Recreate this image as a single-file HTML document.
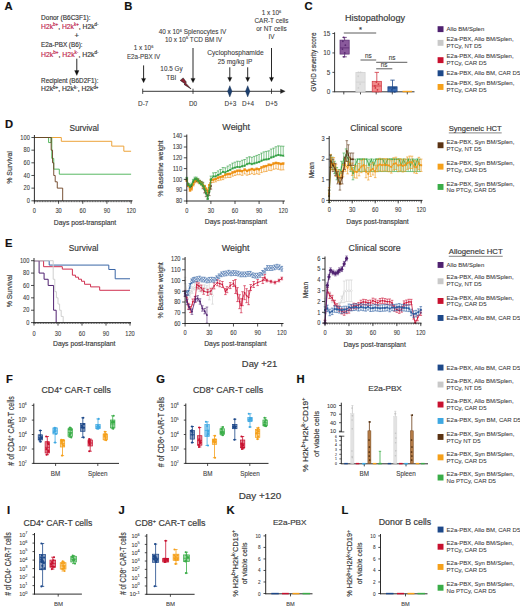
<!DOCTYPE html>
<html><head><meta charset="utf-8"><style>
html,body{margin:0;padding:0;background:#fff;}
body{width:520px;height:608px;overflow:hidden;}
svg{display:block;font-family:"Liberation Sans", sans-serif;}
</style></head><body>
<svg width="520" height="608" viewBox="0 0 520 608">
<rect width="520" height="608" fill="#fff"/>
<text x="4.60" y="10.30" font-size="11.2" text-anchor="start" fill="#111" font-weight="bold" stroke="#111" stroke-width="0.18">A</text>
<text x="41.10" y="19.80" font-size="6.9" text-anchor="start" fill="#3a3a3a" textLength="49.4" lengthAdjust="spacingAndGlyphs" stroke="#3a3a3a" stroke-width="0.18">Donor (B6C3F1):</text>
<text x="41.10" y="28.75" font-size="6.9" text-anchor="start" fill="#3a3a3a" textLength="57.4" lengthAdjust="spacingAndGlyphs" stroke="#3a3a3a" stroke-width="0.18"><tspan fill="#c0284f" stroke="#c0284f">H2k</tspan><tspan fill="#c0284f" stroke="#c0284f" dy="-2.6" font-size="4.6">b+</tspan><tspan dy="2.6">, </tspan><tspan fill="#c0284f" stroke="#c0284f">H2k</tspan><tspan fill="#c0284f" stroke="#c0284f" dy="-2.6" font-size="4.6">k+</tspan><tspan dy="2.6">, </tspan><tspan fill="#3a3a3a" stroke="#3a3a3a">H2k</tspan><tspan fill="#3a3a3a" stroke="#3a3a3a" dy="-2.6" font-size="4.6">d-</tspan><tspan dy="2.6"></tspan></text>
<text x="76.80" y="37.60" font-size="7.6" text-anchor="middle" fill="#3a3a3a" stroke="#3a3a3a" stroke-width="0.18">+</text>
<text x="41.10" y="47.20" font-size="6.9" text-anchor="start" fill="#3a3a3a" textLength="41.5" lengthAdjust="spacingAndGlyphs" stroke="#3a3a3a" stroke-width="0.18">E2a-PBX (B6):</text>
<text x="41.10" y="56.90" font-size="6.9" text-anchor="start" fill="#3a3a3a" textLength="57.4" lengthAdjust="spacingAndGlyphs" stroke="#3a3a3a" stroke-width="0.18"><tspan fill="#c0284f" stroke="#c0284f">H2k</tspan><tspan fill="#c0284f" stroke="#c0284f" dy="-2.6" font-size="4.6">b+</tspan><tspan dy="2.6">, </tspan><tspan fill="#c0284f" stroke="#c0284f">H2k</tspan><tspan fill="#c0284f" stroke="#c0284f" dy="-2.6" font-size="4.6">k-</tspan><tspan dy="2.6">, </tspan><tspan fill="#3a3a3a" stroke="#3a3a3a">H2k</tspan><tspan fill="#3a3a3a" stroke="#3a3a3a" dy="-2.6" font-size="4.6">d-</tspan><tspan dy="2.6"></tspan></text>
<line x1="76.80" y1="58.70" x2="76.80" y2="71.50" stroke="#111" stroke-width="0.9"/>
<path d="M74.6,70.6 L76.8,75.4 L79.0,70.6 Z" stroke="#111" stroke-width="0.3" fill="#111"/>
<text x="41.10" y="82.90" font-size="6.9" text-anchor="start" fill="#3a3a3a" textLength="57.4" lengthAdjust="spacingAndGlyphs" stroke="#3a3a3a" stroke-width="0.18">Recipient (B6D2F1):</text>
<text x="41.10" y="91.10" font-size="6.9" text-anchor="start" fill="#3a3a3a" textLength="57.4" lengthAdjust="spacingAndGlyphs" stroke="#3a3a3a" stroke-width="0.18"><tspan fill="#3a3a3a" stroke="#3a3a3a">H2k</tspan><tspan fill="#3a3a3a" stroke="#3a3a3a" dy="-2.6" font-size="4.6">b+</tspan><tspan dy="2.6">, </tspan><tspan fill="#3a3a3a" stroke="#3a3a3a">H2k</tspan><tspan fill="#3a3a3a" stroke="#3a3a3a" dy="-2.6" font-size="4.6">k-</tspan><tspan dy="2.6">, </tspan><tspan fill="#3a3a3a" stroke="#3a3a3a">H2k</tspan><tspan fill="#3a3a3a" stroke="#3a3a3a" dy="-2.6" font-size="4.6">d+</tspan><tspan dy="2.6"></tspan></text>
<text x="124.20" y="10.00" font-size="11.2" text-anchor="start" fill="#111" font-weight="bold" stroke="#111" stroke-width="0.18">B</text>
<line x1="142.70" y1="91.30" x2="281.50" y2="91.30" stroke="#222" stroke-width="0.9"/>
<path d="M280.5,89.1 L285.2,91.3 L280.5,93.5 Z" stroke="#222" stroke-width="0.3" fill="#222"/>
<line x1="142.70" y1="88.70" x2="142.70" y2="93.90" stroke="#222" stroke-width="0.8"/>
<line x1="193.00" y1="88.70" x2="193.00" y2="93.90" stroke="#222" stroke-width="0.8"/>
<line x1="271.50" y1="88.70" x2="271.50" y2="93.90" stroke="#222" stroke-width="0.8"/>
<line x1="143.60" y1="65.40" x2="143.60" y2="79.20" stroke="#111" stroke-width="0.9"/>
<path d="M141.5,78.4 L143.6,82.7 L145.7,78.4 Z" stroke="#111" stroke-width="0.3" fill="#111"/>
<line x1="193.00" y1="48.00" x2="193.00" y2="79.20" stroke="#111" stroke-width="0.9"/>
<path d="M190.9,78.4 L193.0,82.7 L195.1,78.4 Z" stroke="#111" stroke-width="0.3" fill="#111"/>
<line x1="229.80" y1="67.30" x2="229.80" y2="78.20" stroke="#111" stroke-width="0.9"/>
<path d="M227.70000000000002,77.4 L229.8,81.7 L231.9,77.4 Z" stroke="#111" stroke-width="0.3" fill="#111"/>
<line x1="247.70" y1="67.30" x2="247.70" y2="78.20" stroke="#111" stroke-width="0.9"/>
<path d="M245.6,77.4 L247.7,81.7 L249.79999999999998,77.4 Z" stroke="#111" stroke-width="0.3" fill="#111"/>
<line x1="271.50" y1="48.00" x2="271.50" y2="78.20" stroke="#111" stroke-width="0.9"/>
<path d="M269.4,77.4 L271.5,81.7 L273.6,77.4 Z" stroke="#111" stroke-width="0.3" fill="#111"/>
<path d="M229.8,85.7 L232.0,91.3 L229.8,96.89999999999999 L227.60000000000002,91.3 Z" stroke="#0f2a52" stroke-width="0.4" fill="#1d3f6e"/>
<path d="M247.7,85.7 L249.89999999999998,91.3 L247.7,96.89999999999999 L245.5,91.3 Z" stroke="#0f2a52" stroke-width="0.4" fill="#1d3f6e"/>
<path d="M180.2,80.4 L183.2,77.9 L186.4,82.3 L185.6,82.9 L191.0,88.9 L184.0,84.4 L184.9,83.7 Z" stroke="#151515" stroke-width="0.55" fill="#8e2233" stroke-linejoin="round"/>
<text x="143.20" y="106.00" font-size="6.4" text-anchor="middle" fill="#3a3a3a" stroke="#3a3a3a" stroke-width="0.08">D-7</text>
<text x="193.00" y="106.00" font-size="6.4" text-anchor="middle" fill="#3a3a3a" stroke="#3a3a3a" stroke-width="0.08">D0</text>
<text x="230.40" y="106.00" font-size="6.4" text-anchor="middle" fill="#3a3a3a" stroke="#3a3a3a" stroke-width="0.08">D+3</text>
<text x="248.00" y="106.00" font-size="6.4" text-anchor="middle" fill="#3a3a3a" stroke="#3a3a3a" stroke-width="0.08">D+4</text>
<text x="271.50" y="106.00" font-size="6.4" text-anchor="middle" fill="#3a3a3a" stroke="#3a3a3a" stroke-width="0.08">D+5</text>
<text x="143.60" y="50.00" font-size="6.4" text-anchor="middle" fill="#3a3a3a" stroke="#3a3a3a" stroke-width="0.08">1 x 10<tspan dy="-2.2" font-size="4">6</tspan><tspan dy="2.2" font-size="1">&#8203;</tspan></text>
<text x="143.60" y="58.90" font-size="6.4" text-anchor="middle" fill="#3a3a3a" textLength="33.4" lengthAdjust="spacingAndGlyphs" stroke="#3a3a3a" stroke-width="0.08">E2a-PBX IV</text>
<text x="192.50" y="34.00" font-size="6.4" text-anchor="middle" fill="#3a3a3a" stroke="#3a3a3a" stroke-width="0.08">40 x 10<tspan dy="-2.2" font-size="4">6</tspan><tspan dy="2.2" font-size="1">&#8203;</tspan> Splenocytes IV</text>
<text x="193.50" y="41.60" font-size="6.4" text-anchor="middle" fill="#3a3a3a" stroke="#3a3a3a" stroke-width="0.08">10 x 10<tspan dy="-2.2" font-size="4">6</tspan><tspan dy="2.2" font-size="1">&#8203;</tspan> TCD BM IV</text>
<text x="171.50" y="71.40" font-size="6.4" text-anchor="middle" fill="#3a3a3a" textLength="22.3" lengthAdjust="spacingAndGlyphs" stroke="#3a3a3a" stroke-width="0.08">10.5 Gy</text>
<text x="171.30" y="80.00" font-size="6.4" text-anchor="middle" fill="#3a3a3a" stroke="#3a3a3a" stroke-width="0.08">TBI</text>
<text x="235.50" y="55.10" font-size="6.4" text-anchor="middle" fill="#3a3a3a" textLength="56.5" lengthAdjust="spacingAndGlyphs" stroke="#3a3a3a" stroke-width="0.08">Cyclophosphamide</text>
<text x="235.00" y="63.70" font-size="6.4" text-anchor="middle" fill="#3a3a3a" textLength="34.6" lengthAdjust="spacingAndGlyphs" stroke="#3a3a3a" stroke-width="0.08">25 mg/kg IP</text>
<text x="271.50" y="15.30" font-size="6.4" text-anchor="middle" fill="#3a3a3a" stroke="#3a3a3a" stroke-width="0.08">1 x 10<tspan dy="-2.2" font-size="4">6</tspan><tspan dy="2.2" font-size="1">&#8203;</tspan></text>
<text x="271.50" y="23.00" font-size="6.4" text-anchor="middle" fill="#3a3a3a" stroke="#3a3a3a" stroke-width="0.08">CAR-T cells</text>
<text x="271.50" y="31.00" font-size="6.4" text-anchor="middle" fill="#3a3a3a" stroke="#3a3a3a" stroke-width="0.08">or NT cells</text>
<text x="271.50" y="38.70" font-size="6.4" text-anchor="middle" fill="#3a3a3a" stroke="#3a3a3a" stroke-width="0.08">IV</text>
<text x="304.60" y="10.40" font-size="11.2" text-anchor="start" fill="#111" font-weight="bold" stroke="#111" stroke-width="0.18">C</text>
<text x="375.00" y="21.30" font-size="8.6" text-anchor="middle" fill="#3a3a3a" textLength="60" lengthAdjust="spacingAndGlyphs" stroke="#3a3a3a" stroke-width="0.18">Histopathology</text>
<line x1="334.60" y1="32.30" x2="334.60" y2="92.20" stroke="#222" stroke-width="0.9"/>
<line x1="334.60" y1="91.80" x2="414.50" y2="91.80" stroke="#222" stroke-width="0.9"/>
<line x1="332.40" y1="91.80" x2="334.60" y2="91.80" stroke="#222" stroke-width="0.8"/>
<text x="330.40" y="94.00" font-size="6.4" text-anchor="end" fill="#3a3a3a" stroke="#3a3a3a" stroke-width="0.08">0</text>
<line x1="332.40" y1="72.37" x2="334.60" y2="72.37" stroke="#222" stroke-width="0.8"/>
<text x="330.40" y="74.57" font-size="6.4" text-anchor="end" fill="#3a3a3a" stroke="#3a3a3a" stroke-width="0.08">5</text>
<line x1="332.40" y1="52.93" x2="334.60" y2="52.93" stroke="#222" stroke-width="0.8"/>
<text x="330.40" y="55.13" font-size="6.4" text-anchor="end" fill="#3a3a3a" stroke="#3a3a3a" stroke-width="0.08">10</text>
<line x1="332.40" y1="33.50" x2="334.60" y2="33.50" stroke="#222" stroke-width="0.8"/>
<text x="330.40" y="35.70" font-size="6.4" text-anchor="end" fill="#3a3a3a" stroke="#3a3a3a" stroke-width="0.08">15</text>
<line x1="343.80" y1="91.80" x2="343.80" y2="94.40" stroke="#222" stroke-width="0.8"/>
<line x1="360.50" y1="91.80" x2="360.50" y2="94.40" stroke="#222" stroke-width="0.8"/>
<line x1="376.20" y1="91.80" x2="376.20" y2="94.40" stroke="#222" stroke-width="0.8"/>
<line x1="392.30" y1="91.80" x2="392.30" y2="94.40" stroke="#222" stroke-width="0.8"/>
<line x1="407.30" y1="91.80" x2="407.30" y2="94.40" stroke="#222" stroke-width="0.8"/>
<text x="315.60" y="62.00" font-size="7.6" text-anchor="middle" fill="#3a3a3a" textLength="59" lengthAdjust="spacingAndGlyphs" transform="rotate(-90 315.60 62.00)" stroke="#3a3a3a" stroke-width="0.18">GVHD severity score</text>
<line x1="344.60" y1="37.39" x2="344.60" y2="56.82" stroke="#5a2a72" stroke-width="0.8"/>
<line x1="342.40" y1="37.39" x2="346.80" y2="37.39" stroke="#5a2a72" stroke-width="0.8"/>
<line x1="342.40" y1="56.82" x2="346.80" y2="56.82" stroke="#5a2a72" stroke-width="0.8"/>
<rect x="340.00" y="40.11" width="9.20" height="13.99" fill="#8a5a9c" stroke="#5a2a72" stroke-width="0.7"/>
<line x1="340.00" y1="47.88" x2="349.20" y2="47.88" stroke="#5a2a72" stroke-width="0.8"/>
<circle cx="343.72" cy="37.39" r="0.9" fill="#5a2a72"/>
<circle cx="342.85" cy="41.27" r="0.9" fill="#5a2a72"/>
<circle cx="345.35" cy="45.16" r="0.9" fill="#5a2a72"/>
<circle cx="342.46" cy="49.05" r="0.9" fill="#5a2a72"/>
<circle cx="344.78" cy="52.93" r="0.9" fill="#5a2a72"/>
<circle cx="343.93" cy="56.82" r="0.9" fill="#5a2a72"/>
<line x1="360.50" y1="72.37" x2="360.50" y2="91.80" stroke="#d0d0d0" stroke-width="0.8"/>
<line x1="358.30" y1="72.37" x2="362.70" y2="72.37" stroke="#d0d0d0" stroke-width="0.8"/>
<line x1="358.30" y1="91.80" x2="362.70" y2="91.80" stroke="#d0d0d0" stroke-width="0.8"/>
<rect x="355.90" y="72.37" width="9.20" height="19.43" fill="#e2e2e2" stroke="#d0d0d0" stroke-width="0.7"/>
<line x1="355.90" y1="82.08" x2="365.10" y2="82.08" stroke="#d0d0d0" stroke-width="0.8"/>
<circle cx="358.29" cy="72.37" r="0.9" fill="#d0d0d0"/>
<circle cx="360.54" cy="72.37" r="0.9" fill="#d0d0d0"/>
<circle cx="358.19" cy="76.25" r="0.9" fill="#d0d0d0"/>
<circle cx="360.17" cy="84.03" r="0.9" fill="#d0d0d0"/>
<circle cx="358.35" cy="87.91" r="0.9" fill="#d0d0d0"/>
<circle cx="358.45" cy="91.80" r="0.9" fill="#d0d0d0"/>
<line x1="376.80" y1="72.37" x2="376.80" y2="91.80" stroke="#d0343f" stroke-width="0.8"/>
<line x1="374.60" y1="72.37" x2="379.00" y2="72.37" stroke="#d0343f" stroke-width="0.8"/>
<line x1="374.60" y1="91.80" x2="379.00" y2="91.80" stroke="#d0343f" stroke-width="0.8"/>
<rect x="372.20" y="81.31" width="9.20" height="10.49" fill="#f08a8a" stroke="#d0343f" stroke-width="0.7"/>
<line x1="372.20" y1="85.97" x2="381.40" y2="85.97" stroke="#d0343f" stroke-width="0.8"/>
<circle cx="376.42" cy="82.08" r="0.9" fill="#d0343f"/>
<circle cx="378.43" cy="84.03" r="0.9" fill="#d0343f"/>
<circle cx="374.92" cy="85.97" r="0.9" fill="#d0343f"/>
<circle cx="375.42" cy="87.91" r="0.9" fill="#d0343f"/>
<circle cx="377.44" cy="89.86" r="0.9" fill="#d0343f"/>
<line x1="392.50" y1="80.14" x2="392.50" y2="91.80" stroke="#1d4889" stroke-width="0.8"/>
<line x1="390.30" y1="80.14" x2="394.70" y2="80.14" stroke="#1d4889" stroke-width="0.8"/>
<line x1="390.30" y1="91.80" x2="394.70" y2="91.80" stroke="#1d4889" stroke-width="0.8"/>
<rect x="387.90" y="86.75" width="9.20" height="5.05" fill="#3c6cb0" stroke="#1d4889" stroke-width="0.7"/>
<line x1="387.90" y1="87.91" x2="397.10" y2="87.91" stroke="#1d4889" stroke-width="0.8"/>
<circle cx="394.74" cy="87.91" r="0.9" fill="#1d4889"/>
<circle cx="392.89" cy="87.91" r="0.9" fill="#1d4889"/>
<circle cx="391.98" cy="89.86" r="0.9" fill="#1d4889"/>
<circle cx="394.88" cy="91.80" r="0.9" fill="#1d4889"/>
<line x1="402.50" y1="91.50" x2="412.00" y2="91.50" stroke="#f5a01a" stroke-width="1.4"/>
<line x1="343.80" y1="33.00" x2="376.20" y2="33.00" stroke="#333" stroke-width="0.8"/>
<text x="360.50" y="32.20" font-size="7.5" text-anchor="middle" fill="#3a3a3a" stroke="#3a3a3a" stroke-width="0.18">*</text>
<line x1="360.50" y1="60.00" x2="376.20" y2="60.00" stroke="#333" stroke-width="0.8"/>
<text x="368.30" y="58.00" font-size="6.4" text-anchor="middle" fill="#3a3a3a" stroke="#3a3a3a" stroke-width="0.08">ns</text>
<line x1="376.20" y1="62.30" x2="407.30" y2="62.30" stroke="#333" stroke-width="0.8"/>
<text x="392.00" y="60.30" font-size="6.4" text-anchor="middle" fill="#3a3a3a" stroke="#3a3a3a" stroke-width="0.08">ns</text>
<line x1="376.20" y1="68.80" x2="392.30" y2="68.80" stroke="#333" stroke-width="0.8"/>
<text x="384.20" y="66.80" font-size="6.4" text-anchor="middle" fill="#3a3a3a" stroke="#3a3a3a" stroke-width="0.08">ns</text>
<rect x="437.60" y="26.20" width="5.90" height="5.90" fill="#4f2170" stroke="none" stroke-width="0.6"/>
<text x="446.60" y="30.90" font-size="6.0" text-anchor="start" fill="#3a3a3a" stroke="#3a3a3a" stroke-width="0.08">Allo BM/Splen</text>
<rect x="437.60" y="39.90" width="5.90" height="5.90" fill="#c9c9c9" stroke="none" stroke-width="0.6"/>
<text x="446.60" y="41.10" font-size="6.0" text-anchor="start" fill="#3a3a3a" stroke="#3a3a3a" stroke-width="0.08">E2a-PBX, Allo BM/Splen,</text>
<text x="446.60" y="47.60" font-size="6.0" text-anchor="start" fill="#3a3a3a" stroke="#3a3a3a" stroke-width="0.08">PTCy, NT D5</text>
<rect x="437.60" y="57.20" width="5.90" height="5.90" fill="#c8102e" stroke="none" stroke-width="0.6"/>
<text x="446.60" y="58.20" font-size="6.0" text-anchor="start" fill="#3a3a3a" stroke="#3a3a3a" stroke-width="0.08">E2a-PBX, Allo BM/Splen,</text>
<text x="446.60" y="64.70" font-size="6.0" text-anchor="start" fill="#3a3a3a" stroke="#3a3a3a" stroke-width="0.08">PTCy, CAR D5</text>
<rect x="437.60" y="70.30" width="5.90" height="5.90" fill="#1d4889" stroke="none" stroke-width="0.6"/>
<text x="446.60" y="74.90" font-size="6.0" text-anchor="start" fill="#3a3a3a" stroke="#3a3a3a" stroke-width="0.08">E2a-PBX, Allo BM, CAR D5</text>
<rect x="437.60" y="84.00" width="5.90" height="5.90" fill="#f5a01a" stroke="none" stroke-width="0.6"/>
<text x="446.60" y="84.90" font-size="6.0" text-anchor="start" fill="#3a3a3a" stroke="#3a3a3a" stroke-width="0.08">E2a-PBX, Syn BM/Splen,</text>
<text x="446.60" y="91.50" font-size="6.0" text-anchor="start" fill="#3a3a3a" stroke="#3a3a3a" stroke-width="0.08">PTCy, CAR D5</text>
<text x="4.90" y="127.60" font-size="11.2" text-anchor="start" fill="#111" font-weight="bold" stroke="#111" stroke-width="0.18">D</text>
<text x="84.20" y="130.60" font-size="8.8" text-anchor="middle" fill="#3a3a3a" textLength="29.5" lengthAdjust="spacingAndGlyphs" stroke="#3a3a3a" stroke-width="0.18">Survival</text>
<path d="M34.40,137.50 H61.31 V137.50 H61.31 V141.30 H111.76 V141.30 H111.76 V146.11 H123.84 V146.11 H123.84 V151.24 H131.10 V151.24" stroke="#eda33a" stroke-width="1.0" fill="none"/>
<path d="M34.40,137.50 H48.58 V137.50 H48.58 V142.56 H51.16 V142.56 H51.16 V137.50 H51.81 V137.50 H51.81 V158.39 H53.74 V158.39 H53.74 V169.15 H59.30 V169.15 H59.30 V174.21 H131.10 V174.21" stroke="#45b04f" stroke-width="0.9" fill="none"/>
<path d="M34.40,137.50 H51.16 V137.50 H51.16 V150.16 H52.53 V150.16 H52.53 V162.82 H53.74 V162.82 H53.74 V175.48 H55.19 V175.48 H55.19 V181.81 H57.28 V181.81 H57.28 V188.14 H62.68 V188.14 H62.68 V200.80" stroke="#6b4020" stroke-width="0.9" fill="none"/>
<line x1="34.40" y1="135.00" x2="34.40" y2="201.25" stroke="#222" stroke-width="0.95"/>
<line x1="31.40" y1="200.80" x2="34.40" y2="200.80" stroke="#222" stroke-width="0.8"/>
<text x="29.80" y="203.05" font-size="6.3" text-anchor="end" fill="#3a3a3a" textLength="3.15" lengthAdjust="spacingAndGlyphs" stroke="#3a3a3a" stroke-width="0.08">0</text>
<line x1="31.40" y1="188.14" x2="34.40" y2="188.14" stroke="#222" stroke-width="0.8"/>
<text x="29.80" y="190.39" font-size="6.3" text-anchor="end" fill="#3a3a3a" textLength="6.3" lengthAdjust="spacingAndGlyphs" stroke="#3a3a3a" stroke-width="0.08">20</text>
<line x1="31.40" y1="175.48" x2="34.40" y2="175.48" stroke="#222" stroke-width="0.8"/>
<text x="29.80" y="177.73" font-size="6.3" text-anchor="end" fill="#3a3a3a" textLength="6.3" lengthAdjust="spacingAndGlyphs" stroke="#3a3a3a" stroke-width="0.08">40</text>
<line x1="31.40" y1="162.82" x2="34.40" y2="162.82" stroke="#222" stroke-width="0.8"/>
<text x="29.80" y="165.07" font-size="6.3" text-anchor="end" fill="#3a3a3a" textLength="6.3" lengthAdjust="spacingAndGlyphs" stroke="#3a3a3a" stroke-width="0.08">60</text>
<line x1="31.40" y1="150.16" x2="34.40" y2="150.16" stroke="#222" stroke-width="0.8"/>
<text x="29.80" y="152.41" font-size="6.3" text-anchor="end" fill="#3a3a3a" textLength="6.3" lengthAdjust="spacingAndGlyphs" stroke="#3a3a3a" stroke-width="0.08">80</text>
<line x1="31.40" y1="137.50" x2="34.40" y2="137.50" stroke="#222" stroke-width="0.8"/>
<text x="29.80" y="139.75" font-size="6.3" text-anchor="end" fill="#3a3a3a" textLength="9.45" lengthAdjust="spacingAndGlyphs" stroke="#3a3a3a" stroke-width="0.08">100</text>
<line x1="33.95" y1="200.80" x2="132.50" y2="200.80" stroke="#222" stroke-width="0.95"/>
<line x1="34.40" y1="200.80" x2="34.40" y2="203.80" stroke="#222" stroke-width="0.8"/>
<text x="34.40" y="212.80" font-size="6.3" text-anchor="middle" fill="#3a3a3a" textLength="3.15" lengthAdjust="spacingAndGlyphs" stroke="#3a3a3a" stroke-width="0.08">0</text>
<line x1="58.57" y1="200.80" x2="58.57" y2="203.80" stroke="#222" stroke-width="0.8"/>
<text x="58.57" y="212.80" font-size="6.3" text-anchor="middle" fill="#3a3a3a" textLength="6.3" lengthAdjust="spacingAndGlyphs" stroke="#3a3a3a" stroke-width="0.08">30</text>
<line x1="82.75" y1="200.80" x2="82.75" y2="203.80" stroke="#222" stroke-width="0.8"/>
<text x="82.75" y="212.80" font-size="6.3" text-anchor="middle" fill="#3a3a3a" textLength="6.3" lengthAdjust="spacingAndGlyphs" stroke="#3a3a3a" stroke-width="0.08">60</text>
<line x1="106.92" y1="200.80" x2="106.92" y2="203.80" stroke="#222" stroke-width="0.8"/>
<text x="106.92" y="212.80" font-size="6.3" text-anchor="middle" fill="#3a3a3a" textLength="6.3" lengthAdjust="spacingAndGlyphs" stroke="#3a3a3a" stroke-width="0.08">90</text>
<line x1="131.10" y1="200.80" x2="131.10" y2="203.80" stroke="#222" stroke-width="0.8"/>
<text x="131.10" y="212.80" font-size="6.3" text-anchor="middle" fill="#3a3a3a" textLength="9.45" lengthAdjust="spacingAndGlyphs" stroke="#3a3a3a" stroke-width="0.08">120</text>
<line x1="34.40" y1="200.80" x2="34.40" y2="202.20" stroke="#222" stroke-width="0.6"/>
<line x1="36.01" y1="200.80" x2="36.01" y2="202.20" stroke="#222" stroke-width="0.6"/>
<line x1="37.62" y1="200.80" x2="37.62" y2="202.20" stroke="#222" stroke-width="0.6"/>
<line x1="39.23" y1="200.80" x2="39.23" y2="202.20" stroke="#222" stroke-width="0.6"/>
<line x1="40.85" y1="200.80" x2="40.85" y2="202.20" stroke="#222" stroke-width="0.6"/>
<line x1="42.46" y1="200.80" x2="42.46" y2="202.20" stroke="#222" stroke-width="0.6"/>
<line x1="44.07" y1="200.80" x2="44.07" y2="202.20" stroke="#222" stroke-width="0.6"/>
<line x1="45.68" y1="200.80" x2="45.68" y2="202.20" stroke="#222" stroke-width="0.6"/>
<line x1="47.29" y1="200.80" x2="47.29" y2="202.20" stroke="#222" stroke-width="0.6"/>
<line x1="48.90" y1="200.80" x2="48.90" y2="202.20" stroke="#222" stroke-width="0.6"/>
<line x1="50.52" y1="200.80" x2="50.52" y2="202.20" stroke="#222" stroke-width="0.6"/>
<line x1="52.13" y1="200.80" x2="52.13" y2="202.20" stroke="#222" stroke-width="0.6"/>
<line x1="53.74" y1="200.80" x2="53.74" y2="202.20" stroke="#222" stroke-width="0.6"/>
<line x1="55.35" y1="200.80" x2="55.35" y2="202.20" stroke="#222" stroke-width="0.6"/>
<line x1="56.96" y1="200.80" x2="56.96" y2="202.20" stroke="#222" stroke-width="0.6"/>
<line x1="58.57" y1="200.80" x2="58.57" y2="202.20" stroke="#222" stroke-width="0.6"/>
<line x1="60.19" y1="200.80" x2="60.19" y2="202.20" stroke="#222" stroke-width="0.6"/>
<line x1="61.80" y1="200.80" x2="61.80" y2="202.20" stroke="#222" stroke-width="0.6"/>
<line x1="63.41" y1="200.80" x2="63.41" y2="202.20" stroke="#222" stroke-width="0.6"/>
<line x1="65.02" y1="200.80" x2="65.02" y2="202.20" stroke="#222" stroke-width="0.6"/>
<line x1="66.63" y1="200.80" x2="66.63" y2="202.20" stroke="#222" stroke-width="0.6"/>
<line x1="68.24" y1="200.80" x2="68.24" y2="202.20" stroke="#222" stroke-width="0.6"/>
<line x1="69.86" y1="200.80" x2="69.86" y2="202.20" stroke="#222" stroke-width="0.6"/>
<line x1="71.47" y1="200.80" x2="71.47" y2="202.20" stroke="#222" stroke-width="0.6"/>
<line x1="73.08" y1="200.80" x2="73.08" y2="202.20" stroke="#222" stroke-width="0.6"/>
<line x1="74.69" y1="200.80" x2="74.69" y2="202.20" stroke="#222" stroke-width="0.6"/>
<line x1="76.30" y1="200.80" x2="76.30" y2="202.20" stroke="#222" stroke-width="0.6"/>
<line x1="77.91" y1="200.80" x2="77.91" y2="202.20" stroke="#222" stroke-width="0.6"/>
<line x1="79.52" y1="200.80" x2="79.52" y2="202.20" stroke="#222" stroke-width="0.6"/>
<line x1="81.14" y1="200.80" x2="81.14" y2="202.20" stroke="#222" stroke-width="0.6"/>
<line x1="82.75" y1="200.80" x2="82.75" y2="202.20" stroke="#222" stroke-width="0.6"/>
<line x1="84.36" y1="200.80" x2="84.36" y2="202.20" stroke="#222" stroke-width="0.6"/>
<line x1="85.97" y1="200.80" x2="85.97" y2="202.20" stroke="#222" stroke-width="0.6"/>
<line x1="87.58" y1="200.80" x2="87.58" y2="202.20" stroke="#222" stroke-width="0.6"/>
<line x1="89.19" y1="200.80" x2="89.19" y2="202.20" stroke="#222" stroke-width="0.6"/>
<line x1="90.81" y1="200.80" x2="90.81" y2="202.20" stroke="#222" stroke-width="0.6"/>
<line x1="92.42" y1="200.80" x2="92.42" y2="202.20" stroke="#222" stroke-width="0.6"/>
<line x1="94.03" y1="200.80" x2="94.03" y2="202.20" stroke="#222" stroke-width="0.6"/>
<line x1="95.64" y1="200.80" x2="95.64" y2="202.20" stroke="#222" stroke-width="0.6"/>
<line x1="97.25" y1="200.80" x2="97.25" y2="202.20" stroke="#222" stroke-width="0.6"/>
<line x1="98.86" y1="200.80" x2="98.86" y2="202.20" stroke="#222" stroke-width="0.6"/>
<line x1="100.48" y1="200.80" x2="100.48" y2="202.20" stroke="#222" stroke-width="0.6"/>
<line x1="102.09" y1="200.80" x2="102.09" y2="202.20" stroke="#222" stroke-width="0.6"/>
<line x1="103.70" y1="200.80" x2="103.70" y2="202.20" stroke="#222" stroke-width="0.6"/>
<line x1="105.31" y1="200.80" x2="105.31" y2="202.20" stroke="#222" stroke-width="0.6"/>
<line x1="106.92" y1="200.80" x2="106.92" y2="202.20" stroke="#222" stroke-width="0.6"/>
<line x1="108.53" y1="200.80" x2="108.53" y2="202.20" stroke="#222" stroke-width="0.6"/>
<line x1="110.15" y1="200.80" x2="110.15" y2="202.20" stroke="#222" stroke-width="0.6"/>
<line x1="111.76" y1="200.80" x2="111.76" y2="202.20" stroke="#222" stroke-width="0.6"/>
<line x1="113.37" y1="200.80" x2="113.37" y2="202.20" stroke="#222" stroke-width="0.6"/>
<line x1="114.98" y1="200.80" x2="114.98" y2="202.20" stroke="#222" stroke-width="0.6"/>
<line x1="116.59" y1="200.80" x2="116.59" y2="202.20" stroke="#222" stroke-width="0.6"/>
<line x1="118.20" y1="200.80" x2="118.20" y2="202.20" stroke="#222" stroke-width="0.6"/>
<line x1="119.81" y1="200.80" x2="119.81" y2="202.20" stroke="#222" stroke-width="0.6"/>
<line x1="121.43" y1="200.80" x2="121.43" y2="202.20" stroke="#222" stroke-width="0.6"/>
<line x1="123.04" y1="200.80" x2="123.04" y2="202.20" stroke="#222" stroke-width="0.6"/>
<line x1="124.65" y1="200.80" x2="124.65" y2="202.20" stroke="#222" stroke-width="0.6"/>
<line x1="126.26" y1="200.80" x2="126.26" y2="202.20" stroke="#222" stroke-width="0.6"/>
<line x1="127.87" y1="200.80" x2="127.87" y2="202.20" stroke="#222" stroke-width="0.6"/>
<line x1="129.48" y1="200.80" x2="129.48" y2="202.20" stroke="#222" stroke-width="0.6"/>
<line x1="131.10" y1="200.80" x2="131.10" y2="202.20" stroke="#222" stroke-width="0.6"/>
<text x="11.60" y="167.40" font-size="8.0" text-anchor="middle" fill="#3a3a3a" textLength="32.6" lengthAdjust="spacingAndGlyphs" transform="rotate(-90 11.60 167.40)" stroke="#3a3a3a" stroke-width="0.18">% Survival</text>
<text x="85.00" y="224.60" font-size="8.0" text-anchor="middle" fill="#3a3a3a" textLength="62.4" lengthAdjust="spacingAndGlyphs" stroke="#3a3a3a" stroke-width="0.18">Days post-transplant</text>
<text x="4.90" y="247.40" font-size="11.2" text-anchor="start" fill="#111" font-weight="bold" stroke="#111" stroke-width="0.18">E</text>
<text x="83.60" y="250.60" font-size="8.8" text-anchor="middle" fill="#3a3a3a" textLength="29.5" lengthAdjust="spacingAndGlyphs" stroke="#3a3a3a" stroke-width="0.18">Survival</text>
<path d="M34.00,260.70 H49.20 V260.70 H49.20 V265.09 H108.80 V265.09 H108.80 V269.49 H115.20 V269.49 H115.20 V278.77 H130.00 V278.77" stroke="#3a66a6" stroke-width="1.0" fill="none"/>
<path d="M34.00,260.70 H43.60 V260.70 H43.60 V266.70 H62.32 V266.70 H62.32 V269.12 H72.40 V269.12 H72.40 V275.18 H75.44 V275.18 H75.44 V277.17 H78.48 V277.17 H78.48 V279.21 H81.52 V279.21 H81.52 V281.25 H84.56 V281.25 H84.56 V284.28 H90.56 V284.28 H90.56 V286.88 H99.68 V286.88 H99.68 V290.29 H130.00 V290.29" stroke="#d03050" stroke-width="1.0" fill="none"/>
<path d="M34.00,260.70 H39.12 V260.70 H39.12 V273.08 H44.08 V273.08 H44.08 V279.27 H48.16 V279.27 H48.16 V285.46 H53.60 V285.46 H53.60 V310.22 H56.16 V310.22 H56.16 V322.60" stroke="#4f2170" stroke-width="1.0" fill="none"/>
<path d="M34.00,260.70 H53.20 V260.70 H53.20 V279.27 H54.80 V279.27 H54.80 V291.65 H56.40 V291.65 H56.40 V297.84 H58.00 V297.84 H58.00 V304.03 H59.60 V304.03 H59.60 V310.22 H61.20 V310.22 H61.20 V316.41 H63.20 V316.41 H63.20 V322.60" stroke="#cfcfcf" stroke-width="1.0" fill="none"/>
<line x1="34.00" y1="258.00" x2="34.00" y2="323.05" stroke="#222" stroke-width="0.95"/>
<line x1="31.00" y1="322.60" x2="34.00" y2="322.60" stroke="#222" stroke-width="0.8"/>
<text x="29.40" y="324.85" font-size="6.3" text-anchor="end" fill="#3a3a3a" textLength="3.15" lengthAdjust="spacingAndGlyphs" stroke="#3a3a3a" stroke-width="0.08">0</text>
<line x1="31.00" y1="310.22" x2="34.00" y2="310.22" stroke="#222" stroke-width="0.8"/>
<text x="29.40" y="312.47" font-size="6.3" text-anchor="end" fill="#3a3a3a" textLength="6.3" lengthAdjust="spacingAndGlyphs" stroke="#3a3a3a" stroke-width="0.08">20</text>
<line x1="31.00" y1="297.84" x2="34.00" y2="297.84" stroke="#222" stroke-width="0.8"/>
<text x="29.40" y="300.09" font-size="6.3" text-anchor="end" fill="#3a3a3a" textLength="6.3" lengthAdjust="spacingAndGlyphs" stroke="#3a3a3a" stroke-width="0.08">40</text>
<line x1="31.00" y1="285.46" x2="34.00" y2="285.46" stroke="#222" stroke-width="0.8"/>
<text x="29.40" y="287.71" font-size="6.3" text-anchor="end" fill="#3a3a3a" textLength="6.3" lengthAdjust="spacingAndGlyphs" stroke="#3a3a3a" stroke-width="0.08">60</text>
<line x1="31.00" y1="273.08" x2="34.00" y2="273.08" stroke="#222" stroke-width="0.8"/>
<text x="29.40" y="275.33" font-size="6.3" text-anchor="end" fill="#3a3a3a" textLength="6.3" lengthAdjust="spacingAndGlyphs" stroke="#3a3a3a" stroke-width="0.08">80</text>
<line x1="31.00" y1="260.70" x2="34.00" y2="260.70" stroke="#222" stroke-width="0.8"/>
<text x="29.40" y="262.95" font-size="6.3" text-anchor="end" fill="#3a3a3a" textLength="9.45" lengthAdjust="spacingAndGlyphs" stroke="#3a3a3a" stroke-width="0.08">100</text>
<line x1="33.55" y1="322.60" x2="131.00" y2="322.60" stroke="#222" stroke-width="0.95"/>
<line x1="34.00" y1="322.60" x2="34.00" y2="325.60" stroke="#222" stroke-width="0.8"/>
<text x="34.00" y="335.60" font-size="6.3" text-anchor="middle" fill="#3a3a3a" textLength="3.15" lengthAdjust="spacingAndGlyphs" stroke="#3a3a3a" stroke-width="0.08">0</text>
<line x1="58.00" y1="322.60" x2="58.00" y2="325.60" stroke="#222" stroke-width="0.8"/>
<text x="58.00" y="335.60" font-size="6.3" text-anchor="middle" fill="#3a3a3a" textLength="6.3" lengthAdjust="spacingAndGlyphs" stroke="#3a3a3a" stroke-width="0.08">30</text>
<line x1="82.00" y1="322.60" x2="82.00" y2="325.60" stroke="#222" stroke-width="0.8"/>
<text x="82.00" y="335.60" font-size="6.3" text-anchor="middle" fill="#3a3a3a" textLength="6.3" lengthAdjust="spacingAndGlyphs" stroke="#3a3a3a" stroke-width="0.08">60</text>
<line x1="106.00" y1="322.60" x2="106.00" y2="325.60" stroke="#222" stroke-width="0.8"/>
<text x="106.00" y="335.60" font-size="6.3" text-anchor="middle" fill="#3a3a3a" textLength="6.3" lengthAdjust="spacingAndGlyphs" stroke="#3a3a3a" stroke-width="0.08">90</text>
<line x1="130.00" y1="322.60" x2="130.00" y2="325.60" stroke="#222" stroke-width="0.8"/>
<text x="130.00" y="335.60" font-size="6.3" text-anchor="middle" fill="#3a3a3a" textLength="9.45" lengthAdjust="spacingAndGlyphs" stroke="#3a3a3a" stroke-width="0.08">120</text>
<line x1="34.00" y1="322.60" x2="34.00" y2="324.00" stroke="#222" stroke-width="0.6"/>
<line x1="35.60" y1="322.60" x2="35.60" y2="324.00" stroke="#222" stroke-width="0.6"/>
<line x1="37.20" y1="322.60" x2="37.20" y2="324.00" stroke="#222" stroke-width="0.6"/>
<line x1="38.80" y1="322.60" x2="38.80" y2="324.00" stroke="#222" stroke-width="0.6"/>
<line x1="40.40" y1="322.60" x2="40.40" y2="324.00" stroke="#222" stroke-width="0.6"/>
<line x1="42.00" y1="322.60" x2="42.00" y2="324.00" stroke="#222" stroke-width="0.6"/>
<line x1="43.60" y1="322.60" x2="43.60" y2="324.00" stroke="#222" stroke-width="0.6"/>
<line x1="45.20" y1="322.60" x2="45.20" y2="324.00" stroke="#222" stroke-width="0.6"/>
<line x1="46.80" y1="322.60" x2="46.80" y2="324.00" stroke="#222" stroke-width="0.6"/>
<line x1="48.40" y1="322.60" x2="48.40" y2="324.00" stroke="#222" stroke-width="0.6"/>
<line x1="50.00" y1="322.60" x2="50.00" y2="324.00" stroke="#222" stroke-width="0.6"/>
<line x1="51.60" y1="322.60" x2="51.60" y2="324.00" stroke="#222" stroke-width="0.6"/>
<line x1="53.20" y1="322.60" x2="53.20" y2="324.00" stroke="#222" stroke-width="0.6"/>
<line x1="54.80" y1="322.60" x2="54.80" y2="324.00" stroke="#222" stroke-width="0.6"/>
<line x1="56.40" y1="322.60" x2="56.40" y2="324.00" stroke="#222" stroke-width="0.6"/>
<line x1="58.00" y1="322.60" x2="58.00" y2="324.00" stroke="#222" stroke-width="0.6"/>
<line x1="59.60" y1="322.60" x2="59.60" y2="324.00" stroke="#222" stroke-width="0.6"/>
<line x1="61.20" y1="322.60" x2="61.20" y2="324.00" stroke="#222" stroke-width="0.6"/>
<line x1="62.80" y1="322.60" x2="62.80" y2="324.00" stroke="#222" stroke-width="0.6"/>
<line x1="64.40" y1="322.60" x2="64.40" y2="324.00" stroke="#222" stroke-width="0.6"/>
<line x1="66.00" y1="322.60" x2="66.00" y2="324.00" stroke="#222" stroke-width="0.6"/>
<line x1="67.60" y1="322.60" x2="67.60" y2="324.00" stroke="#222" stroke-width="0.6"/>
<line x1="69.20" y1="322.60" x2="69.20" y2="324.00" stroke="#222" stroke-width="0.6"/>
<line x1="70.80" y1="322.60" x2="70.80" y2="324.00" stroke="#222" stroke-width="0.6"/>
<line x1="72.40" y1="322.60" x2="72.40" y2="324.00" stroke="#222" stroke-width="0.6"/>
<line x1="74.00" y1="322.60" x2="74.00" y2="324.00" stroke="#222" stroke-width="0.6"/>
<line x1="75.60" y1="322.60" x2="75.60" y2="324.00" stroke="#222" stroke-width="0.6"/>
<line x1="77.20" y1="322.60" x2="77.20" y2="324.00" stroke="#222" stroke-width="0.6"/>
<line x1="78.80" y1="322.60" x2="78.80" y2="324.00" stroke="#222" stroke-width="0.6"/>
<line x1="80.40" y1="322.60" x2="80.40" y2="324.00" stroke="#222" stroke-width="0.6"/>
<line x1="82.00" y1="322.60" x2="82.00" y2="324.00" stroke="#222" stroke-width="0.6"/>
<line x1="83.60" y1="322.60" x2="83.60" y2="324.00" stroke="#222" stroke-width="0.6"/>
<line x1="85.20" y1="322.60" x2="85.20" y2="324.00" stroke="#222" stroke-width="0.6"/>
<line x1="86.80" y1="322.60" x2="86.80" y2="324.00" stroke="#222" stroke-width="0.6"/>
<line x1="88.40" y1="322.60" x2="88.40" y2="324.00" stroke="#222" stroke-width="0.6"/>
<line x1="90.00" y1="322.60" x2="90.00" y2="324.00" stroke="#222" stroke-width="0.6"/>
<line x1="91.60" y1="322.60" x2="91.60" y2="324.00" stroke="#222" stroke-width="0.6"/>
<line x1="93.20" y1="322.60" x2="93.20" y2="324.00" stroke="#222" stroke-width="0.6"/>
<line x1="94.80" y1="322.60" x2="94.80" y2="324.00" stroke="#222" stroke-width="0.6"/>
<line x1="96.40" y1="322.60" x2="96.40" y2="324.00" stroke="#222" stroke-width="0.6"/>
<line x1="98.00" y1="322.60" x2="98.00" y2="324.00" stroke="#222" stroke-width="0.6"/>
<line x1="99.60" y1="322.60" x2="99.60" y2="324.00" stroke="#222" stroke-width="0.6"/>
<line x1="101.20" y1="322.60" x2="101.20" y2="324.00" stroke="#222" stroke-width="0.6"/>
<line x1="102.80" y1="322.60" x2="102.80" y2="324.00" stroke="#222" stroke-width="0.6"/>
<line x1="104.40" y1="322.60" x2="104.40" y2="324.00" stroke="#222" stroke-width="0.6"/>
<line x1="106.00" y1="322.60" x2="106.00" y2="324.00" stroke="#222" stroke-width="0.6"/>
<line x1="107.60" y1="322.60" x2="107.60" y2="324.00" stroke="#222" stroke-width="0.6"/>
<line x1="109.20" y1="322.60" x2="109.20" y2="324.00" stroke="#222" stroke-width="0.6"/>
<line x1="110.80" y1="322.60" x2="110.80" y2="324.00" stroke="#222" stroke-width="0.6"/>
<line x1="112.40" y1="322.60" x2="112.40" y2="324.00" stroke="#222" stroke-width="0.6"/>
<line x1="114.00" y1="322.60" x2="114.00" y2="324.00" stroke="#222" stroke-width="0.6"/>
<line x1="115.60" y1="322.60" x2="115.60" y2="324.00" stroke="#222" stroke-width="0.6"/>
<line x1="117.20" y1="322.60" x2="117.20" y2="324.00" stroke="#222" stroke-width="0.6"/>
<line x1="118.80" y1="322.60" x2="118.80" y2="324.00" stroke="#222" stroke-width="0.6"/>
<line x1="120.40" y1="322.60" x2="120.40" y2="324.00" stroke="#222" stroke-width="0.6"/>
<line x1="122.00" y1="322.60" x2="122.00" y2="324.00" stroke="#222" stroke-width="0.6"/>
<line x1="123.60" y1="322.60" x2="123.60" y2="324.00" stroke="#222" stroke-width="0.6"/>
<line x1="125.20" y1="322.60" x2="125.20" y2="324.00" stroke="#222" stroke-width="0.6"/>
<line x1="126.80" y1="322.60" x2="126.80" y2="324.00" stroke="#222" stroke-width="0.6"/>
<line x1="128.40" y1="322.60" x2="128.40" y2="324.00" stroke="#222" stroke-width="0.6"/>
<line x1="130.00" y1="322.60" x2="130.00" y2="324.00" stroke="#222" stroke-width="0.6"/>
<text x="11.60" y="291.00" font-size="8.0" text-anchor="middle" fill="#3a3a3a" textLength="32.6" lengthAdjust="spacingAndGlyphs" transform="rotate(-90 11.60 291.00)" stroke="#3a3a3a" stroke-width="0.18">% Survival</text>
<text x="84.20" y="346.00" font-size="8.0" text-anchor="middle" fill="#3a3a3a" textLength="62.4" lengthAdjust="spacingAndGlyphs" stroke="#3a3a3a" stroke-width="0.18">Days post-transplant</text>
<text x="236.20" y="130.30" font-size="8.8" text-anchor="middle" fill="#3a3a3a" textLength="27.7" lengthAdjust="spacingAndGlyphs" stroke="#3a3a3a" stroke-width="0.18">Weight</text>
<line x1="186.80" y1="178.10" x2="186.80" y2="180.70" stroke="#5a3212" stroke-width="0.6"/>
<line x1="185.50" y1="178.10" x2="188.10" y2="178.10" stroke="#5a3212" stroke-width="0.6"/>
<line x1="185.50" y1="180.70" x2="188.10" y2="180.70" stroke="#5a3212" stroke-width="0.6"/>
<line x1="188.41" y1="183.86" x2="188.41" y2="186.46" stroke="#5a3212" stroke-width="0.6"/>
<line x1="187.11" y1="183.86" x2="189.71" y2="183.86" stroke="#5a3212" stroke-width="0.6"/>
<line x1="187.11" y1="186.46" x2="189.71" y2="186.46" stroke="#5a3212" stroke-width="0.6"/>
<line x1="190.01" y1="186.02" x2="190.01" y2="188.62" stroke="#5a3212" stroke-width="0.6"/>
<line x1="188.71" y1="186.02" x2="191.31" y2="186.02" stroke="#5a3212" stroke-width="0.6"/>
<line x1="188.71" y1="188.62" x2="191.31" y2="188.62" stroke="#5a3212" stroke-width="0.6"/>
<line x1="191.62" y1="184.58" x2="191.62" y2="187.18" stroke="#5a3212" stroke-width="0.6"/>
<line x1="190.32" y1="184.58" x2="192.92" y2="184.58" stroke="#5a3212" stroke-width="0.6"/>
<line x1="190.32" y1="187.18" x2="192.92" y2="187.18" stroke="#5a3212" stroke-width="0.6"/>
<line x1="193.23" y1="181.88" x2="193.23" y2="184.48" stroke="#5a3212" stroke-width="0.6"/>
<line x1="191.93" y1="181.88" x2="194.53" y2="181.88" stroke="#5a3212" stroke-width="0.6"/>
<line x1="191.93" y1="184.48" x2="194.53" y2="184.48" stroke="#5a3212" stroke-width="0.6"/>
<line x1="194.83" y1="179.18" x2="194.83" y2="181.78" stroke="#5a3212" stroke-width="0.6"/>
<line x1="193.53" y1="179.18" x2="196.13" y2="179.18" stroke="#5a3212" stroke-width="0.6"/>
<line x1="193.53" y1="181.78" x2="196.13" y2="181.78" stroke="#5a3212" stroke-width="0.6"/>
<line x1="196.44" y1="179.18" x2="196.44" y2="181.78" stroke="#5a3212" stroke-width="0.6"/>
<line x1="195.14" y1="179.18" x2="197.74" y2="179.18" stroke="#5a3212" stroke-width="0.6"/>
<line x1="195.14" y1="181.78" x2="197.74" y2="181.78" stroke="#5a3212" stroke-width="0.6"/>
<line x1="198.05" y1="179.18" x2="198.05" y2="181.78" stroke="#5a3212" stroke-width="0.6"/>
<line x1="196.75" y1="179.18" x2="199.35" y2="179.18" stroke="#5a3212" stroke-width="0.6"/>
<line x1="196.75" y1="181.78" x2="199.35" y2="181.78" stroke="#5a3212" stroke-width="0.6"/>
<line x1="199.65" y1="180.26" x2="199.65" y2="182.86" stroke="#5a3212" stroke-width="0.6"/>
<line x1="198.35" y1="180.26" x2="200.95" y2="180.26" stroke="#5a3212" stroke-width="0.6"/>
<line x1="198.35" y1="182.86" x2="200.95" y2="182.86" stroke="#5a3212" stroke-width="0.6"/>
<line x1="201.26" y1="181.34" x2="201.26" y2="183.94" stroke="#5a3212" stroke-width="0.6"/>
<line x1="199.96" y1="181.34" x2="202.56" y2="181.34" stroke="#5a3212" stroke-width="0.6"/>
<line x1="199.96" y1="183.94" x2="202.56" y2="183.94" stroke="#5a3212" stroke-width="0.6"/>
<line x1="202.87" y1="182.28" x2="202.87" y2="188.76" stroke="#5a3212" stroke-width="0.6"/>
<line x1="201.57" y1="182.28" x2="204.17" y2="182.28" stroke="#5a3212" stroke-width="0.6"/>
<line x1="201.57" y1="188.76" x2="204.17" y2="188.76" stroke="#5a3212" stroke-width="0.6"/>
<line x1="204.47" y1="186.42" x2="204.47" y2="192.90" stroke="#5a3212" stroke-width="0.6"/>
<line x1="203.17" y1="186.42" x2="205.77" y2="186.42" stroke="#5a3212" stroke-width="0.6"/>
<line x1="203.17" y1="192.90" x2="205.77" y2="192.90" stroke="#5a3212" stroke-width="0.6"/>
<line x1="206.08" y1="190.20" x2="206.08" y2="196.68" stroke="#5a3212" stroke-width="0.6"/>
<line x1="204.78" y1="190.20" x2="207.38" y2="190.20" stroke="#5a3212" stroke-width="0.6"/>
<line x1="204.78" y1="196.68" x2="207.38" y2="196.68" stroke="#5a3212" stroke-width="0.6"/>
<line x1="207.69" y1="192.36" x2="207.69" y2="198.84" stroke="#5a3212" stroke-width="0.6"/>
<line x1="206.39" y1="192.36" x2="208.99" y2="192.36" stroke="#5a3212" stroke-width="0.6"/>
<line x1="206.39" y1="198.84" x2="208.99" y2="198.84" stroke="#5a3212" stroke-width="0.6"/>
<line x1="209.29" y1="189.12" x2="209.29" y2="195.60" stroke="#5a3212" stroke-width="0.6"/>
<line x1="207.99" y1="189.12" x2="210.59" y2="189.12" stroke="#5a3212" stroke-width="0.6"/>
<line x1="207.99" y1="195.60" x2="210.59" y2="195.60" stroke="#5a3212" stroke-width="0.6"/>
<line x1="210.90" y1="182.64" x2="210.90" y2="189.12" stroke="#5a3212" stroke-width="0.6"/>
<line x1="209.60" y1="182.64" x2="212.20" y2="182.64" stroke="#5a3212" stroke-width="0.6"/>
<line x1="209.60" y1="189.12" x2="212.20" y2="189.12" stroke="#5a3212" stroke-width="0.6"/>
<path d="M186.80,179.40 L188.41,185.16 L190.01,187.32 L191.62,185.88 L193.23,183.18 L194.83,180.48 L196.44,180.48 L198.05,180.48 L199.65,181.56 L201.26,182.64 L202.87,185.52 L204.47,189.66 L206.08,193.44 L207.69,195.60 L209.29,192.36 L210.90,185.88" stroke="#5a3212" stroke-width="0.8" fill="none" stroke-linejoin="round"/>
<circle cx="186.80" cy="179.40" r="0.95" fill="#5a3212"/>
<circle cx="188.41" cy="185.16" r="0.95" fill="#5a3212"/>
<circle cx="190.01" cy="187.32" r="0.95" fill="#5a3212"/>
<circle cx="191.62" cy="185.88" r="0.95" fill="#5a3212"/>
<circle cx="193.23" cy="183.18" r="0.95" fill="#5a3212"/>
<circle cx="194.83" cy="180.48" r="0.95" fill="#5a3212"/>
<circle cx="196.44" cy="180.48" r="0.95" fill="#5a3212"/>
<circle cx="198.05" cy="180.48" r="0.95" fill="#5a3212"/>
<circle cx="199.65" cy="181.56" r="0.95" fill="#5a3212"/>
<circle cx="201.26" cy="182.64" r="0.95" fill="#5a3212"/>
<circle cx="202.87" cy="185.52" r="0.95" fill="#5a3212"/>
<circle cx="204.47" cy="189.66" r="0.95" fill="#5a3212"/>
<circle cx="206.08" cy="193.44" r="0.95" fill="#5a3212"/>
<circle cx="207.69" cy="195.60" r="0.95" fill="#5a3212"/>
<circle cx="209.29" cy="192.36" r="0.95" fill="#5a3212"/>
<circle cx="210.90" cy="185.88" r="0.95" fill="#5a3212"/>
<line x1="186.80" y1="179.32" x2="186.80" y2="181.48" stroke="#ee9012" stroke-width="0.6"/>
<line x1="185.50" y1="179.32" x2="188.10" y2="179.32" stroke="#ee9012" stroke-width="0.6"/>
<line x1="185.50" y1="181.48" x2="188.10" y2="181.48" stroke="#ee9012" stroke-width="0.6"/>
<line x1="188.41" y1="184.40" x2="188.41" y2="186.64" stroke="#ee9012" stroke-width="0.6"/>
<line x1="187.11" y1="184.40" x2="189.71" y2="184.40" stroke="#ee9012" stroke-width="0.6"/>
<line x1="187.11" y1="186.64" x2="189.71" y2="186.64" stroke="#ee9012" stroke-width="0.6"/>
<line x1="190.01" y1="189.16" x2="190.01" y2="191.48" stroke="#ee9012" stroke-width="0.6"/>
<line x1="188.71" y1="189.16" x2="191.31" y2="189.16" stroke="#ee9012" stroke-width="0.6"/>
<line x1="188.71" y1="191.48" x2="191.31" y2="191.48" stroke="#ee9012" stroke-width="0.6"/>
<line x1="191.62" y1="187.79" x2="191.62" y2="190.19" stroke="#ee9012" stroke-width="0.6"/>
<line x1="190.32" y1="187.79" x2="192.92" y2="187.79" stroke="#ee9012" stroke-width="0.6"/>
<line x1="190.32" y1="190.19" x2="192.92" y2="190.19" stroke="#ee9012" stroke-width="0.6"/>
<line x1="193.23" y1="183.52" x2="193.23" y2="186.00" stroke="#ee9012" stroke-width="0.6"/>
<line x1="191.93" y1="183.52" x2="194.53" y2="183.52" stroke="#ee9012" stroke-width="0.6"/>
<line x1="191.93" y1="186.00" x2="194.53" y2="186.00" stroke="#ee9012" stroke-width="0.6"/>
<line x1="194.83" y1="180.31" x2="194.83" y2="182.87" stroke="#ee9012" stroke-width="0.6"/>
<line x1="193.53" y1="180.31" x2="196.13" y2="180.31" stroke="#ee9012" stroke-width="0.6"/>
<line x1="193.53" y1="182.87" x2="196.13" y2="182.87" stroke="#ee9012" stroke-width="0.6"/>
<line x1="196.44" y1="178.35" x2="196.44" y2="181.00" stroke="#ee9012" stroke-width="0.6"/>
<line x1="195.14" y1="178.35" x2="197.74" y2="178.35" stroke="#ee9012" stroke-width="0.6"/>
<line x1="195.14" y1="181.00" x2="197.74" y2="181.00" stroke="#ee9012" stroke-width="0.6"/>
<line x1="198.05" y1="180.17" x2="198.05" y2="182.89" stroke="#ee9012" stroke-width="0.6"/>
<line x1="196.75" y1="180.17" x2="199.35" y2="180.17" stroke="#ee9012" stroke-width="0.6"/>
<line x1="196.75" y1="182.89" x2="199.35" y2="182.89" stroke="#ee9012" stroke-width="0.6"/>
<line x1="199.65" y1="180.91" x2="199.65" y2="183.72" stroke="#ee9012" stroke-width="0.6"/>
<line x1="198.35" y1="180.91" x2="200.95" y2="180.91" stroke="#ee9012" stroke-width="0.6"/>
<line x1="198.35" y1="183.72" x2="200.95" y2="183.72" stroke="#ee9012" stroke-width="0.6"/>
<line x1="201.26" y1="182.26" x2="201.26" y2="185.14" stroke="#ee9012" stroke-width="0.6"/>
<line x1="199.96" y1="182.26" x2="202.56" y2="182.26" stroke="#ee9012" stroke-width="0.6"/>
<line x1="199.96" y1="185.14" x2="202.56" y2="185.14" stroke="#ee9012" stroke-width="0.6"/>
<line x1="202.87" y1="184.16" x2="202.87" y2="187.13" stroke="#ee9012" stroke-width="0.6"/>
<line x1="201.57" y1="184.16" x2="204.17" y2="184.16" stroke="#ee9012" stroke-width="0.6"/>
<line x1="201.57" y1="187.13" x2="204.17" y2="187.13" stroke="#ee9012" stroke-width="0.6"/>
<line x1="204.47" y1="185.29" x2="204.47" y2="188.34" stroke="#ee9012" stroke-width="0.6"/>
<line x1="203.17" y1="185.29" x2="205.77" y2="185.29" stroke="#ee9012" stroke-width="0.6"/>
<line x1="203.17" y1="188.34" x2="205.77" y2="188.34" stroke="#ee9012" stroke-width="0.6"/>
<line x1="206.08" y1="187.93" x2="206.08" y2="191.06" stroke="#ee9012" stroke-width="0.6"/>
<line x1="204.78" y1="187.93" x2="207.38" y2="187.93" stroke="#ee9012" stroke-width="0.6"/>
<line x1="204.78" y1="191.06" x2="207.38" y2="191.06" stroke="#ee9012" stroke-width="0.6"/>
<line x1="207.69" y1="190.10" x2="207.69" y2="193.31" stroke="#ee9012" stroke-width="0.6"/>
<line x1="206.39" y1="190.10" x2="208.99" y2="190.10" stroke="#ee9012" stroke-width="0.6"/>
<line x1="206.39" y1="193.31" x2="208.99" y2="193.31" stroke="#ee9012" stroke-width="0.6"/>
<line x1="209.29" y1="184.44" x2="209.29" y2="187.74" stroke="#ee9012" stroke-width="0.6"/>
<line x1="207.99" y1="184.44" x2="210.59" y2="184.44" stroke="#ee9012" stroke-width="0.6"/>
<line x1="207.99" y1="187.74" x2="210.59" y2="187.74" stroke="#ee9012" stroke-width="0.6"/>
<line x1="210.90" y1="179.30" x2="210.90" y2="182.68" stroke="#ee9012" stroke-width="0.6"/>
<line x1="209.60" y1="179.30" x2="212.20" y2="179.30" stroke="#ee9012" stroke-width="0.6"/>
<line x1="209.60" y1="182.68" x2="212.20" y2="182.68" stroke="#ee9012" stroke-width="0.6"/>
<line x1="213.31" y1="178.88" x2="213.31" y2="182.37" stroke="#ee9012" stroke-width="0.6"/>
<line x1="212.01" y1="178.88" x2="214.61" y2="178.88" stroke="#ee9012" stroke-width="0.6"/>
<line x1="212.01" y1="182.37" x2="214.61" y2="182.37" stroke="#ee9012" stroke-width="0.6"/>
<line x1="215.72" y1="178.21" x2="215.72" y2="181.83" stroke="#ee9012" stroke-width="0.6"/>
<line x1="214.42" y1="178.21" x2="217.02" y2="178.21" stroke="#ee9012" stroke-width="0.6"/>
<line x1="214.42" y1="181.83" x2="217.02" y2="181.83" stroke="#ee9012" stroke-width="0.6"/>
<line x1="218.13" y1="176.88" x2="218.13" y2="180.62" stroke="#ee9012" stroke-width="0.6"/>
<line x1="216.83" y1="176.88" x2="219.43" y2="176.88" stroke="#ee9012" stroke-width="0.6"/>
<line x1="216.83" y1="180.62" x2="219.43" y2="180.62" stroke="#ee9012" stroke-width="0.6"/>
<line x1="220.54" y1="176.24" x2="220.54" y2="180.10" stroke="#ee9012" stroke-width="0.6"/>
<line x1="219.24" y1="176.24" x2="221.84" y2="176.24" stroke="#ee9012" stroke-width="0.6"/>
<line x1="219.24" y1="180.10" x2="221.84" y2="180.10" stroke="#ee9012" stroke-width="0.6"/>
<line x1="222.95" y1="175.64" x2="222.95" y2="179.62" stroke="#ee9012" stroke-width="0.6"/>
<line x1="221.65" y1="175.64" x2="224.25" y2="175.64" stroke="#ee9012" stroke-width="0.6"/>
<line x1="221.65" y1="179.62" x2="224.25" y2="179.62" stroke="#ee9012" stroke-width="0.6"/>
<line x1="225.36" y1="173.92" x2="225.36" y2="178.03" stroke="#ee9012" stroke-width="0.6"/>
<line x1="224.06" y1="173.92" x2="226.66" y2="173.92" stroke="#ee9012" stroke-width="0.6"/>
<line x1="224.06" y1="178.03" x2="226.66" y2="178.03" stroke="#ee9012" stroke-width="0.6"/>
<line x1="227.77" y1="173.22" x2="227.77" y2="177.45" stroke="#ee9012" stroke-width="0.6"/>
<line x1="226.47" y1="173.22" x2="229.07" y2="173.22" stroke="#ee9012" stroke-width="0.6"/>
<line x1="226.47" y1="177.45" x2="229.07" y2="177.45" stroke="#ee9012" stroke-width="0.6"/>
<line x1="230.18" y1="173.15" x2="230.18" y2="177.49" stroke="#ee9012" stroke-width="0.6"/>
<line x1="228.88" y1="173.15" x2="231.48" y2="173.15" stroke="#ee9012" stroke-width="0.6"/>
<line x1="228.88" y1="177.49" x2="231.48" y2="177.49" stroke="#ee9012" stroke-width="0.6"/>
<line x1="232.59" y1="171.71" x2="232.59" y2="176.18" stroke="#ee9012" stroke-width="0.6"/>
<line x1="231.29" y1="171.71" x2="233.89" y2="171.71" stroke="#ee9012" stroke-width="0.6"/>
<line x1="231.29" y1="176.18" x2="233.89" y2="176.18" stroke="#ee9012" stroke-width="0.6"/>
<line x1="235.00" y1="170.93" x2="235.00" y2="175.52" stroke="#ee9012" stroke-width="0.6"/>
<line x1="233.70" y1="170.93" x2="236.30" y2="170.93" stroke="#ee9012" stroke-width="0.6"/>
<line x1="233.70" y1="175.52" x2="236.30" y2="175.52" stroke="#ee9012" stroke-width="0.6"/>
<line x1="237.41" y1="170.00" x2="237.41" y2="174.72" stroke="#ee9012" stroke-width="0.6"/>
<line x1="236.11" y1="170.00" x2="238.71" y2="170.00" stroke="#ee9012" stroke-width="0.6"/>
<line x1="236.11" y1="174.72" x2="238.71" y2="174.72" stroke="#ee9012" stroke-width="0.6"/>
<line x1="239.82" y1="169.93" x2="239.82" y2="174.76" stroke="#ee9012" stroke-width="0.6"/>
<line x1="238.52" y1="169.93" x2="241.12" y2="169.93" stroke="#ee9012" stroke-width="0.6"/>
<line x1="238.52" y1="174.76" x2="241.12" y2="174.76" stroke="#ee9012" stroke-width="0.6"/>
<line x1="242.23" y1="170.37" x2="242.23" y2="175.32" stroke="#ee9012" stroke-width="0.6"/>
<line x1="240.93" y1="170.37" x2="243.53" y2="170.37" stroke="#ee9012" stroke-width="0.6"/>
<line x1="240.93" y1="175.32" x2="243.53" y2="175.32" stroke="#ee9012" stroke-width="0.6"/>
<line x1="244.64" y1="168.85" x2="244.64" y2="173.93" stroke="#ee9012" stroke-width="0.6"/>
<line x1="243.34" y1="168.85" x2="245.94" y2="168.85" stroke="#ee9012" stroke-width="0.6"/>
<line x1="243.34" y1="173.93" x2="245.94" y2="173.93" stroke="#ee9012" stroke-width="0.6"/>
<line x1="247.05" y1="170.02" x2="247.05" y2="175.21" stroke="#ee9012" stroke-width="0.6"/>
<line x1="245.75" y1="170.02" x2="248.35" y2="170.02" stroke="#ee9012" stroke-width="0.6"/>
<line x1="245.75" y1="175.21" x2="248.35" y2="175.21" stroke="#ee9012" stroke-width="0.6"/>
<line x1="249.46" y1="169.17" x2="249.46" y2="174.49" stroke="#ee9012" stroke-width="0.6"/>
<line x1="248.16" y1="169.17" x2="250.76" y2="169.17" stroke="#ee9012" stroke-width="0.6"/>
<line x1="248.16" y1="174.49" x2="250.76" y2="174.49" stroke="#ee9012" stroke-width="0.6"/>
<line x1="251.87" y1="168.26" x2="251.87" y2="173.70" stroke="#ee9012" stroke-width="0.6"/>
<line x1="250.57" y1="168.26" x2="253.17" y2="168.26" stroke="#ee9012" stroke-width="0.6"/>
<line x1="250.57" y1="173.70" x2="253.17" y2="173.70" stroke="#ee9012" stroke-width="0.6"/>
<line x1="254.28" y1="168.99" x2="254.28" y2="174.55" stroke="#ee9012" stroke-width="0.6"/>
<line x1="252.98" y1="168.99" x2="255.58" y2="168.99" stroke="#ee9012" stroke-width="0.6"/>
<line x1="252.98" y1="174.55" x2="255.58" y2="174.55" stroke="#ee9012" stroke-width="0.6"/>
<line x1="256.69" y1="168.08" x2="256.69" y2="173.76" stroke="#ee9012" stroke-width="0.6"/>
<line x1="255.39" y1="168.08" x2="257.99" y2="168.08" stroke="#ee9012" stroke-width="0.6"/>
<line x1="255.39" y1="173.76" x2="257.99" y2="173.76" stroke="#ee9012" stroke-width="0.6"/>
<line x1="259.10" y1="168.53" x2="259.10" y2="174.34" stroke="#ee9012" stroke-width="0.6"/>
<line x1="257.80" y1="168.53" x2="260.40" y2="168.53" stroke="#ee9012" stroke-width="0.6"/>
<line x1="257.80" y1="174.34" x2="260.40" y2="174.34" stroke="#ee9012" stroke-width="0.6"/>
<line x1="261.51" y1="166.67" x2="261.51" y2="172.60" stroke="#ee9012" stroke-width="0.6"/>
<line x1="260.21" y1="166.67" x2="262.81" y2="166.67" stroke="#ee9012" stroke-width="0.6"/>
<line x1="260.21" y1="172.60" x2="262.81" y2="172.60" stroke="#ee9012" stroke-width="0.6"/>
<line x1="263.92" y1="165.74" x2="263.92" y2="171.78" stroke="#ee9012" stroke-width="0.6"/>
<line x1="262.62" y1="165.74" x2="265.22" y2="165.74" stroke="#ee9012" stroke-width="0.6"/>
<line x1="262.62" y1="171.78" x2="265.22" y2="171.78" stroke="#ee9012" stroke-width="0.6"/>
<line x1="266.33" y1="165.30" x2="266.33" y2="171.47" stroke="#ee9012" stroke-width="0.6"/>
<line x1="265.03" y1="165.30" x2="267.63" y2="165.30" stroke="#ee9012" stroke-width="0.6"/>
<line x1="265.03" y1="171.47" x2="267.63" y2="171.47" stroke="#ee9012" stroke-width="0.6"/>
<line x1="268.74" y1="164.00" x2="268.74" y2="170.29" stroke="#ee9012" stroke-width="0.6"/>
<line x1="267.44" y1="164.00" x2="270.04" y2="164.00" stroke="#ee9012" stroke-width="0.6"/>
<line x1="267.44" y1="170.29" x2="270.04" y2="170.29" stroke="#ee9012" stroke-width="0.6"/>
<line x1="271.15" y1="164.20" x2="271.15" y2="170.61" stroke="#ee9012" stroke-width="0.6"/>
<line x1="269.85" y1="164.20" x2="272.45" y2="164.20" stroke="#ee9012" stroke-width="0.6"/>
<line x1="269.85" y1="170.61" x2="272.45" y2="170.61" stroke="#ee9012" stroke-width="0.6"/>
<line x1="273.56" y1="162.77" x2="273.56" y2="169.30" stroke="#ee9012" stroke-width="0.6"/>
<line x1="272.26" y1="162.77" x2="274.86" y2="162.77" stroke="#ee9012" stroke-width="0.6"/>
<line x1="272.26" y1="169.30" x2="274.86" y2="169.30" stroke="#ee9012" stroke-width="0.6"/>
<line x1="275.97" y1="162.17" x2="275.97" y2="168.83" stroke="#ee9012" stroke-width="0.6"/>
<line x1="274.67" y1="162.17" x2="277.27" y2="162.17" stroke="#ee9012" stroke-width="0.6"/>
<line x1="274.67" y1="168.83" x2="277.27" y2="168.83" stroke="#ee9012" stroke-width="0.6"/>
<line x1="278.38" y1="162.56" x2="278.38" y2="169.33" stroke="#ee9012" stroke-width="0.6"/>
<line x1="277.08" y1="162.56" x2="279.68" y2="162.56" stroke="#ee9012" stroke-width="0.6"/>
<line x1="277.08" y1="169.33" x2="279.68" y2="169.33" stroke="#ee9012" stroke-width="0.6"/>
<line x1="280.79" y1="163.13" x2="280.79" y2="170.03" stroke="#ee9012" stroke-width="0.6"/>
<line x1="279.49" y1="163.13" x2="282.09" y2="163.13" stroke="#ee9012" stroke-width="0.6"/>
<line x1="279.49" y1="170.03" x2="282.09" y2="170.03" stroke="#ee9012" stroke-width="0.6"/>
<line x1="283.20" y1="162.83" x2="283.20" y2="169.85" stroke="#ee9012" stroke-width="0.6"/>
<line x1="281.90" y1="162.83" x2="284.50" y2="162.83" stroke="#ee9012" stroke-width="0.6"/>
<line x1="281.90" y1="169.85" x2="284.50" y2="169.85" stroke="#ee9012" stroke-width="0.6"/>
<path d="M186.80,180.18 L188.41,185.26 L190.01,190.02 L191.62,188.65 L193.23,184.38 L194.83,181.17 L196.44,179.21 L198.05,181.03 L199.65,181.78 L201.26,183.12 L202.87,185.02 L204.47,186.16 L206.08,188.80 L207.69,190.96 L209.29,185.31 L210.90,180.17 L213.31,179.74 L215.72,179.07 L218.13,177.74 L220.54,177.10 L222.95,176.51 L225.36,174.79 L227.77,174.09 L230.18,174.01 L232.59,172.58 L235.00,171.80 L237.41,170.87 L239.82,170.80 L242.23,171.23 L244.64,169.71 L247.05,170.88 L249.46,170.04 L251.87,169.13 L254.28,169.85 L256.69,168.94 L259.10,169.40 L261.51,167.54 L263.92,166.60 L266.33,166.16 L268.74,164.87 L271.15,165.06 L273.56,163.63 L275.97,163.04 L278.38,163.42 L280.79,164.00 L283.20,163.69" stroke="#ee9012" stroke-width="1.0" fill="none" stroke-linejoin="round"/>
<rect x="185.65" y="179.03" width="2.30" height="2.30" fill="#ee9012"/>
<rect x="187.26" y="184.11" width="2.30" height="2.30" fill="#ee9012"/>
<rect x="188.86" y="188.87" width="2.30" height="2.30" fill="#ee9012"/>
<rect x="190.47" y="187.50" width="2.30" height="2.30" fill="#ee9012"/>
<rect x="192.08" y="183.23" width="2.30" height="2.30" fill="#ee9012"/>
<rect x="193.68" y="180.02" width="2.30" height="2.30" fill="#ee9012"/>
<rect x="195.29" y="178.06" width="2.30" height="2.30" fill="#ee9012"/>
<rect x="196.90" y="179.88" width="2.30" height="2.30" fill="#ee9012"/>
<rect x="198.50" y="180.63" width="2.30" height="2.30" fill="#ee9012"/>
<rect x="200.11" y="181.97" width="2.30" height="2.30" fill="#ee9012"/>
<rect x="201.72" y="183.87" width="2.30" height="2.30" fill="#ee9012"/>
<rect x="203.32" y="185.01" width="2.30" height="2.30" fill="#ee9012"/>
<rect x="204.93" y="187.65" width="2.30" height="2.30" fill="#ee9012"/>
<rect x="206.54" y="189.81" width="2.30" height="2.30" fill="#ee9012"/>
<rect x="208.14" y="184.16" width="2.30" height="2.30" fill="#ee9012"/>
<rect x="209.75" y="179.02" width="2.30" height="2.30" fill="#ee9012"/>
<rect x="212.16" y="178.59" width="2.30" height="2.30" fill="#ee9012"/>
<rect x="214.57" y="177.92" width="2.30" height="2.30" fill="#ee9012"/>
<rect x="216.98" y="176.59" width="2.30" height="2.30" fill="#ee9012"/>
<rect x="219.39" y="175.95" width="2.30" height="2.30" fill="#ee9012"/>
<rect x="221.80" y="175.36" width="2.30" height="2.30" fill="#ee9012"/>
<rect x="224.21" y="173.64" width="2.30" height="2.30" fill="#ee9012"/>
<rect x="226.62" y="172.94" width="2.30" height="2.30" fill="#ee9012"/>
<rect x="229.03" y="172.86" width="2.30" height="2.30" fill="#ee9012"/>
<rect x="231.44" y="171.43" width="2.30" height="2.30" fill="#ee9012"/>
<rect x="233.85" y="170.65" width="2.30" height="2.30" fill="#ee9012"/>
<rect x="236.26" y="169.72" width="2.30" height="2.30" fill="#ee9012"/>
<rect x="238.67" y="169.65" width="2.30" height="2.30" fill="#ee9012"/>
<rect x="241.08" y="170.08" width="2.30" height="2.30" fill="#ee9012"/>
<rect x="243.49" y="168.56" width="2.30" height="2.30" fill="#ee9012"/>
<rect x="245.90" y="169.73" width="2.30" height="2.30" fill="#ee9012"/>
<rect x="248.31" y="168.89" width="2.30" height="2.30" fill="#ee9012"/>
<rect x="250.72" y="167.98" width="2.30" height="2.30" fill="#ee9012"/>
<rect x="253.13" y="168.70" width="2.30" height="2.30" fill="#ee9012"/>
<rect x="255.54" y="167.79" width="2.30" height="2.30" fill="#ee9012"/>
<rect x="257.95" y="168.25" width="2.30" height="2.30" fill="#ee9012"/>
<rect x="260.36" y="166.39" width="2.30" height="2.30" fill="#ee9012"/>
<rect x="262.77" y="165.45" width="2.30" height="2.30" fill="#ee9012"/>
<rect x="265.18" y="165.01" width="2.30" height="2.30" fill="#ee9012"/>
<rect x="267.59" y="163.72" width="2.30" height="2.30" fill="#ee9012"/>
<rect x="270.00" y="163.91" width="2.30" height="2.30" fill="#ee9012"/>
<rect x="272.41" y="162.48" width="2.30" height="2.30" fill="#ee9012"/>
<rect x="274.82" y="161.89" width="2.30" height="2.30" fill="#ee9012"/>
<rect x="277.23" y="162.27" width="2.30" height="2.30" fill="#ee9012"/>
<rect x="279.64" y="162.85" width="2.30" height="2.30" fill="#ee9012"/>
<rect x="282.05" y="162.54" width="2.30" height="2.30" fill="#ee9012"/>
<line x1="186.80" y1="177.34" x2="186.80" y2="179.28" stroke="#2f9e3f" stroke-width="0.6"/>
<line x1="185.50" y1="177.34" x2="188.10" y2="177.34" stroke="#2f9e3f" stroke-width="0.6"/>
<line x1="185.50" y1="179.28" x2="188.10" y2="179.28" stroke="#2f9e3f" stroke-width="0.6"/>
<line x1="188.41" y1="183.41" x2="188.41" y2="185.49" stroke="#2f9e3f" stroke-width="0.6"/>
<line x1="187.11" y1="183.41" x2="189.71" y2="183.41" stroke="#2f9e3f" stroke-width="0.6"/>
<line x1="187.11" y1="185.49" x2="189.71" y2="185.49" stroke="#2f9e3f" stroke-width="0.6"/>
<line x1="190.01" y1="185.11" x2="190.01" y2="187.32" stroke="#2f9e3f" stroke-width="0.6"/>
<line x1="188.71" y1="185.11" x2="191.31" y2="185.11" stroke="#2f9e3f" stroke-width="0.6"/>
<line x1="188.71" y1="187.32" x2="191.31" y2="187.32" stroke="#2f9e3f" stroke-width="0.6"/>
<line x1="191.62" y1="183.14" x2="191.62" y2="185.49" stroke="#2f9e3f" stroke-width="0.6"/>
<line x1="190.32" y1="183.14" x2="192.92" y2="183.14" stroke="#2f9e3f" stroke-width="0.6"/>
<line x1="190.32" y1="185.49" x2="192.92" y2="185.49" stroke="#2f9e3f" stroke-width="0.6"/>
<line x1="193.23" y1="179.38" x2="193.23" y2="181.86" stroke="#2f9e3f" stroke-width="0.6"/>
<line x1="191.93" y1="179.38" x2="194.53" y2="179.38" stroke="#2f9e3f" stroke-width="0.6"/>
<line x1="191.93" y1="181.86" x2="194.53" y2="181.86" stroke="#2f9e3f" stroke-width="0.6"/>
<line x1="194.83" y1="177.17" x2="194.83" y2="179.79" stroke="#2f9e3f" stroke-width="0.6"/>
<line x1="193.53" y1="177.17" x2="196.13" y2="177.17" stroke="#2f9e3f" stroke-width="0.6"/>
<line x1="193.53" y1="179.79" x2="196.13" y2="179.79" stroke="#2f9e3f" stroke-width="0.6"/>
<line x1="196.44" y1="177.16" x2="196.44" y2="179.92" stroke="#2f9e3f" stroke-width="0.6"/>
<line x1="195.14" y1="177.16" x2="197.74" y2="177.16" stroke="#2f9e3f" stroke-width="0.6"/>
<line x1="195.14" y1="179.92" x2="197.74" y2="179.92" stroke="#2f9e3f" stroke-width="0.6"/>
<line x1="198.05" y1="178.40" x2="198.05" y2="181.29" stroke="#2f9e3f" stroke-width="0.6"/>
<line x1="196.75" y1="178.40" x2="199.35" y2="178.40" stroke="#2f9e3f" stroke-width="0.6"/>
<line x1="196.75" y1="181.29" x2="199.35" y2="181.29" stroke="#2f9e3f" stroke-width="0.6"/>
<line x1="199.65" y1="180.64" x2="199.65" y2="183.66" stroke="#2f9e3f" stroke-width="0.6"/>
<line x1="198.35" y1="180.64" x2="200.95" y2="180.64" stroke="#2f9e3f" stroke-width="0.6"/>
<line x1="198.35" y1="183.66" x2="200.95" y2="183.66" stroke="#2f9e3f" stroke-width="0.6"/>
<line x1="201.26" y1="181.77" x2="201.26" y2="184.93" stroke="#2f9e3f" stroke-width="0.6"/>
<line x1="199.96" y1="181.77" x2="202.56" y2="181.77" stroke="#2f9e3f" stroke-width="0.6"/>
<line x1="199.96" y1="184.93" x2="202.56" y2="184.93" stroke="#2f9e3f" stroke-width="0.6"/>
<line x1="202.87" y1="182.94" x2="202.87" y2="186.24" stroke="#2f9e3f" stroke-width="0.6"/>
<line x1="201.57" y1="182.94" x2="204.17" y2="182.94" stroke="#2f9e3f" stroke-width="0.6"/>
<line x1="201.57" y1="186.24" x2="204.17" y2="186.24" stroke="#2f9e3f" stroke-width="0.6"/>
<line x1="204.47" y1="186.08" x2="204.47" y2="189.51" stroke="#2f9e3f" stroke-width="0.6"/>
<line x1="203.17" y1="186.08" x2="205.77" y2="186.08" stroke="#2f9e3f" stroke-width="0.6"/>
<line x1="203.17" y1="189.51" x2="205.77" y2="189.51" stroke="#2f9e3f" stroke-width="0.6"/>
<line x1="206.08" y1="190.23" x2="206.08" y2="193.79" stroke="#2f9e3f" stroke-width="0.6"/>
<line x1="204.78" y1="190.23" x2="207.38" y2="190.23" stroke="#2f9e3f" stroke-width="0.6"/>
<line x1="204.78" y1="193.79" x2="207.38" y2="193.79" stroke="#2f9e3f" stroke-width="0.6"/>
<line x1="207.69" y1="195.82" x2="207.69" y2="199.52" stroke="#2f9e3f" stroke-width="0.6"/>
<line x1="206.39" y1="195.82" x2="208.99" y2="195.82" stroke="#2f9e3f" stroke-width="0.6"/>
<line x1="206.39" y1="199.52" x2="208.99" y2="199.52" stroke="#2f9e3f" stroke-width="0.6"/>
<line x1="209.29" y1="187.68" x2="209.29" y2="191.51" stroke="#2f9e3f" stroke-width="0.6"/>
<line x1="207.99" y1="187.68" x2="210.59" y2="187.68" stroke="#2f9e3f" stroke-width="0.6"/>
<line x1="207.99" y1="191.51" x2="210.59" y2="191.51" stroke="#2f9e3f" stroke-width="0.6"/>
<line x1="210.90" y1="176.12" x2="210.90" y2="180.09" stroke="#2f9e3f" stroke-width="0.6"/>
<line x1="209.60" y1="176.12" x2="212.20" y2="176.12" stroke="#2f9e3f" stroke-width="0.6"/>
<line x1="209.60" y1="180.09" x2="212.20" y2="180.09" stroke="#2f9e3f" stroke-width="0.6"/>
<line x1="213.31" y1="172.85" x2="213.31" y2="177.02" stroke="#2f9e3f" stroke-width="0.6"/>
<line x1="212.01" y1="172.85" x2="214.61" y2="172.85" stroke="#2f9e3f" stroke-width="0.6"/>
<line x1="212.01" y1="177.02" x2="214.61" y2="177.02" stroke="#2f9e3f" stroke-width="0.6"/>
<line x1="215.72" y1="172.53" x2="215.72" y2="176.91" stroke="#2f9e3f" stroke-width="0.6"/>
<line x1="214.42" y1="172.53" x2="217.02" y2="172.53" stroke="#2f9e3f" stroke-width="0.6"/>
<line x1="214.42" y1="176.91" x2="217.02" y2="176.91" stroke="#2f9e3f" stroke-width="0.6"/>
<line x1="218.13" y1="170.91" x2="218.13" y2="175.49" stroke="#2f9e3f" stroke-width="0.6"/>
<line x1="216.83" y1="170.91" x2="219.43" y2="170.91" stroke="#2f9e3f" stroke-width="0.6"/>
<line x1="216.83" y1="175.49" x2="219.43" y2="175.49" stroke="#2f9e3f" stroke-width="0.6"/>
<line x1="220.54" y1="169.46" x2="220.54" y2="174.24" stroke="#2f9e3f" stroke-width="0.6"/>
<line x1="219.24" y1="169.46" x2="221.84" y2="169.46" stroke="#2f9e3f" stroke-width="0.6"/>
<line x1="219.24" y1="174.24" x2="221.84" y2="174.24" stroke="#2f9e3f" stroke-width="0.6"/>
<line x1="222.95" y1="167.54" x2="222.95" y2="172.52" stroke="#2f9e3f" stroke-width="0.6"/>
<line x1="221.65" y1="167.54" x2="224.25" y2="167.54" stroke="#2f9e3f" stroke-width="0.6"/>
<line x1="221.65" y1="172.52" x2="224.25" y2="172.52" stroke="#2f9e3f" stroke-width="0.6"/>
<line x1="225.36" y1="167.81" x2="225.36" y2="173.00" stroke="#2f9e3f" stroke-width="0.6"/>
<line x1="224.06" y1="167.81" x2="226.66" y2="167.81" stroke="#2f9e3f" stroke-width="0.6"/>
<line x1="224.06" y1="173.00" x2="226.66" y2="173.00" stroke="#2f9e3f" stroke-width="0.6"/>
<line x1="227.77" y1="166.08" x2="227.77" y2="171.47" stroke="#2f9e3f" stroke-width="0.6"/>
<line x1="226.47" y1="166.08" x2="229.07" y2="166.08" stroke="#2f9e3f" stroke-width="0.6"/>
<line x1="226.47" y1="171.47" x2="229.07" y2="171.47" stroke="#2f9e3f" stroke-width="0.6"/>
<line x1="230.18" y1="164.82" x2="230.18" y2="170.40" stroke="#2f9e3f" stroke-width="0.6"/>
<line x1="228.88" y1="164.82" x2="231.48" y2="164.82" stroke="#2f9e3f" stroke-width="0.6"/>
<line x1="228.88" y1="170.40" x2="231.48" y2="170.40" stroke="#2f9e3f" stroke-width="0.6"/>
<line x1="232.59" y1="163.15" x2="232.59" y2="168.94" stroke="#2f9e3f" stroke-width="0.6"/>
<line x1="231.29" y1="163.15" x2="233.89" y2="163.15" stroke="#2f9e3f" stroke-width="0.6"/>
<line x1="231.29" y1="168.94" x2="233.89" y2="168.94" stroke="#2f9e3f" stroke-width="0.6"/>
<line x1="235.00" y1="162.16" x2="235.00" y2="168.16" stroke="#2f9e3f" stroke-width="0.6"/>
<line x1="233.70" y1="162.16" x2="236.30" y2="162.16" stroke="#2f9e3f" stroke-width="0.6"/>
<line x1="233.70" y1="168.16" x2="236.30" y2="168.16" stroke="#2f9e3f" stroke-width="0.6"/>
<line x1="237.41" y1="161.22" x2="237.41" y2="167.42" stroke="#2f9e3f" stroke-width="0.6"/>
<line x1="236.11" y1="161.22" x2="238.71" y2="161.22" stroke="#2f9e3f" stroke-width="0.6"/>
<line x1="236.11" y1="167.42" x2="238.71" y2="167.42" stroke="#2f9e3f" stroke-width="0.6"/>
<line x1="239.82" y1="161.37" x2="239.82" y2="167.77" stroke="#2f9e3f" stroke-width="0.6"/>
<line x1="238.52" y1="161.37" x2="241.12" y2="161.37" stroke="#2f9e3f" stroke-width="0.6"/>
<line x1="238.52" y1="167.77" x2="241.12" y2="167.77" stroke="#2f9e3f" stroke-width="0.6"/>
<line x1="242.23" y1="160.28" x2="242.23" y2="166.88" stroke="#2f9e3f" stroke-width="0.6"/>
<line x1="240.93" y1="160.28" x2="243.53" y2="160.28" stroke="#2f9e3f" stroke-width="0.6"/>
<line x1="240.93" y1="166.88" x2="243.53" y2="166.88" stroke="#2f9e3f" stroke-width="0.6"/>
<line x1="244.64" y1="159.51" x2="244.64" y2="166.32" stroke="#2f9e3f" stroke-width="0.6"/>
<line x1="243.34" y1="159.51" x2="245.94" y2="159.51" stroke="#2f9e3f" stroke-width="0.6"/>
<line x1="243.34" y1="166.32" x2="245.94" y2="166.32" stroke="#2f9e3f" stroke-width="0.6"/>
<line x1="247.05" y1="157.74" x2="247.05" y2="164.75" stroke="#2f9e3f" stroke-width="0.6"/>
<line x1="245.75" y1="157.74" x2="248.35" y2="157.74" stroke="#2f9e3f" stroke-width="0.6"/>
<line x1="245.75" y1="164.75" x2="248.35" y2="164.75" stroke="#2f9e3f" stroke-width="0.6"/>
<line x1="249.46" y1="156.76" x2="249.46" y2="163.96" stroke="#2f9e3f" stroke-width="0.6"/>
<line x1="248.16" y1="156.76" x2="250.76" y2="156.76" stroke="#2f9e3f" stroke-width="0.6"/>
<line x1="248.16" y1="163.96" x2="250.76" y2="163.96" stroke="#2f9e3f" stroke-width="0.6"/>
<line x1="251.87" y1="157.29" x2="251.87" y2="164.70" stroke="#2f9e3f" stroke-width="0.6"/>
<line x1="250.57" y1="157.29" x2="253.17" y2="157.29" stroke="#2f9e3f" stroke-width="0.6"/>
<line x1="250.57" y1="164.70" x2="253.17" y2="164.70" stroke="#2f9e3f" stroke-width="0.6"/>
<line x1="254.28" y1="156.38" x2="254.28" y2="164.00" stroke="#2f9e3f" stroke-width="0.6"/>
<line x1="252.98" y1="156.38" x2="255.58" y2="156.38" stroke="#2f9e3f" stroke-width="0.6"/>
<line x1="252.98" y1="164.00" x2="255.58" y2="164.00" stroke="#2f9e3f" stroke-width="0.6"/>
<line x1="256.69" y1="155.43" x2="256.69" y2="163.24" stroke="#2f9e3f" stroke-width="0.6"/>
<line x1="255.39" y1="155.43" x2="257.99" y2="155.43" stroke="#2f9e3f" stroke-width="0.6"/>
<line x1="255.39" y1="163.24" x2="257.99" y2="163.24" stroke="#2f9e3f" stroke-width="0.6"/>
<line x1="259.10" y1="154.56" x2="259.10" y2="162.58" stroke="#2f9e3f" stroke-width="0.6"/>
<line x1="257.80" y1="154.56" x2="260.40" y2="154.56" stroke="#2f9e3f" stroke-width="0.6"/>
<line x1="257.80" y1="162.58" x2="260.40" y2="162.58" stroke="#2f9e3f" stroke-width="0.6"/>
<line x1="261.51" y1="153.09" x2="261.51" y2="161.31" stroke="#2f9e3f" stroke-width="0.6"/>
<line x1="260.21" y1="153.09" x2="262.81" y2="153.09" stroke="#2f9e3f" stroke-width="0.6"/>
<line x1="260.21" y1="161.31" x2="262.81" y2="161.31" stroke="#2f9e3f" stroke-width="0.6"/>
<line x1="263.92" y1="151.88" x2="263.92" y2="160.30" stroke="#2f9e3f" stroke-width="0.6"/>
<line x1="262.62" y1="151.88" x2="265.22" y2="151.88" stroke="#2f9e3f" stroke-width="0.6"/>
<line x1="262.62" y1="160.30" x2="265.22" y2="160.30" stroke="#2f9e3f" stroke-width="0.6"/>
<line x1="266.33" y1="151.40" x2="266.33" y2="160.03" stroke="#2f9e3f" stroke-width="0.6"/>
<line x1="265.03" y1="151.40" x2="267.63" y2="151.40" stroke="#2f9e3f" stroke-width="0.6"/>
<line x1="265.03" y1="160.03" x2="267.63" y2="160.03" stroke="#2f9e3f" stroke-width="0.6"/>
<line x1="268.74" y1="150.82" x2="268.74" y2="159.64" stroke="#2f9e3f" stroke-width="0.6"/>
<line x1="267.44" y1="150.82" x2="270.04" y2="150.82" stroke="#2f9e3f" stroke-width="0.6"/>
<line x1="267.44" y1="159.64" x2="270.04" y2="159.64" stroke="#2f9e3f" stroke-width="0.6"/>
<line x1="271.15" y1="149.06" x2="271.15" y2="158.09" stroke="#2f9e3f" stroke-width="0.6"/>
<line x1="269.85" y1="149.06" x2="272.45" y2="149.06" stroke="#2f9e3f" stroke-width="0.6"/>
<line x1="269.85" y1="158.09" x2="272.45" y2="158.09" stroke="#2f9e3f" stroke-width="0.6"/>
<line x1="273.56" y1="148.11" x2="273.56" y2="157.35" stroke="#2f9e3f" stroke-width="0.6"/>
<line x1="272.26" y1="148.11" x2="274.86" y2="148.11" stroke="#2f9e3f" stroke-width="0.6"/>
<line x1="272.26" y1="157.35" x2="274.86" y2="157.35" stroke="#2f9e3f" stroke-width="0.6"/>
<line x1="275.97" y1="146.74" x2="275.97" y2="156.17" stroke="#2f9e3f" stroke-width="0.6"/>
<line x1="274.67" y1="146.74" x2="277.27" y2="146.74" stroke="#2f9e3f" stroke-width="0.6"/>
<line x1="274.67" y1="156.17" x2="277.27" y2="156.17" stroke="#2f9e3f" stroke-width="0.6"/>
<line x1="278.38" y1="145.87" x2="278.38" y2="155.51" stroke="#2f9e3f" stroke-width="0.6"/>
<line x1="277.08" y1="145.87" x2="279.68" y2="145.87" stroke="#2f9e3f" stroke-width="0.6"/>
<line x1="277.08" y1="155.51" x2="279.68" y2="155.51" stroke="#2f9e3f" stroke-width="0.6"/>
<line x1="280.79" y1="146.12" x2="280.79" y2="155.96" stroke="#2f9e3f" stroke-width="0.6"/>
<line x1="279.49" y1="146.12" x2="282.09" y2="146.12" stroke="#2f9e3f" stroke-width="0.6"/>
<line x1="279.49" y1="155.96" x2="282.09" y2="155.96" stroke="#2f9e3f" stroke-width="0.6"/>
<line x1="283.20" y1="146.22" x2="283.20" y2="156.26" stroke="#2f9e3f" stroke-width="0.6"/>
<line x1="281.90" y1="146.22" x2="284.50" y2="146.22" stroke="#2f9e3f" stroke-width="0.6"/>
<line x1="281.90" y1="156.26" x2="284.50" y2="156.26" stroke="#2f9e3f" stroke-width="0.6"/>
<path d="M186.80,178.63 L188.41,184.84 L190.01,186.68 L191.62,184.84 L193.23,181.21 L194.83,179.15 L196.44,179.27 L198.05,180.64 L199.65,183.01 L201.26,184.28 L202.87,185.59 L204.47,188.87 L206.08,193.15 L207.69,198.87 L209.29,190.86 L210.90,179.44 L213.31,176.37 L215.72,176.26 L218.13,174.84 L220.54,173.59 L222.95,171.87 L225.36,172.35 L227.77,170.82 L230.18,169.76 L232.59,168.29 L235.00,167.51 L237.41,166.77 L239.82,167.13 L242.23,166.23 L244.64,165.67 L247.05,164.10 L249.46,163.32 L251.87,164.05 L254.28,163.35 L256.69,162.59 L259.10,161.93 L261.51,160.66 L263.92,159.65 L266.33,159.38 L268.74,159.00 L271.15,157.45 L273.56,156.70 L275.97,155.53 L278.38,154.86 L280.79,155.31 L283.20,155.61" stroke="#2f9e3f" stroke-width="0.9" fill="none" stroke-linejoin="round"/>
<path d="M185.59,177.75 L188.01,177.75 L186.80,179.84 Z" fill="#2f9e3f"/>
<path d="M187.20,183.96 L189.62,183.96 L188.41,186.05 Z" fill="#2f9e3f"/>
<path d="M188.80,185.80 L191.22,185.80 L190.01,187.89 Z" fill="#2f9e3f"/>
<path d="M190.41,183.96 L192.83,183.96 L191.62,186.05 Z" fill="#2f9e3f"/>
<path d="M192.02,180.33 L194.44,180.33 L193.23,182.42 Z" fill="#2f9e3f"/>
<path d="M193.62,178.27 L196.04,178.27 L194.83,180.36 Z" fill="#2f9e3f"/>
<path d="M195.23,178.39 L197.65,178.39 L196.44,180.48 Z" fill="#2f9e3f"/>
<path d="M196.84,179.76 L199.26,179.76 L198.05,181.85 Z" fill="#2f9e3f"/>
<path d="M198.44,182.13 L200.86,182.13 L199.65,184.22 Z" fill="#2f9e3f"/>
<path d="M200.05,183.40 L202.47,183.40 L201.26,185.49 Z" fill="#2f9e3f"/>
<path d="M201.66,184.71 L204.08,184.71 L202.87,186.80 Z" fill="#2f9e3f"/>
<path d="M203.26,187.99 L205.68,187.99 L204.47,190.08 Z" fill="#2f9e3f"/>
<path d="M204.87,192.27 L207.29,192.27 L206.08,194.36 Z" fill="#2f9e3f"/>
<path d="M206.48,197.99 L208.90,197.99 L207.69,200.08 Z" fill="#2f9e3f"/>
<path d="M208.08,189.98 L210.50,189.98 L209.29,192.07 Z" fill="#2f9e3f"/>
<path d="M209.69,178.56 L212.11,178.56 L210.90,180.65 Z" fill="#2f9e3f"/>
<path d="M212.10,175.49 L214.52,175.49 L213.31,177.58 Z" fill="#2f9e3f"/>
<path d="M214.51,175.38 L216.93,175.38 L215.72,177.47 Z" fill="#2f9e3f"/>
<path d="M216.92,173.96 L219.34,173.96 L218.13,176.05 Z" fill="#2f9e3f"/>
<path d="M219.33,172.71 L221.75,172.71 L220.54,174.80 Z" fill="#2f9e3f"/>
<path d="M221.74,170.99 L224.16,170.99 L222.95,173.08 Z" fill="#2f9e3f"/>
<path d="M224.15,171.47 L226.57,171.47 L225.36,173.56 Z" fill="#2f9e3f"/>
<path d="M226.56,169.94 L228.98,169.94 L227.77,172.03 Z" fill="#2f9e3f"/>
<path d="M228.97,168.88 L231.39,168.88 L230.18,170.97 Z" fill="#2f9e3f"/>
<path d="M231.38,167.41 L233.80,167.41 L232.59,169.50 Z" fill="#2f9e3f"/>
<path d="M233.79,166.63 L236.21,166.63 L235.00,168.72 Z" fill="#2f9e3f"/>
<path d="M236.20,165.89 L238.62,165.89 L237.41,167.98 Z" fill="#2f9e3f"/>
<path d="M238.61,166.25 L241.03,166.25 L239.82,168.34 Z" fill="#2f9e3f"/>
<path d="M241.02,165.35 L243.44,165.35 L242.23,167.44 Z" fill="#2f9e3f"/>
<path d="M243.43,164.79 L245.85,164.79 L244.64,166.88 Z" fill="#2f9e3f"/>
<path d="M245.84,163.22 L248.26,163.22 L247.05,165.31 Z" fill="#2f9e3f"/>
<path d="M248.25,162.44 L250.67,162.44 L249.46,164.53 Z" fill="#2f9e3f"/>
<path d="M250.66,163.17 L253.08,163.17 L251.87,165.26 Z" fill="#2f9e3f"/>
<path d="M253.07,162.47 L255.49,162.47 L254.28,164.56 Z" fill="#2f9e3f"/>
<path d="M255.48,161.71 L257.90,161.71 L256.69,163.80 Z" fill="#2f9e3f"/>
<path d="M257.89,161.05 L260.31,161.05 L259.10,163.14 Z" fill="#2f9e3f"/>
<path d="M260.30,159.78 L262.72,159.78 L261.51,161.87 Z" fill="#2f9e3f"/>
<path d="M262.71,158.77 L265.13,158.77 L263.92,160.86 Z" fill="#2f9e3f"/>
<path d="M265.12,158.50 L267.54,158.50 L266.33,160.59 Z" fill="#2f9e3f"/>
<path d="M267.53,158.12 L269.95,158.12 L268.74,160.21 Z" fill="#2f9e3f"/>
<path d="M269.94,156.57 L272.36,156.57 L271.15,158.66 Z" fill="#2f9e3f"/>
<path d="M272.35,155.82 L274.77,155.82 L273.56,157.91 Z" fill="#2f9e3f"/>
<path d="M274.76,154.65 L277.18,154.65 L275.97,156.74 Z" fill="#2f9e3f"/>
<path d="M277.17,153.98 L279.59,153.98 L278.38,156.07 Z" fill="#2f9e3f"/>
<path d="M279.58,154.43 L282.00,154.43 L280.79,156.52 Z" fill="#2f9e3f"/>
<path d="M281.99,154.73 L284.41,154.73 L283.20,156.82 Z" fill="#2f9e3f"/>
<line x1="186.80" y1="134.50" x2="186.80" y2="201.45" stroke="#222" stroke-width="0.95"/>
<line x1="183.80" y1="201.00" x2="186.80" y2="201.00" stroke="#222" stroke-width="0.8"/>
<text x="182.20" y="203.25" font-size="6.3" text-anchor="end" fill="#3a3a3a" textLength="6.3" lengthAdjust="spacingAndGlyphs" stroke="#3a3a3a" stroke-width="0.08">80</text>
<line x1="183.80" y1="190.20" x2="186.80" y2="190.20" stroke="#222" stroke-width="0.8"/>
<text x="182.20" y="192.45" font-size="6.3" text-anchor="end" fill="#3a3a3a" textLength="6.3" lengthAdjust="spacingAndGlyphs" stroke="#3a3a3a" stroke-width="0.08">90</text>
<line x1="183.80" y1="179.40" x2="186.80" y2="179.40" stroke="#222" stroke-width="0.8"/>
<text x="182.20" y="181.65" font-size="6.3" text-anchor="end" fill="#3a3a3a" textLength="9.45" lengthAdjust="spacingAndGlyphs" stroke="#3a3a3a" stroke-width="0.08">100</text>
<line x1="183.80" y1="168.60" x2="186.80" y2="168.60" stroke="#222" stroke-width="0.8"/>
<text x="182.20" y="170.85" font-size="6.3" text-anchor="end" fill="#3a3a3a" textLength="9.45" lengthAdjust="spacingAndGlyphs" stroke="#3a3a3a" stroke-width="0.08">110</text>
<line x1="183.80" y1="157.80" x2="186.80" y2="157.80" stroke="#222" stroke-width="0.8"/>
<text x="182.20" y="160.05" font-size="6.3" text-anchor="end" fill="#3a3a3a" textLength="9.45" lengthAdjust="spacingAndGlyphs" stroke="#3a3a3a" stroke-width="0.08">120</text>
<line x1="183.80" y1="147.00" x2="186.80" y2="147.00" stroke="#222" stroke-width="0.8"/>
<text x="182.20" y="149.25" font-size="6.3" text-anchor="end" fill="#3a3a3a" textLength="9.45" lengthAdjust="spacingAndGlyphs" stroke="#3a3a3a" stroke-width="0.08">130</text>
<line x1="183.80" y1="136.20" x2="186.80" y2="136.20" stroke="#222" stroke-width="0.8"/>
<text x="182.20" y="138.45" font-size="6.3" text-anchor="end" fill="#3a3a3a" textLength="9.45" lengthAdjust="spacingAndGlyphs" stroke="#3a3a3a" stroke-width="0.08">140</text>
<line x1="186.35" y1="201.00" x2="284.80" y2="201.00" stroke="#222" stroke-width="0.95"/>
<line x1="186.80" y1="201.00" x2="186.80" y2="204.00" stroke="#222" stroke-width="0.8"/>
<text x="186.80" y="212.80" font-size="6.3" text-anchor="middle" fill="#3a3a3a" textLength="3.15" lengthAdjust="spacingAndGlyphs" stroke="#3a3a3a" stroke-width="0.08">0</text>
<line x1="210.90" y1="201.00" x2="210.90" y2="204.00" stroke="#222" stroke-width="0.8"/>
<text x="210.90" y="212.80" font-size="6.3" text-anchor="middle" fill="#3a3a3a" textLength="6.3" lengthAdjust="spacingAndGlyphs" stroke="#3a3a3a" stroke-width="0.08">30</text>
<line x1="235.00" y1="201.00" x2="235.00" y2="204.00" stroke="#222" stroke-width="0.8"/>
<text x="235.00" y="212.80" font-size="6.3" text-anchor="middle" fill="#3a3a3a" textLength="6.3" lengthAdjust="spacingAndGlyphs" stroke="#3a3a3a" stroke-width="0.08">60</text>
<line x1="259.10" y1="201.00" x2="259.10" y2="204.00" stroke="#222" stroke-width="0.8"/>
<text x="259.10" y="212.80" font-size="6.3" text-anchor="middle" fill="#3a3a3a" textLength="6.3" lengthAdjust="spacingAndGlyphs" stroke="#3a3a3a" stroke-width="0.08">90</text>
<line x1="283.20" y1="201.00" x2="283.20" y2="204.00" stroke="#222" stroke-width="0.8"/>
<text x="283.20" y="212.80" font-size="6.3" text-anchor="middle" fill="#3a3a3a" textLength="9.45" lengthAdjust="spacingAndGlyphs" stroke="#3a3a3a" stroke-width="0.08">120</text>
<text x="163.00" y="168.60" font-size="7.6" text-anchor="middle" fill="#3a3a3a" textLength="56.2" lengthAdjust="spacingAndGlyphs" transform="rotate(-90 163.00 168.60)" stroke="#3a3a3a" stroke-width="0.18">% Baseline weight</text>
<text x="236.00" y="223.80" font-size="8.0" text-anchor="middle" fill="#3a3a3a" textLength="62.4" lengthAdjust="spacingAndGlyphs" stroke="#3a3a3a" stroke-width="0.18">Days post-transplant</text>
<text x="376.20" y="131.00" font-size="8.8" text-anchor="middle" fill="#3a3a3a" textLength="52" lengthAdjust="spacingAndGlyphs" stroke="#3a3a3a" stroke-width="0.18">Clinical score</text>
<line x1="329.20" y1="190.10" x2="329.20" y2="202.46" stroke="#35a644" stroke-width="0.6"/>
<line x1="327.90" y1="190.10" x2="330.50" y2="190.10" stroke="#35a644" stroke-width="0.6"/>
<line x1="327.90" y1="202.46" x2="330.50" y2="202.46" stroke="#35a644" stroke-width="0.6"/>
<line x1="330.73" y1="155.08" x2="330.73" y2="167.44" stroke="#35a644" stroke-width="0.6"/>
<line x1="329.43" y1="155.08" x2="332.03" y2="155.08" stroke="#35a644" stroke-width="0.6"/>
<line x1="329.43" y1="167.44" x2="332.03" y2="167.44" stroke="#35a644" stroke-width="0.6"/>
<line x1="332.27" y1="157.14" x2="332.27" y2="169.50" stroke="#35a644" stroke-width="0.6"/>
<line x1="330.97" y1="157.14" x2="333.57" y2="157.14" stroke="#35a644" stroke-width="0.6"/>
<line x1="330.97" y1="169.50" x2="333.57" y2="169.50" stroke="#35a644" stroke-width="0.6"/>
<line x1="334.57" y1="161.26" x2="334.57" y2="173.62" stroke="#35a644" stroke-width="0.6"/>
<line x1="333.27" y1="161.26" x2="335.87" y2="161.26" stroke="#35a644" stroke-width="0.6"/>
<line x1="333.27" y1="173.62" x2="335.87" y2="173.62" stroke="#35a644" stroke-width="0.6"/>
<line x1="336.87" y1="167.44" x2="336.87" y2="179.80" stroke="#35a644" stroke-width="0.6"/>
<line x1="335.57" y1="167.44" x2="338.17" y2="167.44" stroke="#35a644" stroke-width="0.6"/>
<line x1="335.57" y1="179.80" x2="338.17" y2="179.80" stroke="#35a644" stroke-width="0.6"/>
<line x1="339.17" y1="169.50" x2="339.17" y2="181.86" stroke="#35a644" stroke-width="0.6"/>
<line x1="337.87" y1="169.50" x2="340.47" y2="169.50" stroke="#35a644" stroke-width="0.6"/>
<line x1="337.87" y1="181.86" x2="340.47" y2="181.86" stroke="#35a644" stroke-width="0.6"/>
<line x1="341.47" y1="161.26" x2="341.47" y2="173.62" stroke="#35a644" stroke-width="0.6"/>
<line x1="340.17" y1="161.26" x2="342.77" y2="161.26" stroke="#35a644" stroke-width="0.6"/>
<line x1="340.17" y1="173.62" x2="342.77" y2="173.62" stroke="#35a644" stroke-width="0.6"/>
<line x1="343.77" y1="153.02" x2="343.77" y2="165.38" stroke="#35a644" stroke-width="0.6"/>
<line x1="342.47" y1="153.02" x2="345.07" y2="153.02" stroke="#35a644" stroke-width="0.6"/>
<line x1="342.47" y1="165.38" x2="345.07" y2="165.38" stroke="#35a644" stroke-width="0.6"/>
<line x1="346.07" y1="148.90" x2="346.07" y2="161.26" stroke="#35a644" stroke-width="0.6"/>
<line x1="344.77" y1="148.90" x2="347.37" y2="148.90" stroke="#35a644" stroke-width="0.6"/>
<line x1="344.77" y1="161.26" x2="347.37" y2="161.26" stroke="#35a644" stroke-width="0.6"/>
<line x1="348.37" y1="153.02" x2="348.37" y2="165.38" stroke="#35a644" stroke-width="0.6"/>
<line x1="347.07" y1="153.02" x2="349.67" y2="153.02" stroke="#35a644" stroke-width="0.6"/>
<line x1="347.07" y1="165.38" x2="349.67" y2="165.38" stroke="#35a644" stroke-width="0.6"/>
<line x1="350.67" y1="159.20" x2="350.67" y2="171.56" stroke="#35a644" stroke-width="0.6"/>
<line x1="349.37" y1="159.20" x2="351.97" y2="159.20" stroke="#35a644" stroke-width="0.6"/>
<line x1="349.37" y1="171.56" x2="351.97" y2="171.56" stroke="#35a644" stroke-width="0.6"/>
<line x1="352.97" y1="167.44" x2="352.97" y2="179.80" stroke="#35a644" stroke-width="0.6"/>
<line x1="351.67" y1="167.44" x2="354.27" y2="167.44" stroke="#35a644" stroke-width="0.6"/>
<line x1="351.67" y1="179.80" x2="354.27" y2="179.80" stroke="#35a644" stroke-width="0.6"/>
<line x1="355.27" y1="159.20" x2="355.27" y2="171.56" stroke="#35a644" stroke-width="0.6"/>
<line x1="353.97" y1="159.20" x2="356.57" y2="159.20" stroke="#35a644" stroke-width="0.6"/>
<line x1="353.97" y1="171.56" x2="356.57" y2="171.56" stroke="#35a644" stroke-width="0.6"/>
<line x1="357.57" y1="159.20" x2="357.57" y2="171.56" stroke="#35a644" stroke-width="0.6"/>
<line x1="356.27" y1="171.56" x2="358.87" y2="171.56" stroke="#35a644" stroke-width="0.6"/>
<line x1="359.87" y1="159.20" x2="359.87" y2="171.56" stroke="#35a644" stroke-width="0.6"/>
<line x1="358.57" y1="171.56" x2="361.17" y2="171.56" stroke="#35a644" stroke-width="0.6"/>
<line x1="362.17" y1="159.20" x2="362.17" y2="171.56" stroke="#35a644" stroke-width="0.6"/>
<line x1="360.87" y1="171.56" x2="363.47" y2="171.56" stroke="#35a644" stroke-width="0.6"/>
<line x1="364.47" y1="159.20" x2="364.47" y2="171.56" stroke="#35a644" stroke-width="0.6"/>
<line x1="363.17" y1="171.56" x2="365.77" y2="171.56" stroke="#35a644" stroke-width="0.6"/>
<line x1="366.77" y1="159.20" x2="366.77" y2="171.56" stroke="#35a644" stroke-width="0.6"/>
<line x1="365.47" y1="171.56" x2="368.07" y2="171.56" stroke="#35a644" stroke-width="0.6"/>
<line x1="369.07" y1="159.20" x2="369.07" y2="171.56" stroke="#35a644" stroke-width="0.6"/>
<line x1="367.77" y1="159.20" x2="370.37" y2="159.20" stroke="#35a644" stroke-width="0.6"/>
<line x1="367.77" y1="171.56" x2="370.37" y2="171.56" stroke="#35a644" stroke-width="0.6"/>
<line x1="371.37" y1="159.20" x2="371.37" y2="171.56" stroke="#35a644" stroke-width="0.6"/>
<line x1="370.07" y1="171.56" x2="372.67" y2="171.56" stroke="#35a644" stroke-width="0.6"/>
<line x1="373.67" y1="159.20" x2="373.67" y2="171.56" stroke="#35a644" stroke-width="0.6"/>
<line x1="372.37" y1="159.20" x2="374.97" y2="159.20" stroke="#35a644" stroke-width="0.6"/>
<line x1="372.37" y1="171.56" x2="374.97" y2="171.56" stroke="#35a644" stroke-width="0.6"/>
<line x1="375.97" y1="159.20" x2="375.97" y2="171.56" stroke="#35a644" stroke-width="0.6"/>
<line x1="374.67" y1="171.56" x2="377.27" y2="171.56" stroke="#35a644" stroke-width="0.6"/>
<line x1="378.27" y1="159.20" x2="378.27" y2="171.56" stroke="#35a644" stroke-width="0.6"/>
<line x1="376.97" y1="171.56" x2="379.57" y2="171.56" stroke="#35a644" stroke-width="0.6"/>
<line x1="380.57" y1="159.20" x2="380.57" y2="171.56" stroke="#35a644" stroke-width="0.6"/>
<line x1="379.27" y1="171.56" x2="381.87" y2="171.56" stroke="#35a644" stroke-width="0.6"/>
<line x1="382.87" y1="159.20" x2="382.87" y2="171.56" stroke="#35a644" stroke-width="0.6"/>
<line x1="381.57" y1="171.56" x2="384.17" y2="171.56" stroke="#35a644" stroke-width="0.6"/>
<line x1="385.17" y1="159.20" x2="385.17" y2="171.56" stroke="#35a644" stroke-width="0.6"/>
<line x1="383.87" y1="159.20" x2="386.47" y2="159.20" stroke="#35a644" stroke-width="0.6"/>
<line x1="383.87" y1="171.56" x2="386.47" y2="171.56" stroke="#35a644" stroke-width="0.6"/>
<line x1="387.47" y1="159.20" x2="387.47" y2="171.56" stroke="#35a644" stroke-width="0.6"/>
<line x1="386.17" y1="171.56" x2="388.77" y2="171.56" stroke="#35a644" stroke-width="0.6"/>
<line x1="389.77" y1="159.20" x2="389.77" y2="171.56" stroke="#35a644" stroke-width="0.6"/>
<line x1="388.47" y1="171.56" x2="391.07" y2="171.56" stroke="#35a644" stroke-width="0.6"/>
<line x1="392.07" y1="159.20" x2="392.07" y2="171.56" stroke="#35a644" stroke-width="0.6"/>
<line x1="390.77" y1="171.56" x2="393.37" y2="171.56" stroke="#35a644" stroke-width="0.6"/>
<line x1="394.37" y1="159.20" x2="394.37" y2="171.56" stroke="#35a644" stroke-width="0.6"/>
<line x1="393.07" y1="171.56" x2="395.67" y2="171.56" stroke="#35a644" stroke-width="0.6"/>
<line x1="396.67" y1="159.20" x2="396.67" y2="171.56" stroke="#35a644" stroke-width="0.6"/>
<line x1="395.37" y1="171.56" x2="397.97" y2="171.56" stroke="#35a644" stroke-width="0.6"/>
<line x1="398.97" y1="159.20" x2="398.97" y2="171.56" stroke="#35a644" stroke-width="0.6"/>
<line x1="397.67" y1="171.56" x2="400.27" y2="171.56" stroke="#35a644" stroke-width="0.6"/>
<line x1="401.27" y1="159.20" x2="401.27" y2="171.56" stroke="#35a644" stroke-width="0.6"/>
<line x1="399.97" y1="159.20" x2="402.57" y2="159.20" stroke="#35a644" stroke-width="0.6"/>
<line x1="399.97" y1="171.56" x2="402.57" y2="171.56" stroke="#35a644" stroke-width="0.6"/>
<line x1="403.57" y1="159.20" x2="403.57" y2="171.56" stroke="#35a644" stroke-width="0.6"/>
<line x1="402.27" y1="171.56" x2="404.87" y2="171.56" stroke="#35a644" stroke-width="0.6"/>
<line x1="405.87" y1="159.20" x2="405.87" y2="171.56" stroke="#35a644" stroke-width="0.6"/>
<line x1="404.57" y1="159.20" x2="407.17" y2="159.20" stroke="#35a644" stroke-width="0.6"/>
<line x1="404.57" y1="171.56" x2="407.17" y2="171.56" stroke="#35a644" stroke-width="0.6"/>
<line x1="408.17" y1="159.20" x2="408.17" y2="171.56" stroke="#35a644" stroke-width="0.6"/>
<line x1="406.87" y1="171.56" x2="409.47" y2="171.56" stroke="#35a644" stroke-width="0.6"/>
<line x1="410.47" y1="159.20" x2="410.47" y2="171.56" stroke="#35a644" stroke-width="0.6"/>
<line x1="409.17" y1="159.20" x2="411.77" y2="159.20" stroke="#35a644" stroke-width="0.6"/>
<line x1="409.17" y1="171.56" x2="411.77" y2="171.56" stroke="#35a644" stroke-width="0.6"/>
<line x1="412.77" y1="159.20" x2="412.77" y2="171.56" stroke="#35a644" stroke-width="0.6"/>
<line x1="411.47" y1="171.56" x2="414.07" y2="171.56" stroke="#35a644" stroke-width="0.6"/>
<line x1="415.07" y1="159.20" x2="415.07" y2="171.56" stroke="#35a644" stroke-width="0.6"/>
<line x1="413.77" y1="159.20" x2="416.37" y2="159.20" stroke="#35a644" stroke-width="0.6"/>
<line x1="413.77" y1="171.56" x2="416.37" y2="171.56" stroke="#35a644" stroke-width="0.6"/>
<line x1="417.37" y1="159.20" x2="417.37" y2="171.56" stroke="#35a644" stroke-width="0.6"/>
<line x1="416.07" y1="171.56" x2="418.67" y2="171.56" stroke="#35a644" stroke-width="0.6"/>
<line x1="419.67" y1="159.20" x2="419.67" y2="171.56" stroke="#35a644" stroke-width="0.6"/>
<line x1="418.37" y1="159.20" x2="420.97" y2="159.20" stroke="#35a644" stroke-width="0.6"/>
<line x1="418.37" y1="171.56" x2="420.97" y2="171.56" stroke="#35a644" stroke-width="0.6"/>
<path d="M329.20,196.28 L330.73,161.26 L332.27,163.32 L334.57,167.44 L336.87,173.62 L339.17,175.68 L341.47,167.44 L343.77,159.20 L346.07,155.08 L348.37,159.20 L350.67,165.38 L352.97,173.62 L355.27,165.38 L357.57,159.20 L359.87,159.20 L362.17,159.20 L364.47,159.20 L366.77,159.20 L369.07,165.38 L371.37,159.20 L373.67,165.38 L375.97,159.20 L378.27,159.20 L380.57,159.20 L382.87,159.20 L385.17,165.38 L387.47,159.20 L389.77,159.20 L392.07,159.20 L394.37,159.20 L396.67,159.20 L398.97,159.20 L401.27,165.38 L403.57,159.20 L405.87,165.38 L408.17,159.20 L410.47,165.38 L412.77,159.20 L415.07,165.38 L417.37,159.20 L419.67,165.38" stroke="#35a644" stroke-width="0.9" fill="none" stroke-linejoin="round"/>
<path d="M328.15,195.52 L330.25,195.52 L329.20,197.32 Z" fill="#35a644"/>
<path d="M329.69,160.50 L331.78,160.50 L330.73,162.30 Z" fill="#35a644"/>
<path d="M331.22,162.56 L333.31,162.56 L332.27,164.36 Z" fill="#35a644"/>
<path d="M333.52,166.68 L335.61,166.68 L334.57,168.48 Z" fill="#35a644"/>
<path d="M335.82,172.86 L337.91,172.86 L336.87,174.66 Z" fill="#35a644"/>
<path d="M338.12,174.92 L340.21,174.92 L339.17,176.72 Z" fill="#35a644"/>
<path d="M340.42,166.68 L342.51,166.68 L341.47,168.48 Z" fill="#35a644"/>
<path d="M342.72,158.44 L344.81,158.44 L343.77,160.24 Z" fill="#35a644"/>
<path d="M345.02,154.32 L347.11,154.32 L346.07,156.12 Z" fill="#35a644"/>
<path d="M347.32,158.44 L349.41,158.44 L348.37,160.24 Z" fill="#35a644"/>
<path d="M349.62,164.62 L351.71,164.62 L350.67,166.42 Z" fill="#35a644"/>
<path d="M351.92,172.86 L354.01,172.86 L352.97,174.66 Z" fill="#35a644"/>
<path d="M354.22,164.62 L356.31,164.62 L355.27,166.42 Z" fill="#35a644"/>
<path d="M356.52,158.44 L358.61,158.44 L357.57,160.24 Z" fill="#35a644"/>
<path d="M358.82,158.44 L360.91,158.44 L359.87,160.24 Z" fill="#35a644"/>
<path d="M361.12,158.44 L363.21,158.44 L362.17,160.24 Z" fill="#35a644"/>
<path d="M363.42,158.44 L365.51,158.44 L364.47,160.24 Z" fill="#35a644"/>
<path d="M365.72,158.44 L367.81,158.44 L366.77,160.24 Z" fill="#35a644"/>
<path d="M368.02,164.62 L370.11,164.62 L369.07,166.42 Z" fill="#35a644"/>
<path d="M370.32,158.44 L372.41,158.44 L371.37,160.24 Z" fill="#35a644"/>
<path d="M372.62,164.62 L374.71,164.62 L373.67,166.42 Z" fill="#35a644"/>
<path d="M374.92,158.44 L377.01,158.44 L375.97,160.24 Z" fill="#35a644"/>
<path d="M377.22,158.44 L379.31,158.44 L378.27,160.24 Z" fill="#35a644"/>
<path d="M379.52,158.44 L381.61,158.44 L380.57,160.24 Z" fill="#35a644"/>
<path d="M381.82,158.44 L383.91,158.44 L382.87,160.24 Z" fill="#35a644"/>
<path d="M384.12,164.62 L386.21,164.62 L385.17,166.42 Z" fill="#35a644"/>
<path d="M386.42,158.44 L388.51,158.44 L387.47,160.24 Z" fill="#35a644"/>
<path d="M388.72,158.44 L390.81,158.44 L389.77,160.24 Z" fill="#35a644"/>
<path d="M391.02,158.44 L393.11,158.44 L392.07,160.24 Z" fill="#35a644"/>
<path d="M393.32,158.44 L395.41,158.44 L394.37,160.24 Z" fill="#35a644"/>
<path d="M395.62,158.44 L397.71,158.44 L396.67,160.24 Z" fill="#35a644"/>
<path d="M397.92,158.44 L400.01,158.44 L398.97,160.24 Z" fill="#35a644"/>
<path d="M400.22,164.62 L402.31,164.62 L401.27,166.42 Z" fill="#35a644"/>
<path d="M402.52,158.44 L404.61,158.44 L403.57,160.24 Z" fill="#35a644"/>
<path d="M404.82,164.62 L406.91,164.62 L405.87,166.42 Z" fill="#35a644"/>
<path d="M407.12,158.44 L409.21,158.44 L408.17,160.24 Z" fill="#35a644"/>
<path d="M409.42,164.62 L411.51,164.62 L410.47,166.42 Z" fill="#35a644"/>
<path d="M411.72,158.44 L413.81,158.44 L412.77,160.24 Z" fill="#35a644"/>
<path d="M414.02,164.62 L416.11,164.62 L415.07,166.42 Z" fill="#35a644"/>
<path d="M416.32,158.44 L418.41,158.44 L417.37,160.24 Z" fill="#35a644"/>
<path d="M418.62,164.62 L420.71,164.62 L419.67,166.42 Z" fill="#35a644"/>
<line x1="329.20" y1="187.56" x2="329.20" y2="199.92" stroke="#f0981a" stroke-width="0.6"/>
<line x1="327.90" y1="187.56" x2="330.50" y2="187.56" stroke="#f0981a" stroke-width="0.6"/>
<line x1="327.90" y1="199.92" x2="330.50" y2="199.92" stroke="#f0981a" stroke-width="0.6"/>
<line x1="330.73" y1="154.35" x2="330.73" y2="166.71" stroke="#f0981a" stroke-width="0.6"/>
<line x1="329.43" y1="154.35" x2="332.03" y2="154.35" stroke="#f0981a" stroke-width="0.6"/>
<line x1="329.43" y1="166.71" x2="332.03" y2="166.71" stroke="#f0981a" stroke-width="0.6"/>
<line x1="331.50" y1="157.60" x2="331.50" y2="169.96" stroke="#f0981a" stroke-width="0.6"/>
<line x1="330.20" y1="157.60" x2="332.80" y2="157.60" stroke="#f0981a" stroke-width="0.6"/>
<line x1="330.20" y1="169.96" x2="332.80" y2="169.96" stroke="#f0981a" stroke-width="0.6"/>
<line x1="333.80" y1="157.55" x2="333.80" y2="169.91" stroke="#f0981a" stroke-width="0.6"/>
<line x1="332.50" y1="157.55" x2="335.10" y2="157.55" stroke="#f0981a" stroke-width="0.6"/>
<line x1="332.50" y1="169.91" x2="335.10" y2="169.91" stroke="#f0981a" stroke-width="0.6"/>
<line x1="336.10" y1="164.23" x2="336.10" y2="176.59" stroke="#f0981a" stroke-width="0.6"/>
<line x1="334.80" y1="164.23" x2="337.40" y2="164.23" stroke="#f0981a" stroke-width="0.6"/>
<line x1="334.80" y1="176.59" x2="337.40" y2="176.59" stroke="#f0981a" stroke-width="0.6"/>
<line x1="338.40" y1="170.02" x2="338.40" y2="182.38" stroke="#f0981a" stroke-width="0.6"/>
<line x1="337.10" y1="170.02" x2="339.70" y2="170.02" stroke="#f0981a" stroke-width="0.6"/>
<line x1="337.10" y1="182.38" x2="339.70" y2="182.38" stroke="#f0981a" stroke-width="0.6"/>
<line x1="340.70" y1="171.71" x2="340.70" y2="184.07" stroke="#f0981a" stroke-width="0.6"/>
<line x1="339.40" y1="171.71" x2="342.00" y2="171.71" stroke="#f0981a" stroke-width="0.6"/>
<line x1="339.40" y1="184.07" x2="342.00" y2="184.07" stroke="#f0981a" stroke-width="0.6"/>
<line x1="343.00" y1="164.45" x2="343.00" y2="176.81" stroke="#f0981a" stroke-width="0.6"/>
<line x1="341.70" y1="164.45" x2="344.30" y2="164.45" stroke="#f0981a" stroke-width="0.6"/>
<line x1="341.70" y1="176.81" x2="344.30" y2="176.81" stroke="#f0981a" stroke-width="0.6"/>
<line x1="345.30" y1="158.93" x2="345.30" y2="171.29" stroke="#f0981a" stroke-width="0.6"/>
<line x1="344.00" y1="158.93" x2="346.60" y2="158.93" stroke="#f0981a" stroke-width="0.6"/>
<line x1="344.00" y1="171.29" x2="346.60" y2="171.29" stroke="#f0981a" stroke-width="0.6"/>
<line x1="347.60" y1="161.52" x2="347.60" y2="173.88" stroke="#f0981a" stroke-width="0.6"/>
<line x1="346.30" y1="161.52" x2="348.90" y2="161.52" stroke="#f0981a" stroke-width="0.6"/>
<line x1="346.30" y1="173.88" x2="348.90" y2="173.88" stroke="#f0981a" stroke-width="0.6"/>
<line x1="349.90" y1="157.62" x2="349.90" y2="169.98" stroke="#f0981a" stroke-width="0.6"/>
<line x1="348.60" y1="157.62" x2="351.20" y2="157.62" stroke="#f0981a" stroke-width="0.6"/>
<line x1="348.60" y1="169.98" x2="351.20" y2="169.98" stroke="#f0981a" stroke-width="0.6"/>
<line x1="352.20" y1="163.06" x2="352.20" y2="175.42" stroke="#f0981a" stroke-width="0.6"/>
<line x1="350.90" y1="163.06" x2="353.50" y2="163.06" stroke="#f0981a" stroke-width="0.6"/>
<line x1="350.90" y1="175.42" x2="353.50" y2="175.42" stroke="#f0981a" stroke-width="0.6"/>
<line x1="354.50" y1="165.51" x2="354.50" y2="177.87" stroke="#f0981a" stroke-width="0.6"/>
<line x1="353.20" y1="165.51" x2="355.80" y2="165.51" stroke="#f0981a" stroke-width="0.6"/>
<line x1="353.20" y1="177.87" x2="355.80" y2="177.87" stroke="#f0981a" stroke-width="0.6"/>
<line x1="356.80" y1="165.76" x2="356.80" y2="178.12" stroke="#f0981a" stroke-width="0.6"/>
<line x1="355.50" y1="165.76" x2="358.10" y2="165.76" stroke="#f0981a" stroke-width="0.6"/>
<line x1="355.50" y1="178.12" x2="358.10" y2="178.12" stroke="#f0981a" stroke-width="0.6"/>
<line x1="359.10" y1="163.48" x2="359.10" y2="175.84" stroke="#f0981a" stroke-width="0.6"/>
<line x1="357.80" y1="163.48" x2="360.40" y2="163.48" stroke="#f0981a" stroke-width="0.6"/>
<line x1="357.80" y1="175.84" x2="360.40" y2="175.84" stroke="#f0981a" stroke-width="0.6"/>
<line x1="361.40" y1="160.27" x2="361.40" y2="172.63" stroke="#f0981a" stroke-width="0.6"/>
<line x1="360.10" y1="160.27" x2="362.70" y2="160.27" stroke="#f0981a" stroke-width="0.6"/>
<line x1="360.10" y1="172.63" x2="362.70" y2="172.63" stroke="#f0981a" stroke-width="0.6"/>
<line x1="363.70" y1="158.98" x2="363.70" y2="171.34" stroke="#f0981a" stroke-width="0.6"/>
<line x1="362.40" y1="158.98" x2="365.00" y2="158.98" stroke="#f0981a" stroke-width="0.6"/>
<line x1="362.40" y1="171.34" x2="365.00" y2="171.34" stroke="#f0981a" stroke-width="0.6"/>
<line x1="366.00" y1="165.38" x2="366.00" y2="177.74" stroke="#f0981a" stroke-width="0.6"/>
<line x1="364.70" y1="165.38" x2="367.30" y2="165.38" stroke="#f0981a" stroke-width="0.6"/>
<line x1="364.70" y1="177.74" x2="367.30" y2="177.74" stroke="#f0981a" stroke-width="0.6"/>
<line x1="368.30" y1="167.64" x2="368.30" y2="180.00" stroke="#f0981a" stroke-width="0.6"/>
<line x1="367.00" y1="167.64" x2="369.60" y2="167.64" stroke="#f0981a" stroke-width="0.6"/>
<line x1="367.00" y1="180.00" x2="369.60" y2="180.00" stroke="#f0981a" stroke-width="0.6"/>
<line x1="370.60" y1="164.14" x2="370.60" y2="176.50" stroke="#f0981a" stroke-width="0.6"/>
<line x1="369.30" y1="164.14" x2="371.90" y2="164.14" stroke="#f0981a" stroke-width="0.6"/>
<line x1="369.30" y1="176.50" x2="371.90" y2="176.50" stroke="#f0981a" stroke-width="0.6"/>
<line x1="372.90" y1="162.65" x2="372.90" y2="175.01" stroke="#f0981a" stroke-width="0.6"/>
<line x1="371.60" y1="162.65" x2="374.20" y2="162.65" stroke="#f0981a" stroke-width="0.6"/>
<line x1="371.60" y1="175.01" x2="374.20" y2="175.01" stroke="#f0981a" stroke-width="0.6"/>
<line x1="375.20" y1="165.27" x2="375.20" y2="177.63" stroke="#f0981a" stroke-width="0.6"/>
<line x1="373.90" y1="165.27" x2="376.50" y2="165.27" stroke="#f0981a" stroke-width="0.6"/>
<line x1="373.90" y1="177.63" x2="376.50" y2="177.63" stroke="#f0981a" stroke-width="0.6"/>
<line x1="377.50" y1="159.31" x2="377.50" y2="171.67" stroke="#f0981a" stroke-width="0.6"/>
<line x1="376.20" y1="159.31" x2="378.80" y2="159.31" stroke="#f0981a" stroke-width="0.6"/>
<line x1="376.20" y1="171.67" x2="378.80" y2="171.67" stroke="#f0981a" stroke-width="0.6"/>
<line x1="379.80" y1="158.32" x2="379.80" y2="170.68" stroke="#f0981a" stroke-width="0.6"/>
<line x1="378.50" y1="158.32" x2="381.10" y2="158.32" stroke="#f0981a" stroke-width="0.6"/>
<line x1="378.50" y1="170.68" x2="381.10" y2="170.68" stroke="#f0981a" stroke-width="0.6"/>
<line x1="382.10" y1="159.00" x2="382.10" y2="171.36" stroke="#f0981a" stroke-width="0.6"/>
<line x1="380.80" y1="159.00" x2="383.40" y2="159.00" stroke="#f0981a" stroke-width="0.6"/>
<line x1="380.80" y1="171.36" x2="383.40" y2="171.36" stroke="#f0981a" stroke-width="0.6"/>
<line x1="384.40" y1="158.57" x2="384.40" y2="170.93" stroke="#f0981a" stroke-width="0.6"/>
<line x1="383.10" y1="158.57" x2="385.70" y2="158.57" stroke="#f0981a" stroke-width="0.6"/>
<line x1="383.10" y1="170.93" x2="385.70" y2="170.93" stroke="#f0981a" stroke-width="0.6"/>
<line x1="386.70" y1="158.80" x2="386.70" y2="171.16" stroke="#f0981a" stroke-width="0.6"/>
<line x1="385.40" y1="158.80" x2="388.00" y2="158.80" stroke="#f0981a" stroke-width="0.6"/>
<line x1="385.40" y1="171.16" x2="388.00" y2="171.16" stroke="#f0981a" stroke-width="0.6"/>
<line x1="389.00" y1="159.35" x2="389.00" y2="171.71" stroke="#f0981a" stroke-width="0.6"/>
<line x1="387.70" y1="159.35" x2="390.30" y2="159.35" stroke="#f0981a" stroke-width="0.6"/>
<line x1="387.70" y1="171.71" x2="390.30" y2="171.71" stroke="#f0981a" stroke-width="0.6"/>
<line x1="391.30" y1="160.75" x2="391.30" y2="173.11" stroke="#f0981a" stroke-width="0.6"/>
<line x1="390.00" y1="160.75" x2="392.60" y2="160.75" stroke="#f0981a" stroke-width="0.6"/>
<line x1="390.00" y1="173.11" x2="392.60" y2="173.11" stroke="#f0981a" stroke-width="0.6"/>
<line x1="393.60" y1="157.76" x2="393.60" y2="170.12" stroke="#f0981a" stroke-width="0.6"/>
<line x1="392.30" y1="157.76" x2="394.90" y2="157.76" stroke="#f0981a" stroke-width="0.6"/>
<line x1="392.30" y1="170.12" x2="394.90" y2="170.12" stroke="#f0981a" stroke-width="0.6"/>
<line x1="395.90" y1="157.17" x2="395.90" y2="169.53" stroke="#f0981a" stroke-width="0.6"/>
<line x1="394.60" y1="157.17" x2="397.20" y2="157.17" stroke="#f0981a" stroke-width="0.6"/>
<line x1="394.60" y1="169.53" x2="397.20" y2="169.53" stroke="#f0981a" stroke-width="0.6"/>
<line x1="398.20" y1="159.34" x2="398.20" y2="171.70" stroke="#f0981a" stroke-width="0.6"/>
<line x1="396.90" y1="159.34" x2="399.50" y2="159.34" stroke="#f0981a" stroke-width="0.6"/>
<line x1="396.90" y1="171.70" x2="399.50" y2="171.70" stroke="#f0981a" stroke-width="0.6"/>
<line x1="400.50" y1="158.65" x2="400.50" y2="171.01" stroke="#f0981a" stroke-width="0.6"/>
<line x1="399.20" y1="158.65" x2="401.80" y2="158.65" stroke="#f0981a" stroke-width="0.6"/>
<line x1="399.20" y1="171.01" x2="401.80" y2="171.01" stroke="#f0981a" stroke-width="0.6"/>
<line x1="402.80" y1="159.67" x2="402.80" y2="172.03" stroke="#f0981a" stroke-width="0.6"/>
<line x1="401.50" y1="159.67" x2="404.10" y2="159.67" stroke="#f0981a" stroke-width="0.6"/>
<line x1="401.50" y1="172.03" x2="404.10" y2="172.03" stroke="#f0981a" stroke-width="0.6"/>
<line x1="405.10" y1="158.98" x2="405.10" y2="171.34" stroke="#f0981a" stroke-width="0.6"/>
<line x1="403.80" y1="158.98" x2="406.40" y2="158.98" stroke="#f0981a" stroke-width="0.6"/>
<line x1="403.80" y1="171.34" x2="406.40" y2="171.34" stroke="#f0981a" stroke-width="0.6"/>
<line x1="407.40" y1="156.96" x2="407.40" y2="169.32" stroke="#f0981a" stroke-width="0.6"/>
<line x1="406.10" y1="156.96" x2="408.70" y2="156.96" stroke="#f0981a" stroke-width="0.6"/>
<line x1="406.10" y1="169.32" x2="408.70" y2="169.32" stroke="#f0981a" stroke-width="0.6"/>
<line x1="409.70" y1="156.05" x2="409.70" y2="168.41" stroke="#f0981a" stroke-width="0.6"/>
<line x1="408.40" y1="156.05" x2="411.00" y2="156.05" stroke="#f0981a" stroke-width="0.6"/>
<line x1="408.40" y1="168.41" x2="411.00" y2="168.41" stroke="#f0981a" stroke-width="0.6"/>
<line x1="412.00" y1="156.20" x2="412.00" y2="168.56" stroke="#f0981a" stroke-width="0.6"/>
<line x1="410.70" y1="156.20" x2="413.30" y2="156.20" stroke="#f0981a" stroke-width="0.6"/>
<line x1="410.70" y1="168.56" x2="413.30" y2="168.56" stroke="#f0981a" stroke-width="0.6"/>
<line x1="414.30" y1="160.59" x2="414.30" y2="172.95" stroke="#f0981a" stroke-width="0.6"/>
<line x1="413.00" y1="160.59" x2="415.60" y2="160.59" stroke="#f0981a" stroke-width="0.6"/>
<line x1="413.00" y1="172.95" x2="415.60" y2="172.95" stroke="#f0981a" stroke-width="0.6"/>
<line x1="416.60" y1="161.16" x2="416.60" y2="173.52" stroke="#f0981a" stroke-width="0.6"/>
<line x1="415.30" y1="161.16" x2="417.90" y2="161.16" stroke="#f0981a" stroke-width="0.6"/>
<line x1="415.30" y1="173.52" x2="417.90" y2="173.52" stroke="#f0981a" stroke-width="0.6"/>
<line x1="418.90" y1="157.34" x2="418.90" y2="169.70" stroke="#f0981a" stroke-width="0.6"/>
<line x1="417.60" y1="157.34" x2="420.20" y2="157.34" stroke="#f0981a" stroke-width="0.6"/>
<line x1="417.60" y1="169.70" x2="420.20" y2="169.70" stroke="#f0981a" stroke-width="0.6"/>
<line x1="421.20" y1="159.08" x2="421.20" y2="171.44" stroke="#f0981a" stroke-width="0.6"/>
<line x1="419.90" y1="159.08" x2="422.50" y2="159.08" stroke="#f0981a" stroke-width="0.6"/>
<line x1="419.90" y1="171.44" x2="422.50" y2="171.44" stroke="#f0981a" stroke-width="0.6"/>
<path d="M329.20,193.74 L330.73,160.53 L331.50,163.78 L333.80,163.73 L336.10,170.41 L338.40,176.20 L340.70,177.89 L343.00,170.63 L345.30,165.11 L347.60,167.70 L349.90,163.80 L352.20,169.24 L354.50,171.69 L356.80,171.94 L359.10,169.66 L361.40,166.45 L363.70,165.16 L366.00,171.56 L368.30,173.82 L370.60,170.32 L372.90,168.83 L375.20,171.45 L377.50,165.49 L379.80,164.50 L382.10,165.18 L384.40,164.75 L386.70,164.98 L389.00,165.53 L391.30,166.93 L393.60,163.94 L395.90,163.35 L398.20,165.52 L400.50,164.83 L402.80,165.85 L405.10,165.16 L407.40,163.14 L409.70,162.23 L412.00,162.38 L414.30,166.77 L416.60,167.34 L418.90,163.52 L421.20,165.26" stroke="#f0981a" stroke-width="0.9" fill="none" stroke-linejoin="round"/>
<rect x="328.25" y="192.79" width="1.90" height="1.90" fill="#f0981a"/>
<rect x="329.78" y="159.58" width="1.90" height="1.90" fill="#f0981a"/>
<rect x="330.55" y="162.83" width="1.90" height="1.90" fill="#f0981a"/>
<rect x="332.85" y="162.78" width="1.90" height="1.90" fill="#f0981a"/>
<rect x="335.15" y="169.46" width="1.90" height="1.90" fill="#f0981a"/>
<rect x="337.45" y="175.25" width="1.90" height="1.90" fill="#f0981a"/>
<rect x="339.75" y="176.94" width="1.90" height="1.90" fill="#f0981a"/>
<rect x="342.05" y="169.68" width="1.90" height="1.90" fill="#f0981a"/>
<rect x="344.35" y="164.16" width="1.90" height="1.90" fill="#f0981a"/>
<rect x="346.65" y="166.75" width="1.90" height="1.90" fill="#f0981a"/>
<rect x="348.95" y="162.85" width="1.90" height="1.90" fill="#f0981a"/>
<rect x="351.25" y="168.29" width="1.90" height="1.90" fill="#f0981a"/>
<rect x="353.55" y="170.74" width="1.90" height="1.90" fill="#f0981a"/>
<rect x="355.85" y="170.99" width="1.90" height="1.90" fill="#f0981a"/>
<rect x="358.15" y="168.71" width="1.90" height="1.90" fill="#f0981a"/>
<rect x="360.45" y="165.50" width="1.90" height="1.90" fill="#f0981a"/>
<rect x="362.75" y="164.21" width="1.90" height="1.90" fill="#f0981a"/>
<rect x="365.05" y="170.61" width="1.90" height="1.90" fill="#f0981a"/>
<rect x="367.35" y="172.87" width="1.90" height="1.90" fill="#f0981a"/>
<rect x="369.65" y="169.37" width="1.90" height="1.90" fill="#f0981a"/>
<rect x="371.95" y="167.88" width="1.90" height="1.90" fill="#f0981a"/>
<rect x="374.25" y="170.50" width="1.90" height="1.90" fill="#f0981a"/>
<rect x="376.55" y="164.54" width="1.90" height="1.90" fill="#f0981a"/>
<rect x="378.85" y="163.55" width="1.90" height="1.90" fill="#f0981a"/>
<rect x="381.15" y="164.23" width="1.90" height="1.90" fill="#f0981a"/>
<rect x="383.45" y="163.80" width="1.90" height="1.90" fill="#f0981a"/>
<rect x="385.75" y="164.03" width="1.90" height="1.90" fill="#f0981a"/>
<rect x="388.05" y="164.58" width="1.90" height="1.90" fill="#f0981a"/>
<rect x="390.35" y="165.98" width="1.90" height="1.90" fill="#f0981a"/>
<rect x="392.65" y="162.99" width="1.90" height="1.90" fill="#f0981a"/>
<rect x="394.95" y="162.40" width="1.90" height="1.90" fill="#f0981a"/>
<rect x="397.25" y="164.57" width="1.90" height="1.90" fill="#f0981a"/>
<rect x="399.55" y="163.88" width="1.90" height="1.90" fill="#f0981a"/>
<rect x="401.85" y="164.90" width="1.90" height="1.90" fill="#f0981a"/>
<rect x="404.15" y="164.21" width="1.90" height="1.90" fill="#f0981a"/>
<rect x="406.45" y="162.19" width="1.90" height="1.90" fill="#f0981a"/>
<rect x="408.75" y="161.28" width="1.90" height="1.90" fill="#f0981a"/>
<rect x="411.05" y="161.43" width="1.90" height="1.90" fill="#f0981a"/>
<rect x="413.35" y="165.82" width="1.90" height="1.90" fill="#f0981a"/>
<rect x="415.65" y="166.39" width="1.90" height="1.90" fill="#f0981a"/>
<rect x="417.95" y="162.57" width="1.90" height="1.90" fill="#f0981a"/>
<rect x="420.25" y="164.31" width="1.90" height="1.90" fill="#f0981a"/>
<line x1="329.20" y1="190.10" x2="329.20" y2="202.46" stroke="#5a3212" stroke-width="0.6"/>
<line x1="327.90" y1="190.10" x2="330.50" y2="190.10" stroke="#5a3212" stroke-width="0.6"/>
<line x1="327.90" y1="202.46" x2="330.50" y2="202.46" stroke="#5a3212" stroke-width="0.6"/>
<line x1="330.73" y1="155.08" x2="330.73" y2="167.44" stroke="#5a3212" stroke-width="0.6"/>
<line x1="329.43" y1="155.08" x2="332.03" y2="155.08" stroke="#5a3212" stroke-width="0.6"/>
<line x1="329.43" y1="167.44" x2="332.03" y2="167.44" stroke="#5a3212" stroke-width="0.6"/>
<line x1="333.03" y1="159.20" x2="333.03" y2="171.56" stroke="#5a3212" stroke-width="0.6"/>
<line x1="331.73" y1="159.20" x2="334.33" y2="159.20" stroke="#5a3212" stroke-width="0.6"/>
<line x1="331.73" y1="171.56" x2="334.33" y2="171.56" stroke="#5a3212" stroke-width="0.6"/>
<line x1="335.33" y1="163.32" x2="335.33" y2="175.68" stroke="#5a3212" stroke-width="0.6"/>
<line x1="334.03" y1="163.32" x2="336.63" y2="163.32" stroke="#5a3212" stroke-width="0.6"/>
<line x1="334.03" y1="175.68" x2="336.63" y2="175.68" stroke="#5a3212" stroke-width="0.6"/>
<line x1="337.63" y1="171.56" x2="337.63" y2="183.92" stroke="#5a3212" stroke-width="0.6"/>
<line x1="336.33" y1="171.56" x2="338.93" y2="171.56" stroke="#5a3212" stroke-width="0.6"/>
<line x1="336.33" y1="183.92" x2="338.93" y2="183.92" stroke="#5a3212" stroke-width="0.6"/>
<line x1="339.93" y1="177.74" x2="339.93" y2="190.10" stroke="#5a3212" stroke-width="0.6"/>
<line x1="338.63" y1="177.74" x2="341.23" y2="177.74" stroke="#5a3212" stroke-width="0.6"/>
<line x1="338.63" y1="190.10" x2="341.23" y2="190.10" stroke="#5a3212" stroke-width="0.6"/>
<line x1="342.23" y1="171.56" x2="342.23" y2="183.92" stroke="#5a3212" stroke-width="0.6"/>
<line x1="340.93" y1="171.56" x2="343.53" y2="171.56" stroke="#5a3212" stroke-width="0.6"/>
<line x1="340.93" y1="183.92" x2="343.53" y2="183.92" stroke="#5a3212" stroke-width="0.6"/>
<line x1="344.53" y1="157.14" x2="344.53" y2="169.50" stroke="#5a3212" stroke-width="0.6"/>
<line x1="343.23" y1="157.14" x2="345.83" y2="157.14" stroke="#5a3212" stroke-width="0.6"/>
<line x1="343.23" y1="169.50" x2="345.83" y2="169.50" stroke="#5a3212" stroke-width="0.6"/>
<line x1="346.83" y1="140.66" x2="346.83" y2="161.26" stroke="#5a3212" stroke-width="0.6"/>
<line x1="345.53" y1="140.66" x2="348.13" y2="140.66" stroke="#5a3212" stroke-width="0.6"/>
<line x1="345.53" y1="161.26" x2="348.13" y2="161.26" stroke="#5a3212" stroke-width="0.6"/>
<line x1="348.37" y1="144.78" x2="348.37" y2="165.38" stroke="#5a3212" stroke-width="0.6"/>
<line x1="347.07" y1="144.78" x2="349.67" y2="144.78" stroke="#5a3212" stroke-width="0.6"/>
<line x1="347.07" y1="165.38" x2="349.67" y2="165.38" stroke="#5a3212" stroke-width="0.6"/>
<line x1="350.67" y1="153.02" x2="350.67" y2="165.38" stroke="#5a3212" stroke-width="0.6"/>
<line x1="349.37" y1="153.02" x2="351.97" y2="153.02" stroke="#5a3212" stroke-width="0.6"/>
<line x1="349.37" y1="165.38" x2="351.97" y2="165.38" stroke="#5a3212" stroke-width="0.6"/>
<line x1="352.97" y1="153.02" x2="352.97" y2="165.38" stroke="#5a3212" stroke-width="0.6"/>
<line x1="351.67" y1="153.02" x2="354.27" y2="153.02" stroke="#5a3212" stroke-width="0.6"/>
<line x1="351.67" y1="165.38" x2="354.27" y2="165.38" stroke="#5a3212" stroke-width="0.6"/>
<path d="M329.20,196.28 L330.73,161.26 L333.03,165.38 L335.33,169.50 L337.63,177.74 L339.93,183.92 L342.23,177.74 L344.53,163.32 L346.83,150.96 L348.37,155.08 L350.67,159.20 L352.97,159.20" stroke="#5a3212" stroke-width="0.8" fill="none" stroke-linejoin="round"/>
<circle cx="329.20" cy="196.28" r="0.95" fill="#5a3212"/>
<circle cx="330.73" cy="161.26" r="0.95" fill="#5a3212"/>
<circle cx="333.03" cy="165.38" r="0.95" fill="#5a3212"/>
<circle cx="335.33" cy="169.50" r="0.95" fill="#5a3212"/>
<circle cx="337.63" cy="177.74" r="0.95" fill="#5a3212"/>
<circle cx="339.93" cy="183.92" r="0.95" fill="#5a3212"/>
<circle cx="342.23" cy="177.74" r="0.95" fill="#5a3212"/>
<circle cx="344.53" cy="163.32" r="0.95" fill="#5a3212"/>
<circle cx="346.83" cy="150.96" r="0.95" fill="#5a3212"/>
<circle cx="348.37" cy="155.08" r="0.95" fill="#5a3212"/>
<circle cx="350.67" cy="159.20" r="0.95" fill="#5a3212"/>
<circle cx="352.97" cy="159.20" r="0.95" fill="#5a3212"/>
<line x1="329.20" y1="136.00" x2="329.20" y2="200.85" stroke="#222" stroke-width="0.95"/>
<line x1="326.20" y1="200.40" x2="329.20" y2="200.40" stroke="#222" stroke-width="0.8"/>
<text x="324.60" y="202.65" font-size="6.3" text-anchor="end" fill="#3a3a3a" textLength="3.15" lengthAdjust="spacingAndGlyphs" stroke="#3a3a3a" stroke-width="0.08">0</text>
<line x1="326.20" y1="179.80" x2="329.20" y2="179.80" stroke="#222" stroke-width="0.8"/>
<text x="324.60" y="182.05" font-size="6.3" text-anchor="end" fill="#3a3a3a" textLength="3.15" lengthAdjust="spacingAndGlyphs" stroke="#3a3a3a" stroke-width="0.08">1</text>
<line x1="326.20" y1="159.20" x2="329.20" y2="159.20" stroke="#222" stroke-width="0.8"/>
<text x="324.60" y="161.45" font-size="6.3" text-anchor="end" fill="#3a3a3a" textLength="3.15" lengthAdjust="spacingAndGlyphs" stroke="#3a3a3a" stroke-width="0.08">2</text>
<line x1="326.20" y1="138.60" x2="329.20" y2="138.60" stroke="#222" stroke-width="0.8"/>
<text x="324.60" y="140.85" font-size="6.3" text-anchor="end" fill="#3a3a3a" textLength="3.15" lengthAdjust="spacingAndGlyphs" stroke="#3a3a3a" stroke-width="0.08">3</text>
<line x1="328.75" y1="200.40" x2="422.50" y2="200.40" stroke="#222" stroke-width="0.95"/>
<line x1="329.20" y1="200.40" x2="329.20" y2="203.40" stroke="#222" stroke-width="0.8"/>
<text x="329.20" y="212.40" font-size="6.3" text-anchor="middle" fill="#3a3a3a" textLength="3.15" lengthAdjust="spacingAndGlyphs" stroke="#3a3a3a" stroke-width="0.08">0</text>
<line x1="352.20" y1="200.40" x2="352.20" y2="203.40" stroke="#222" stroke-width="0.8"/>
<text x="352.20" y="212.40" font-size="6.3" text-anchor="middle" fill="#3a3a3a" textLength="6.3" lengthAdjust="spacingAndGlyphs" stroke="#3a3a3a" stroke-width="0.08">30</text>
<line x1="375.20" y1="200.40" x2="375.20" y2="203.40" stroke="#222" stroke-width="0.8"/>
<text x="375.20" y="212.40" font-size="6.3" text-anchor="middle" fill="#3a3a3a" textLength="6.3" lengthAdjust="spacingAndGlyphs" stroke="#3a3a3a" stroke-width="0.08">60</text>
<line x1="398.20" y1="200.40" x2="398.20" y2="203.40" stroke="#222" stroke-width="0.8"/>
<text x="398.20" y="212.40" font-size="6.3" text-anchor="middle" fill="#3a3a3a" textLength="6.3" lengthAdjust="spacingAndGlyphs" stroke="#3a3a3a" stroke-width="0.08">90</text>
<line x1="421.20" y1="200.40" x2="421.20" y2="203.40" stroke="#222" stroke-width="0.8"/>
<text x="421.20" y="212.40" font-size="6.3" text-anchor="middle" fill="#3a3a3a" textLength="9.45" lengthAdjust="spacingAndGlyphs" stroke="#3a3a3a" stroke-width="0.08">120</text>
<line x1="329.20" y1="200.40" x2="329.20" y2="201.80" stroke="#222" stroke-width="0.6"/>
<line x1="331.50" y1="200.40" x2="331.50" y2="201.80" stroke="#222" stroke-width="0.6"/>
<line x1="333.80" y1="200.40" x2="333.80" y2="201.80" stroke="#222" stroke-width="0.6"/>
<line x1="336.10" y1="200.40" x2="336.10" y2="201.80" stroke="#222" stroke-width="0.6"/>
<line x1="338.40" y1="200.40" x2="338.40" y2="201.80" stroke="#222" stroke-width="0.6"/>
<line x1="340.70" y1="200.40" x2="340.70" y2="201.80" stroke="#222" stroke-width="0.6"/>
<line x1="343.00" y1="200.40" x2="343.00" y2="201.80" stroke="#222" stroke-width="0.6"/>
<line x1="345.30" y1="200.40" x2="345.30" y2="201.80" stroke="#222" stroke-width="0.6"/>
<line x1="347.60" y1="200.40" x2="347.60" y2="201.80" stroke="#222" stroke-width="0.6"/>
<line x1="349.90" y1="200.40" x2="349.90" y2="201.80" stroke="#222" stroke-width="0.6"/>
<line x1="352.20" y1="200.40" x2="352.20" y2="201.80" stroke="#222" stroke-width="0.6"/>
<line x1="354.50" y1="200.40" x2="354.50" y2="201.80" stroke="#222" stroke-width="0.6"/>
<line x1="356.80" y1="200.40" x2="356.80" y2="201.80" stroke="#222" stroke-width="0.6"/>
<line x1="359.10" y1="200.40" x2="359.10" y2="201.80" stroke="#222" stroke-width="0.6"/>
<line x1="361.40" y1="200.40" x2="361.40" y2="201.80" stroke="#222" stroke-width="0.6"/>
<line x1="363.70" y1="200.40" x2="363.70" y2="201.80" stroke="#222" stroke-width="0.6"/>
<line x1="366.00" y1="200.40" x2="366.00" y2="201.80" stroke="#222" stroke-width="0.6"/>
<line x1="368.30" y1="200.40" x2="368.30" y2="201.80" stroke="#222" stroke-width="0.6"/>
<line x1="370.60" y1="200.40" x2="370.60" y2="201.80" stroke="#222" stroke-width="0.6"/>
<line x1="372.90" y1="200.40" x2="372.90" y2="201.80" stroke="#222" stroke-width="0.6"/>
<line x1="375.20" y1="200.40" x2="375.20" y2="201.80" stroke="#222" stroke-width="0.6"/>
<line x1="377.50" y1="200.40" x2="377.50" y2="201.80" stroke="#222" stroke-width="0.6"/>
<line x1="379.80" y1="200.40" x2="379.80" y2="201.80" stroke="#222" stroke-width="0.6"/>
<line x1="382.10" y1="200.40" x2="382.10" y2="201.80" stroke="#222" stroke-width="0.6"/>
<line x1="384.40" y1="200.40" x2="384.40" y2="201.80" stroke="#222" stroke-width="0.6"/>
<line x1="386.70" y1="200.40" x2="386.70" y2="201.80" stroke="#222" stroke-width="0.6"/>
<line x1="389.00" y1="200.40" x2="389.00" y2="201.80" stroke="#222" stroke-width="0.6"/>
<line x1="391.30" y1="200.40" x2="391.30" y2="201.80" stroke="#222" stroke-width="0.6"/>
<line x1="393.60" y1="200.40" x2="393.60" y2="201.80" stroke="#222" stroke-width="0.6"/>
<line x1="395.90" y1="200.40" x2="395.90" y2="201.80" stroke="#222" stroke-width="0.6"/>
<line x1="398.20" y1="200.40" x2="398.20" y2="201.80" stroke="#222" stroke-width="0.6"/>
<line x1="400.50" y1="200.40" x2="400.50" y2="201.80" stroke="#222" stroke-width="0.6"/>
<line x1="402.80" y1="200.40" x2="402.80" y2="201.80" stroke="#222" stroke-width="0.6"/>
<line x1="405.10" y1="200.40" x2="405.10" y2="201.80" stroke="#222" stroke-width="0.6"/>
<line x1="407.40" y1="200.40" x2="407.40" y2="201.80" stroke="#222" stroke-width="0.6"/>
<line x1="409.70" y1="200.40" x2="409.70" y2="201.80" stroke="#222" stroke-width="0.6"/>
<line x1="412.00" y1="200.40" x2="412.00" y2="201.80" stroke="#222" stroke-width="0.6"/>
<line x1="414.30" y1="200.40" x2="414.30" y2="201.80" stroke="#222" stroke-width="0.6"/>
<line x1="416.60" y1="200.40" x2="416.60" y2="201.80" stroke="#222" stroke-width="0.6"/>
<line x1="418.90" y1="200.40" x2="418.90" y2="201.80" stroke="#222" stroke-width="0.6"/>
<line x1="421.20" y1="200.40" x2="421.20" y2="201.80" stroke="#222" stroke-width="0.6"/>
<text x="313.80" y="170.20" font-size="8.0" text-anchor="middle" fill="#3a3a3a" textLength="16.3" lengthAdjust="spacingAndGlyphs" transform="rotate(-90 313.80 170.20)" stroke="#3a3a3a" stroke-width="0.18">Mean</text>
<text x="377.50" y="224.40" font-size="8.0" text-anchor="middle" fill="#3a3a3a" textLength="62.4" lengthAdjust="spacingAndGlyphs" stroke="#3a3a3a" stroke-width="0.18">Days post-transplant</text>
<text x="235.60" y="250.60" font-size="8.8" text-anchor="middle" fill="#3a3a3a" textLength="27.7" lengthAdjust="spacingAndGlyphs" stroke="#3a3a3a" stroke-width="0.18">Weight</text>
<line x1="185.10" y1="277.31" x2="185.10" y2="283.75" stroke="#cfcfcf" stroke-width="0.6"/>
<line x1="183.80" y1="277.31" x2="186.40" y2="277.31" stroke="#cfcfcf" stroke-width="0.6"/>
<line x1="183.80" y1="283.75" x2="186.40" y2="283.75" stroke="#cfcfcf" stroke-width="0.6"/>
<line x1="187.52" y1="291.96" x2="187.52" y2="298.40" stroke="#cfcfcf" stroke-width="0.6"/>
<line x1="186.22" y1="291.96" x2="188.82" y2="291.96" stroke="#cfcfcf" stroke-width="0.6"/>
<line x1="186.22" y1="298.40" x2="188.82" y2="298.40" stroke="#cfcfcf" stroke-width="0.6"/>
<line x1="189.94" y1="290.66" x2="189.94" y2="297.11" stroke="#cfcfcf" stroke-width="0.6"/>
<line x1="188.64" y1="290.66" x2="191.24" y2="290.66" stroke="#cfcfcf" stroke-width="0.6"/>
<line x1="188.64" y1="297.11" x2="191.24" y2="297.11" stroke="#cfcfcf" stroke-width="0.6"/>
<line x1="192.35" y1="286.82" x2="192.35" y2="293.27" stroke="#cfcfcf" stroke-width="0.6"/>
<line x1="191.05" y1="286.82" x2="193.65" y2="286.82" stroke="#cfcfcf" stroke-width="0.6"/>
<line x1="191.05" y1="293.27" x2="193.65" y2="293.27" stroke="#cfcfcf" stroke-width="0.6"/>
<line x1="194.77" y1="283.40" x2="194.77" y2="289.84" stroke="#cfcfcf" stroke-width="0.6"/>
<line x1="193.47" y1="283.40" x2="196.07" y2="283.40" stroke="#cfcfcf" stroke-width="0.6"/>
<line x1="193.47" y1="289.84" x2="196.07" y2="289.84" stroke="#cfcfcf" stroke-width="0.6"/>
<line x1="197.19" y1="283.40" x2="197.19" y2="289.84" stroke="#cfcfcf" stroke-width="0.6"/>
<line x1="195.89" y1="283.40" x2="198.49" y2="283.40" stroke="#cfcfcf" stroke-width="0.6"/>
<line x1="195.89" y1="289.84" x2="198.49" y2="289.84" stroke="#cfcfcf" stroke-width="0.6"/>
<line x1="199.61" y1="285.10" x2="199.61" y2="291.54" stroke="#cfcfcf" stroke-width="0.6"/>
<line x1="198.31" y1="285.10" x2="200.91" y2="285.10" stroke="#cfcfcf" stroke-width="0.6"/>
<line x1="198.31" y1="291.54" x2="200.91" y2="291.54" stroke="#cfcfcf" stroke-width="0.6"/>
<line x1="202.03" y1="285.90" x2="202.03" y2="292.35" stroke="#cfcfcf" stroke-width="0.6"/>
<line x1="200.73" y1="285.90" x2="203.33" y2="285.90" stroke="#cfcfcf" stroke-width="0.6"/>
<line x1="200.73" y1="292.35" x2="203.33" y2="292.35" stroke="#cfcfcf" stroke-width="0.6"/>
<line x1="204.44" y1="284.83" x2="204.44" y2="291.27" stroke="#cfcfcf" stroke-width="0.6"/>
<line x1="203.14" y1="284.83" x2="205.74" y2="284.83" stroke="#cfcfcf" stroke-width="0.6"/>
<line x1="203.14" y1="291.27" x2="205.74" y2="291.27" stroke="#cfcfcf" stroke-width="0.6"/>
<line x1="206.86" y1="285.63" x2="206.86" y2="292.08" stroke="#cfcfcf" stroke-width="0.6"/>
<line x1="205.56" y1="285.63" x2="208.16" y2="285.63" stroke="#cfcfcf" stroke-width="0.6"/>
<line x1="205.56" y1="292.08" x2="208.16" y2="292.08" stroke="#cfcfcf" stroke-width="0.6"/>
<line x1="209.28" y1="282.68" x2="209.28" y2="299.87" stroke="#cfcfcf" stroke-width="0.6"/>
<line x1="207.98" y1="282.68" x2="210.58" y2="282.68" stroke="#cfcfcf" stroke-width="0.6"/>
<line x1="207.98" y1="299.87" x2="210.58" y2="299.87" stroke="#cfcfcf" stroke-width="0.6"/>
<line x1="212.50" y1="286.98" x2="212.50" y2="304.16" stroke="#cfcfcf" stroke-width="0.6"/>
<line x1="211.20" y1="286.98" x2="213.80" y2="286.98" stroke="#cfcfcf" stroke-width="0.6"/>
<line x1="211.20" y1="304.16" x2="213.80" y2="304.16" stroke="#cfcfcf" stroke-width="0.6"/>
<path d="M185.10,280.53 L187.52,295.18 L189.94,293.88 L192.35,290.05 L194.77,286.62 L197.19,286.62 L199.61,288.32 L202.03,289.13 L204.44,288.05 L206.86,288.86 L209.28,291.27 L212.50,295.57" stroke="#cfcfcf" stroke-width="0.8" fill="none" stroke-linejoin="round"/>
<circle cx="185.10" cy="280.53" r="0.95" fill="white" stroke="#cfcfcf" stroke-width="0.5"/>
<circle cx="187.52" cy="295.18" r="0.95" fill="white" stroke="#cfcfcf" stroke-width="0.5"/>
<circle cx="189.94" cy="293.88" r="0.95" fill="white" stroke="#cfcfcf" stroke-width="0.5"/>
<circle cx="192.35" cy="290.05" r="0.95" fill="white" stroke="#cfcfcf" stroke-width="0.5"/>
<circle cx="194.77" cy="286.62" r="0.95" fill="white" stroke="#cfcfcf" stroke-width="0.5"/>
<circle cx="197.19" cy="286.62" r="0.95" fill="white" stroke="#cfcfcf" stroke-width="0.5"/>
<circle cx="199.61" cy="288.32" r="0.95" fill="white" stroke="#cfcfcf" stroke-width="0.5"/>
<circle cx="202.03" cy="289.13" r="0.95" fill="white" stroke="#cfcfcf" stroke-width="0.5"/>
<circle cx="204.44" cy="288.05" r="0.95" fill="white" stroke="#cfcfcf" stroke-width="0.5"/>
<circle cx="206.86" cy="288.86" r="0.95" fill="white" stroke="#cfcfcf" stroke-width="0.5"/>
<circle cx="209.28" cy="291.27" r="0.95" fill="white" stroke="#cfcfcf" stroke-width="0.5"/>
<circle cx="212.50" cy="295.57" r="0.95" fill="white" stroke="#cfcfcf" stroke-width="0.5"/>
<line x1="185.10" y1="290.41" x2="185.10" y2="296.43" stroke="#cc1236" stroke-width="0.6"/>
<line x1="183.80" y1="290.41" x2="186.40" y2="290.41" stroke="#cc1236" stroke-width="0.6"/>
<line x1="183.80" y1="296.43" x2="186.40" y2="296.43" stroke="#cc1236" stroke-width="0.6"/>
<line x1="186.71" y1="294.71" x2="186.71" y2="300.73" stroke="#cc1236" stroke-width="0.6"/>
<line x1="185.41" y1="294.71" x2="188.01" y2="294.71" stroke="#cc1236" stroke-width="0.6"/>
<line x1="185.41" y1="300.73" x2="188.01" y2="300.73" stroke="#cc1236" stroke-width="0.6"/>
<line x1="188.32" y1="303.31" x2="188.32" y2="309.32" stroke="#cc1236" stroke-width="0.6"/>
<line x1="187.02" y1="303.31" x2="189.62" y2="303.31" stroke="#cc1236" stroke-width="0.6"/>
<line x1="187.02" y1="309.32" x2="189.62" y2="309.32" stroke="#cc1236" stroke-width="0.6"/>
<line x1="190.42" y1="306.53" x2="190.42" y2="312.54" stroke="#cc1236" stroke-width="0.6"/>
<line x1="189.12" y1="306.53" x2="191.72" y2="306.53" stroke="#cc1236" stroke-width="0.6"/>
<line x1="189.12" y1="312.54" x2="191.72" y2="312.54" stroke="#cc1236" stroke-width="0.6"/>
<line x1="192.76" y1="299.01" x2="192.76" y2="305.02" stroke="#cc1236" stroke-width="0.6"/>
<line x1="191.46" y1="299.01" x2="194.06" y2="299.01" stroke="#cc1236" stroke-width="0.6"/>
<line x1="191.46" y1="305.02" x2="194.06" y2="305.02" stroke="#cc1236" stroke-width="0.6"/>
<line x1="195.09" y1="296.32" x2="195.09" y2="302.34" stroke="#cc1236" stroke-width="0.6"/>
<line x1="193.79" y1="296.32" x2="196.39" y2="296.32" stroke="#cc1236" stroke-width="0.6"/>
<line x1="193.79" y1="302.34" x2="196.39" y2="302.34" stroke="#cc1236" stroke-width="0.6"/>
<line x1="196.79" y1="281.82" x2="196.79" y2="287.84" stroke="#cc1236" stroke-width="0.6"/>
<line x1="195.49" y1="281.82" x2="198.09" y2="281.82" stroke="#cc1236" stroke-width="0.6"/>
<line x1="195.49" y1="287.84" x2="198.09" y2="287.84" stroke="#cc1236" stroke-width="0.6"/>
<line x1="198.80" y1="282.90" x2="198.80" y2="288.91" stroke="#cc1236" stroke-width="0.6"/>
<line x1="197.50" y1="282.90" x2="200.10" y2="282.90" stroke="#cc1236" stroke-width="0.6"/>
<line x1="197.50" y1="288.91" x2="200.10" y2="288.91" stroke="#cc1236" stroke-width="0.6"/>
<line x1="201.22" y1="285.04" x2="201.22" y2="291.06" stroke="#cc1236" stroke-width="0.6"/>
<line x1="199.92" y1="285.04" x2="202.52" y2="285.04" stroke="#cc1236" stroke-width="0.6"/>
<line x1="199.92" y1="291.06" x2="202.52" y2="291.06" stroke="#cc1236" stroke-width="0.6"/>
<line x1="203.64" y1="288.27" x2="203.64" y2="294.28" stroke="#cc1236" stroke-width="0.6"/>
<line x1="202.34" y1="288.27" x2="204.94" y2="288.27" stroke="#cc1236" stroke-width="0.6"/>
<line x1="202.34" y1="294.28" x2="204.94" y2="294.28" stroke="#cc1236" stroke-width="0.6"/>
<line x1="207.67" y1="289.34" x2="207.67" y2="295.36" stroke="#cc1236" stroke-width="0.6"/>
<line x1="206.37" y1="289.34" x2="208.97" y2="289.34" stroke="#cc1236" stroke-width="0.6"/>
<line x1="206.37" y1="295.36" x2="208.97" y2="295.36" stroke="#cc1236" stroke-width="0.6"/>
<line x1="210.89" y1="288.27" x2="210.89" y2="294.28" stroke="#cc1236" stroke-width="0.6"/>
<line x1="209.59" y1="288.27" x2="212.19" y2="288.27" stroke="#cc1236" stroke-width="0.6"/>
<line x1="209.59" y1="294.28" x2="212.19" y2="294.28" stroke="#cc1236" stroke-width="0.6"/>
<line x1="214.12" y1="282.90" x2="214.12" y2="288.91" stroke="#cc1236" stroke-width="0.6"/>
<line x1="212.82" y1="282.90" x2="215.42" y2="282.90" stroke="#cc1236" stroke-width="0.6"/>
<line x1="212.82" y1="288.91" x2="215.42" y2="288.91" stroke="#cc1236" stroke-width="0.6"/>
<line x1="217.34" y1="279.67" x2="217.34" y2="285.69" stroke="#cc1236" stroke-width="0.6"/>
<line x1="216.04" y1="279.67" x2="218.64" y2="279.67" stroke="#cc1236" stroke-width="0.6"/>
<line x1="216.04" y1="285.69" x2="218.64" y2="285.69" stroke="#cc1236" stroke-width="0.6"/>
<line x1="219.76" y1="280.75" x2="219.76" y2="286.76" stroke="#cc1236" stroke-width="0.6"/>
<line x1="218.46" y1="280.75" x2="221.06" y2="280.75" stroke="#cc1236" stroke-width="0.6"/>
<line x1="218.46" y1="286.76" x2="221.06" y2="286.76" stroke="#cc1236" stroke-width="0.6"/>
<line x1="222.42" y1="281.50" x2="222.42" y2="287.51" stroke="#cc1236" stroke-width="0.6"/>
<line x1="221.12" y1="281.50" x2="223.72" y2="281.50" stroke="#cc1236" stroke-width="0.6"/>
<line x1="221.12" y1="287.51" x2="223.72" y2="287.51" stroke="#cc1236" stroke-width="0.6"/>
<line x1="225.40" y1="288.59" x2="225.40" y2="294.60" stroke="#cc1236" stroke-width="0.6"/>
<line x1="224.10" y1="288.59" x2="226.70" y2="288.59" stroke="#cc1236" stroke-width="0.6"/>
<line x1="224.10" y1="294.60" x2="226.70" y2="294.60" stroke="#cc1236" stroke-width="0.6"/>
<line x1="227.01" y1="286.65" x2="227.01" y2="292.67" stroke="#cc1236" stroke-width="0.6"/>
<line x1="225.71" y1="286.65" x2="228.31" y2="286.65" stroke="#cc1236" stroke-width="0.6"/>
<line x1="225.71" y1="292.67" x2="228.31" y2="292.67" stroke="#cc1236" stroke-width="0.6"/>
<line x1="230.24" y1="282.57" x2="230.24" y2="288.59" stroke="#cc1236" stroke-width="0.6"/>
<line x1="228.94" y1="282.57" x2="231.54" y2="282.57" stroke="#cc1236" stroke-width="0.6"/>
<line x1="228.94" y1="288.59" x2="231.54" y2="288.59" stroke="#cc1236" stroke-width="0.6"/>
<line x1="233.46" y1="280.53" x2="233.46" y2="286.55" stroke="#cc1236" stroke-width="0.6"/>
<line x1="232.16" y1="280.53" x2="234.76" y2="280.53" stroke="#cc1236" stroke-width="0.6"/>
<line x1="232.16" y1="286.55" x2="234.76" y2="286.55" stroke="#cc1236" stroke-width="0.6"/>
<line x1="235.47" y1="279.57" x2="235.47" y2="293.53" stroke="#cc1236" stroke-width="0.6"/>
<line x1="234.17" y1="279.57" x2="236.78" y2="279.57" stroke="#cc1236" stroke-width="0.6"/>
<line x1="234.17" y1="293.53" x2="236.78" y2="293.53" stroke="#cc1236" stroke-width="0.6"/>
<line x1="237.49" y1="287.62" x2="237.49" y2="301.59" stroke="#cc1236" stroke-width="0.6"/>
<line x1="236.19" y1="287.62" x2="238.79" y2="287.62" stroke="#cc1236" stroke-width="0.6"/>
<line x1="236.19" y1="301.59" x2="238.79" y2="301.59" stroke="#cc1236" stroke-width="0.6"/>
<line x1="239.59" y1="294.71" x2="239.59" y2="308.68" stroke="#cc1236" stroke-width="0.6"/>
<line x1="238.29" y1="294.71" x2="240.89" y2="294.71" stroke="#cc1236" stroke-width="0.6"/>
<line x1="238.29" y1="308.68" x2="240.89" y2="308.68" stroke="#cc1236" stroke-width="0.6"/>
<line x1="241.20" y1="298.79" x2="241.20" y2="312.76" stroke="#cc1236" stroke-width="0.6"/>
<line x1="239.90" y1="298.79" x2="242.50" y2="298.79" stroke="#cc1236" stroke-width="0.6"/>
<line x1="239.90" y1="312.76" x2="242.50" y2="312.76" stroke="#cc1236" stroke-width="0.6"/>
<line x1="242.57" y1="291.70" x2="242.57" y2="305.67" stroke="#cc1236" stroke-width="0.6"/>
<line x1="241.27" y1="291.70" x2="243.87" y2="291.70" stroke="#cc1236" stroke-width="0.6"/>
<line x1="241.27" y1="305.67" x2="243.87" y2="305.67" stroke="#cc1236" stroke-width="0.6"/>
<line x1="244.58" y1="285.69" x2="244.58" y2="299.65" stroke="#cc1236" stroke-width="0.6"/>
<line x1="243.28" y1="285.69" x2="245.88" y2="285.69" stroke="#cc1236" stroke-width="0.6"/>
<line x1="243.28" y1="299.65" x2="245.88" y2="299.65" stroke="#cc1236" stroke-width="0.6"/>
<line x1="246.60" y1="288.70" x2="246.60" y2="302.66" stroke="#cc1236" stroke-width="0.6"/>
<line x1="245.30" y1="288.70" x2="247.90" y2="288.70" stroke="#cc1236" stroke-width="0.6"/>
<line x1="245.30" y1="302.66" x2="247.90" y2="302.66" stroke="#cc1236" stroke-width="0.6"/>
<line x1="248.61" y1="290.74" x2="248.61" y2="304.70" stroke="#cc1236" stroke-width="0.6"/>
<line x1="247.31" y1="290.74" x2="249.91" y2="290.74" stroke="#cc1236" stroke-width="0.6"/>
<line x1="247.31" y1="304.70" x2="249.91" y2="304.70" stroke="#cc1236" stroke-width="0.6"/>
<line x1="250.71" y1="284.51" x2="250.71" y2="290.52" stroke="#cc1236" stroke-width="0.6"/>
<line x1="249.41" y1="284.51" x2="252.01" y2="284.51" stroke="#cc1236" stroke-width="0.6"/>
<line x1="249.41" y1="290.52" x2="252.01" y2="290.52" stroke="#cc1236" stroke-width="0.6"/>
<line x1="253.69" y1="281.50" x2="253.69" y2="287.51" stroke="#cc1236" stroke-width="0.6"/>
<line x1="252.39" y1="281.50" x2="254.99" y2="281.50" stroke="#cc1236" stroke-width="0.6"/>
<line x1="252.39" y1="287.51" x2="254.99" y2="287.51" stroke="#cc1236" stroke-width="0.6"/>
<line x1="257.64" y1="279.57" x2="257.64" y2="285.58" stroke="#cc1236" stroke-width="0.6"/>
<line x1="256.34" y1="279.57" x2="258.94" y2="279.57" stroke="#cc1236" stroke-width="0.6"/>
<line x1="256.34" y1="285.58" x2="258.94" y2="285.58" stroke="#cc1236" stroke-width="0.6"/>
<line x1="262.80" y1="277.52" x2="262.80" y2="283.54" stroke="#cc1236" stroke-width="0.6"/>
<line x1="261.50" y1="277.52" x2="264.10" y2="277.52" stroke="#cc1236" stroke-width="0.6"/>
<line x1="261.50" y1="283.54" x2="264.10" y2="283.54" stroke="#cc1236" stroke-width="0.6"/>
<line x1="264.81" y1="274.41" x2="264.81" y2="280.42" stroke="#cc1236" stroke-width="0.6"/>
<line x1="263.51" y1="274.41" x2="266.11" y2="274.41" stroke="#cc1236" stroke-width="0.6"/>
<line x1="263.51" y1="280.42" x2="266.11" y2="280.42" stroke="#cc1236" stroke-width="0.6"/>
<line x1="266.83" y1="279.24" x2="266.83" y2="281.82" stroke="#cc1236" stroke-width="0.6"/>
<line x1="265.53" y1="279.24" x2="268.13" y2="279.24" stroke="#cc1236" stroke-width="0.6"/>
<line x1="265.53" y1="281.82" x2="268.13" y2="281.82" stroke="#cc1236" stroke-width="0.6"/>
<line x1="270.94" y1="280.32" x2="270.94" y2="282.90" stroke="#cc1236" stroke-width="0.6"/>
<line x1="269.64" y1="280.32" x2="272.24" y2="280.32" stroke="#cc1236" stroke-width="0.6"/>
<line x1="269.64" y1="282.90" x2="272.24" y2="282.90" stroke="#cc1236" stroke-width="0.6"/>
<line x1="274.97" y1="281.28" x2="274.97" y2="283.86" stroke="#cc1236" stroke-width="0.6"/>
<line x1="273.67" y1="281.28" x2="276.27" y2="281.28" stroke="#cc1236" stroke-width="0.6"/>
<line x1="273.67" y1="283.86" x2="276.27" y2="283.86" stroke="#cc1236" stroke-width="0.6"/>
<line x1="279.00" y1="279.24" x2="279.00" y2="281.82" stroke="#cc1236" stroke-width="0.6"/>
<line x1="277.70" y1="279.24" x2="280.30" y2="279.24" stroke="#cc1236" stroke-width="0.6"/>
<line x1="277.70" y1="281.82" x2="280.30" y2="281.82" stroke="#cc1236" stroke-width="0.6"/>
<line x1="281.82" y1="277.20" x2="281.82" y2="279.78" stroke="#cc1236" stroke-width="0.6"/>
<line x1="280.52" y1="277.20" x2="283.12" y2="277.20" stroke="#cc1236" stroke-width="0.6"/>
<line x1="280.52" y1="279.78" x2="283.12" y2="279.78" stroke="#cc1236" stroke-width="0.6"/>
<path d="M185.10,293.42 L186.71,297.72 L188.32,306.31 L190.42,309.54 L192.76,302.02 L195.09,299.33 L196.79,284.83 L198.80,285.90 L201.22,288.05 L203.64,291.27 L207.67,292.35 L210.89,291.27 L214.12,285.90 L217.34,282.68 L219.76,283.75 L222.42,284.51 L225.40,291.60 L227.01,289.66 L230.24,285.58 L233.46,283.54 L235.47,286.55 L237.49,294.60 L239.59,301.69 L241.20,305.78 L242.57,298.69 L244.58,292.67 L246.60,295.68 L248.61,297.72 L250.71,287.51 L253.69,284.51 L257.64,282.57 L262.80,280.53 L264.81,277.42 L266.83,280.53 L270.94,281.61 L274.97,282.57 L279.00,280.53 L281.82,278.49" stroke="#cc1236" stroke-width="0.8" fill="none" stroke-linejoin="round"/>
<path d="M184.06,292.66 L186.14,292.66 L185.10,294.47 Z" fill="#cc1236"/>
<path d="M185.67,296.96 L187.76,296.96 L186.71,298.76 Z" fill="#cc1236"/>
<path d="M187.28,305.55 L189.37,305.55 L188.32,307.36 Z" fill="#cc1236"/>
<path d="M189.37,308.78 L191.46,308.78 L190.42,310.58 Z" fill="#cc1236"/>
<path d="M191.71,301.26 L193.80,301.26 L192.76,303.06 Z" fill="#cc1236"/>
<path d="M194.05,298.57 L196.14,298.57 L195.09,300.38 Z" fill="#cc1236"/>
<path d="M195.74,284.07 L197.83,284.07 L196.79,285.87 Z" fill="#cc1236"/>
<path d="M197.76,285.14 L199.85,285.14 L198.80,286.95 Z" fill="#cc1236"/>
<path d="M200.18,287.29 L202.26,287.29 L201.22,289.10 Z" fill="#cc1236"/>
<path d="M202.59,290.51 L204.68,290.51 L203.64,292.32 Z" fill="#cc1236"/>
<path d="M206.62,291.59 L208.71,291.59 L207.67,293.39 Z" fill="#cc1236"/>
<path d="M209.85,290.51 L211.94,290.51 L210.89,292.32 Z" fill="#cc1236"/>
<path d="M213.07,285.14 L215.16,285.14 L214.12,286.95 Z" fill="#cc1236"/>
<path d="M216.30,281.92 L218.38,281.92 L217.34,283.73 Z" fill="#cc1236"/>
<path d="M218.71,282.99 L220.80,282.99 L219.76,284.80 Z" fill="#cc1236"/>
<path d="M221.37,283.75 L223.46,283.75 L222.42,285.55 Z" fill="#cc1236"/>
<path d="M224.36,290.84 L226.44,290.84 L225.40,292.64 Z" fill="#cc1236"/>
<path d="M225.97,288.90 L228.06,288.90 L227.01,290.71 Z" fill="#cc1236"/>
<path d="M229.19,284.82 L231.28,284.82 L230.24,286.63 Z" fill="#cc1236"/>
<path d="M232.41,282.78 L234.50,282.78 L233.46,284.58 Z" fill="#cc1236"/>
<path d="M234.43,285.79 L236.52,285.79 L235.47,287.59 Z" fill="#cc1236"/>
<path d="M236.45,293.84 L238.53,293.84 L237.49,295.65 Z" fill="#cc1236"/>
<path d="M238.54,300.93 L240.63,300.93 L239.59,302.74 Z" fill="#cc1236"/>
<path d="M240.15,305.02 L242.24,305.02 L241.20,306.82 Z" fill="#cc1236"/>
<path d="M241.52,297.93 L243.61,297.93 L242.57,299.73 Z" fill="#cc1236"/>
<path d="M243.54,291.91 L245.63,291.91 L244.58,293.72 Z" fill="#cc1236"/>
<path d="M245.55,294.92 L247.64,294.92 L246.60,296.72 Z" fill="#cc1236"/>
<path d="M247.57,296.96 L249.66,296.96 L248.61,298.76 Z" fill="#cc1236"/>
<path d="M249.66,286.75 L251.75,286.75 L250.71,288.56 Z" fill="#cc1236"/>
<path d="M252.65,283.75 L254.74,283.75 L253.69,285.55 Z" fill="#cc1236"/>
<path d="M256.59,281.81 L258.69,281.81 L257.64,283.62 Z" fill="#cc1236"/>
<path d="M261.75,279.77 L263.84,279.77 L262.80,281.58 Z" fill="#cc1236"/>
<path d="M263.77,276.66 L265.86,276.66 L264.81,278.46 Z" fill="#cc1236"/>
<path d="M265.78,279.77 L267.87,279.77 L266.83,281.58 Z" fill="#cc1236"/>
<path d="M269.89,280.85 L271.98,280.85 L270.94,282.65 Z" fill="#cc1236"/>
<path d="M273.92,281.81 L276.01,281.81 L274.97,283.62 Z" fill="#cc1236"/>
<path d="M277.95,279.77 L280.04,279.77 L279.00,281.58 Z" fill="#cc1236"/>
<path d="M280.77,277.73 L282.87,277.73 L281.82,279.54 Z" fill="#cc1236"/>
<line x1="185.10" y1="291.51" x2="185.10" y2="296.24" stroke="#2a5ca0" stroke-width="0.6"/>
<line x1="183.80" y1="291.51" x2="186.40" y2="291.51" stroke="#2a5ca0" stroke-width="0.6"/>
<line x1="183.80" y1="296.24" x2="186.40" y2="296.24" stroke="#2a5ca0" stroke-width="0.6"/>
<line x1="186.71" y1="291.00" x2="186.71" y2="295.73" stroke="#2a5ca0" stroke-width="0.6"/>
<line x1="185.41" y1="291.00" x2="188.01" y2="291.00" stroke="#2a5ca0" stroke-width="0.6"/>
<line x1="185.41" y1="295.73" x2="188.01" y2="295.73" stroke="#2a5ca0" stroke-width="0.6"/>
<line x1="188.32" y1="290.59" x2="188.32" y2="295.32" stroke="#2a5ca0" stroke-width="0.6"/>
<line x1="187.02" y1="290.59" x2="189.62" y2="290.59" stroke="#2a5ca0" stroke-width="0.6"/>
<line x1="187.02" y1="295.32" x2="189.62" y2="295.32" stroke="#2a5ca0" stroke-width="0.6"/>
<line x1="189.94" y1="283.50" x2="189.94" y2="288.23" stroke="#2a5ca0" stroke-width="0.6"/>
<line x1="188.64" y1="283.50" x2="191.24" y2="283.50" stroke="#2a5ca0" stroke-width="0.6"/>
<line x1="188.64" y1="288.23" x2="191.24" y2="288.23" stroke="#2a5ca0" stroke-width="0.6"/>
<line x1="191.55" y1="278.98" x2="191.55" y2="283.71" stroke="#2a5ca0" stroke-width="0.6"/>
<line x1="190.25" y1="278.98" x2="192.85" y2="278.98" stroke="#2a5ca0" stroke-width="0.6"/>
<line x1="190.25" y1="283.71" x2="192.85" y2="283.71" stroke="#2a5ca0" stroke-width="0.6"/>
<line x1="193.16" y1="277.70" x2="193.16" y2="282.43" stroke="#2a5ca0" stroke-width="0.6"/>
<line x1="191.86" y1="277.70" x2="194.46" y2="277.70" stroke="#2a5ca0" stroke-width="0.6"/>
<line x1="191.86" y1="282.43" x2="194.46" y2="282.43" stroke="#2a5ca0" stroke-width="0.6"/>
<line x1="194.77" y1="277.20" x2="194.77" y2="281.93" stroke="#2a5ca0" stroke-width="0.6"/>
<line x1="193.47" y1="277.20" x2="196.07" y2="277.20" stroke="#2a5ca0" stroke-width="0.6"/>
<line x1="193.47" y1="281.93" x2="196.07" y2="281.93" stroke="#2a5ca0" stroke-width="0.6"/>
<line x1="197.19" y1="276.69" x2="197.19" y2="281.41" stroke="#2a5ca0" stroke-width="0.6"/>
<line x1="195.89" y1="276.69" x2="198.49" y2="276.69" stroke="#2a5ca0" stroke-width="0.6"/>
<line x1="195.89" y1="281.41" x2="198.49" y2="281.41" stroke="#2a5ca0" stroke-width="0.6"/>
<line x1="199.61" y1="276.19" x2="199.61" y2="280.92" stroke="#2a5ca0" stroke-width="0.6"/>
<line x1="198.31" y1="276.19" x2="200.91" y2="276.19" stroke="#2a5ca0" stroke-width="0.6"/>
<line x1="198.31" y1="280.92" x2="200.91" y2="280.92" stroke="#2a5ca0" stroke-width="0.6"/>
<line x1="202.03" y1="277.17" x2="202.03" y2="281.89" stroke="#2a5ca0" stroke-width="0.6"/>
<line x1="200.73" y1="277.17" x2="203.33" y2="277.17" stroke="#2a5ca0" stroke-width="0.6"/>
<line x1="200.73" y1="281.89" x2="203.33" y2="281.89" stroke="#2a5ca0" stroke-width="0.6"/>
<line x1="204.44" y1="277.28" x2="204.44" y2="282.01" stroke="#2a5ca0" stroke-width="0.6"/>
<line x1="203.14" y1="277.28" x2="205.74" y2="277.28" stroke="#2a5ca0" stroke-width="0.6"/>
<line x1="203.14" y1="282.01" x2="205.74" y2="282.01" stroke="#2a5ca0" stroke-width="0.6"/>
<line x1="206.86" y1="278.13" x2="206.86" y2="282.85" stroke="#2a5ca0" stroke-width="0.6"/>
<line x1="205.56" y1="278.13" x2="208.16" y2="278.13" stroke="#2a5ca0" stroke-width="0.6"/>
<line x1="205.56" y1="282.85" x2="208.16" y2="282.85" stroke="#2a5ca0" stroke-width="0.6"/>
<line x1="209.28" y1="277.45" x2="209.28" y2="282.18" stroke="#2a5ca0" stroke-width="0.6"/>
<line x1="207.98" y1="277.45" x2="210.58" y2="277.45" stroke="#2a5ca0" stroke-width="0.6"/>
<line x1="207.98" y1="282.18" x2="210.58" y2="282.18" stroke="#2a5ca0" stroke-width="0.6"/>
<line x1="211.70" y1="277.31" x2="211.70" y2="282.04" stroke="#2a5ca0" stroke-width="0.6"/>
<line x1="210.40" y1="277.31" x2="213.00" y2="277.31" stroke="#2a5ca0" stroke-width="0.6"/>
<line x1="210.40" y1="282.04" x2="213.00" y2="282.04" stroke="#2a5ca0" stroke-width="0.6"/>
<line x1="214.12" y1="277.45" x2="214.12" y2="282.18" stroke="#2a5ca0" stroke-width="0.6"/>
<line x1="212.82" y1="277.45" x2="215.42" y2="277.45" stroke="#2a5ca0" stroke-width="0.6"/>
<line x1="212.82" y1="282.18" x2="215.42" y2="282.18" stroke="#2a5ca0" stroke-width="0.6"/>
<line x1="216.53" y1="275.89" x2="216.53" y2="280.61" stroke="#2a5ca0" stroke-width="0.6"/>
<line x1="215.23" y1="275.89" x2="217.83" y2="275.89" stroke="#2a5ca0" stroke-width="0.6"/>
<line x1="215.23" y1="280.61" x2="217.83" y2="280.61" stroke="#2a5ca0" stroke-width="0.6"/>
<line x1="218.95" y1="273.96" x2="218.95" y2="278.69" stroke="#2a5ca0" stroke-width="0.6"/>
<line x1="217.65" y1="273.96" x2="220.25" y2="273.96" stroke="#2a5ca0" stroke-width="0.6"/>
<line x1="217.65" y1="278.69" x2="220.25" y2="278.69" stroke="#2a5ca0" stroke-width="0.6"/>
<line x1="221.37" y1="271.99" x2="221.37" y2="276.71" stroke="#2a5ca0" stroke-width="0.6"/>
<line x1="220.07" y1="271.99" x2="222.67" y2="271.99" stroke="#2a5ca0" stroke-width="0.6"/>
<line x1="220.07" y1="276.71" x2="222.67" y2="276.71" stroke="#2a5ca0" stroke-width="0.6"/>
<line x1="223.79" y1="271.33" x2="223.79" y2="276.06" stroke="#2a5ca0" stroke-width="0.6"/>
<line x1="222.49" y1="271.33" x2="225.09" y2="271.33" stroke="#2a5ca0" stroke-width="0.6"/>
<line x1="222.49" y1="276.06" x2="225.09" y2="276.06" stroke="#2a5ca0" stroke-width="0.6"/>
<line x1="226.21" y1="271.04" x2="226.21" y2="275.77" stroke="#2a5ca0" stroke-width="0.6"/>
<line x1="224.91" y1="271.04" x2="227.51" y2="271.04" stroke="#2a5ca0" stroke-width="0.6"/>
<line x1="224.91" y1="275.77" x2="227.51" y2="275.77" stroke="#2a5ca0" stroke-width="0.6"/>
<line x1="228.62" y1="270.34" x2="228.62" y2="275.07" stroke="#2a5ca0" stroke-width="0.6"/>
<line x1="227.32" y1="270.34" x2="229.92" y2="270.34" stroke="#2a5ca0" stroke-width="0.6"/>
<line x1="227.32" y1="275.07" x2="229.92" y2="275.07" stroke="#2a5ca0" stroke-width="0.6"/>
<line x1="231.04" y1="271.00" x2="231.04" y2="275.73" stroke="#2a5ca0" stroke-width="0.6"/>
<line x1="229.74" y1="271.00" x2="232.34" y2="271.00" stroke="#2a5ca0" stroke-width="0.6"/>
<line x1="229.74" y1="275.73" x2="232.34" y2="275.73" stroke="#2a5ca0" stroke-width="0.6"/>
<line x1="233.46" y1="270.63" x2="233.46" y2="275.35" stroke="#2a5ca0" stroke-width="0.6"/>
<line x1="232.16" y1="270.63" x2="234.76" y2="270.63" stroke="#2a5ca0" stroke-width="0.6"/>
<line x1="232.16" y1="275.35" x2="234.76" y2="275.35" stroke="#2a5ca0" stroke-width="0.6"/>
<line x1="235.88" y1="270.84" x2="235.88" y2="275.56" stroke="#2a5ca0" stroke-width="0.6"/>
<line x1="234.58" y1="270.84" x2="237.18" y2="270.84" stroke="#2a5ca0" stroke-width="0.6"/>
<line x1="234.58" y1="275.56" x2="237.18" y2="275.56" stroke="#2a5ca0" stroke-width="0.6"/>
<line x1="238.30" y1="271.26" x2="238.30" y2="275.98" stroke="#2a5ca0" stroke-width="0.6"/>
<line x1="237.00" y1="271.26" x2="239.60" y2="271.26" stroke="#2a5ca0" stroke-width="0.6"/>
<line x1="237.00" y1="275.98" x2="239.60" y2="275.98" stroke="#2a5ca0" stroke-width="0.6"/>
<line x1="240.71" y1="272.06" x2="240.71" y2="276.79" stroke="#2a5ca0" stroke-width="0.6"/>
<line x1="239.41" y1="272.06" x2="242.01" y2="272.06" stroke="#2a5ca0" stroke-width="0.6"/>
<line x1="239.41" y1="276.79" x2="242.01" y2="276.79" stroke="#2a5ca0" stroke-width="0.6"/>
<line x1="243.13" y1="272.01" x2="243.13" y2="276.73" stroke="#2a5ca0" stroke-width="0.6"/>
<line x1="241.83" y1="272.01" x2="244.43" y2="272.01" stroke="#2a5ca0" stroke-width="0.6"/>
<line x1="241.83" y1="276.73" x2="244.43" y2="276.73" stroke="#2a5ca0" stroke-width="0.6"/>
<line x1="245.55" y1="272.03" x2="245.55" y2="276.76" stroke="#2a5ca0" stroke-width="0.6"/>
<line x1="244.25" y1="272.03" x2="246.85" y2="272.03" stroke="#2a5ca0" stroke-width="0.6"/>
<line x1="244.25" y1="276.76" x2="246.85" y2="276.76" stroke="#2a5ca0" stroke-width="0.6"/>
<line x1="247.97" y1="271.48" x2="247.97" y2="276.20" stroke="#2a5ca0" stroke-width="0.6"/>
<line x1="246.67" y1="271.48" x2="249.27" y2="271.48" stroke="#2a5ca0" stroke-width="0.6"/>
<line x1="246.67" y1="276.20" x2="249.27" y2="276.20" stroke="#2a5ca0" stroke-width="0.6"/>
<line x1="250.39" y1="271.40" x2="250.39" y2="276.13" stroke="#2a5ca0" stroke-width="0.6"/>
<line x1="249.09" y1="271.40" x2="251.69" y2="271.40" stroke="#2a5ca0" stroke-width="0.6"/>
<line x1="249.09" y1="276.13" x2="251.69" y2="276.13" stroke="#2a5ca0" stroke-width="0.6"/>
<line x1="252.80" y1="272.87" x2="252.80" y2="277.59" stroke="#2a5ca0" stroke-width="0.6"/>
<line x1="251.50" y1="272.87" x2="254.10" y2="272.87" stroke="#2a5ca0" stroke-width="0.6"/>
<line x1="251.50" y1="277.59" x2="254.10" y2="277.59" stroke="#2a5ca0" stroke-width="0.6"/>
<line x1="255.22" y1="273.31" x2="255.22" y2="278.04" stroke="#2a5ca0" stroke-width="0.6"/>
<line x1="253.92" y1="273.31" x2="256.52" y2="273.31" stroke="#2a5ca0" stroke-width="0.6"/>
<line x1="253.92" y1="278.04" x2="256.52" y2="278.04" stroke="#2a5ca0" stroke-width="0.6"/>
<line x1="257.64" y1="273.24" x2="257.64" y2="277.97" stroke="#2a5ca0" stroke-width="0.6"/>
<line x1="256.34" y1="273.24" x2="258.94" y2="273.24" stroke="#2a5ca0" stroke-width="0.6"/>
<line x1="256.34" y1="277.97" x2="258.94" y2="277.97" stroke="#2a5ca0" stroke-width="0.6"/>
<line x1="260.06" y1="272.57" x2="260.06" y2="277.30" stroke="#2a5ca0" stroke-width="0.6"/>
<line x1="258.76" y1="272.57" x2="261.36" y2="272.57" stroke="#2a5ca0" stroke-width="0.6"/>
<line x1="258.76" y1="277.30" x2="261.36" y2="277.30" stroke="#2a5ca0" stroke-width="0.6"/>
<line x1="262.48" y1="270.47" x2="262.48" y2="275.19" stroke="#2a5ca0" stroke-width="0.6"/>
<line x1="261.18" y1="270.47" x2="263.78" y2="270.47" stroke="#2a5ca0" stroke-width="0.6"/>
<line x1="261.18" y1="275.19" x2="263.78" y2="275.19" stroke="#2a5ca0" stroke-width="0.6"/>
<line x1="264.89" y1="268.32" x2="264.89" y2="273.05" stroke="#2a5ca0" stroke-width="0.6"/>
<line x1="263.59" y1="268.32" x2="266.19" y2="268.32" stroke="#2a5ca0" stroke-width="0.6"/>
<line x1="263.59" y1="273.05" x2="266.19" y2="273.05" stroke="#2a5ca0" stroke-width="0.6"/>
<line x1="267.31" y1="265.63" x2="267.31" y2="270.36" stroke="#2a5ca0" stroke-width="0.6"/>
<line x1="266.01" y1="265.63" x2="268.61" y2="265.63" stroke="#2a5ca0" stroke-width="0.6"/>
<line x1="266.01" y1="270.36" x2="268.61" y2="270.36" stroke="#2a5ca0" stroke-width="0.6"/>
<line x1="269.73" y1="265.67" x2="269.73" y2="270.40" stroke="#2a5ca0" stroke-width="0.6"/>
<line x1="268.43" y1="265.67" x2="271.03" y2="265.67" stroke="#2a5ca0" stroke-width="0.6"/>
<line x1="268.43" y1="270.40" x2="271.03" y2="270.40" stroke="#2a5ca0" stroke-width="0.6"/>
<line x1="272.15" y1="265.66" x2="272.15" y2="270.39" stroke="#2a5ca0" stroke-width="0.6"/>
<line x1="270.85" y1="265.66" x2="273.45" y2="265.66" stroke="#2a5ca0" stroke-width="0.6"/>
<line x1="270.85" y1="270.39" x2="273.45" y2="270.39" stroke="#2a5ca0" stroke-width="0.6"/>
<line x1="274.57" y1="265.01" x2="274.57" y2="269.74" stroke="#2a5ca0" stroke-width="0.6"/>
<line x1="273.27" y1="265.01" x2="275.87" y2="265.01" stroke="#2a5ca0" stroke-width="0.6"/>
<line x1="273.27" y1="269.74" x2="275.87" y2="269.74" stroke="#2a5ca0" stroke-width="0.6"/>
<line x1="276.98" y1="264.33" x2="276.98" y2="269.06" stroke="#2a5ca0" stroke-width="0.6"/>
<line x1="275.68" y1="264.33" x2="278.28" y2="264.33" stroke="#2a5ca0" stroke-width="0.6"/>
<line x1="275.68" y1="269.06" x2="278.28" y2="269.06" stroke="#2a5ca0" stroke-width="0.6"/>
<line x1="279.40" y1="264.95" x2="279.40" y2="269.67" stroke="#2a5ca0" stroke-width="0.6"/>
<line x1="278.10" y1="264.95" x2="280.70" y2="264.95" stroke="#2a5ca0" stroke-width="0.6"/>
<line x1="278.10" y1="269.67" x2="280.70" y2="269.67" stroke="#2a5ca0" stroke-width="0.6"/>
<line x1="281.82" y1="266.38" x2="281.82" y2="271.11" stroke="#2a5ca0" stroke-width="0.6"/>
<line x1="280.52" y1="266.38" x2="283.12" y2="266.38" stroke="#2a5ca0" stroke-width="0.6"/>
<line x1="280.52" y1="271.11" x2="283.12" y2="271.11" stroke="#2a5ca0" stroke-width="0.6"/>
<path d="M185.10,293.88 L186.71,293.37 L188.32,292.96 L189.94,285.87 L191.55,281.35 L193.16,280.06 L194.77,279.56 L197.19,279.05 L199.61,278.56 L202.03,279.53 L204.44,279.64 L206.86,280.49 L209.28,279.81 L211.70,279.68 L214.12,279.81 L216.53,278.25 L218.95,276.33 L221.37,274.35 L223.79,273.69 L226.21,273.41 L228.62,272.70 L231.04,273.36 L233.46,272.99 L235.88,273.20 L238.30,273.62 L240.71,274.43 L243.13,274.37 L245.55,274.40 L247.97,273.84 L250.39,273.77 L252.80,275.23 L255.22,275.67 L257.64,275.61 L260.06,274.93 L262.48,272.83 L264.89,270.69 L267.31,267.99 L269.73,268.03 L272.15,268.02 L274.57,267.37 L276.98,266.70 L279.40,267.31 L281.82,268.74" stroke="#2a5ca0" stroke-width="0.8" fill="none" stroke-linejoin="round"/>
<circle cx="185.10" cy="293.88" r="0.95" fill="white" stroke="#2a5ca0" stroke-width="0.5"/>
<circle cx="186.71" cy="293.37" r="0.95" fill="white" stroke="#2a5ca0" stroke-width="0.5"/>
<circle cx="188.32" cy="292.96" r="0.95" fill="white" stroke="#2a5ca0" stroke-width="0.5"/>
<circle cx="189.94" cy="285.87" r="0.95" fill="white" stroke="#2a5ca0" stroke-width="0.5"/>
<circle cx="191.55" cy="281.35" r="0.95" fill="white" stroke="#2a5ca0" stroke-width="0.5"/>
<circle cx="193.16" cy="280.06" r="0.95" fill="white" stroke="#2a5ca0" stroke-width="0.5"/>
<circle cx="194.77" cy="279.56" r="0.95" fill="white" stroke="#2a5ca0" stroke-width="0.5"/>
<circle cx="197.19" cy="279.05" r="0.95" fill="white" stroke="#2a5ca0" stroke-width="0.5"/>
<circle cx="199.61" cy="278.56" r="0.95" fill="white" stroke="#2a5ca0" stroke-width="0.5"/>
<circle cx="202.03" cy="279.53" r="0.95" fill="white" stroke="#2a5ca0" stroke-width="0.5"/>
<circle cx="204.44" cy="279.64" r="0.95" fill="white" stroke="#2a5ca0" stroke-width="0.5"/>
<circle cx="206.86" cy="280.49" r="0.95" fill="white" stroke="#2a5ca0" stroke-width="0.5"/>
<circle cx="209.28" cy="279.81" r="0.95" fill="white" stroke="#2a5ca0" stroke-width="0.5"/>
<circle cx="211.70" cy="279.68" r="0.95" fill="white" stroke="#2a5ca0" stroke-width="0.5"/>
<circle cx="214.12" cy="279.81" r="0.95" fill="white" stroke="#2a5ca0" stroke-width="0.5"/>
<circle cx="216.53" cy="278.25" r="0.95" fill="white" stroke="#2a5ca0" stroke-width="0.5"/>
<circle cx="218.95" cy="276.33" r="0.95" fill="white" stroke="#2a5ca0" stroke-width="0.5"/>
<circle cx="221.37" cy="274.35" r="0.95" fill="white" stroke="#2a5ca0" stroke-width="0.5"/>
<circle cx="223.79" cy="273.69" r="0.95" fill="white" stroke="#2a5ca0" stroke-width="0.5"/>
<circle cx="226.21" cy="273.41" r="0.95" fill="white" stroke="#2a5ca0" stroke-width="0.5"/>
<circle cx="228.62" cy="272.70" r="0.95" fill="white" stroke="#2a5ca0" stroke-width="0.5"/>
<circle cx="231.04" cy="273.36" r="0.95" fill="white" stroke="#2a5ca0" stroke-width="0.5"/>
<circle cx="233.46" cy="272.99" r="0.95" fill="white" stroke="#2a5ca0" stroke-width="0.5"/>
<circle cx="235.88" cy="273.20" r="0.95" fill="white" stroke="#2a5ca0" stroke-width="0.5"/>
<circle cx="238.30" cy="273.62" r="0.95" fill="white" stroke="#2a5ca0" stroke-width="0.5"/>
<circle cx="240.71" cy="274.43" r="0.95" fill="white" stroke="#2a5ca0" stroke-width="0.5"/>
<circle cx="243.13" cy="274.37" r="0.95" fill="white" stroke="#2a5ca0" stroke-width="0.5"/>
<circle cx="245.55" cy="274.40" r="0.95" fill="white" stroke="#2a5ca0" stroke-width="0.5"/>
<circle cx="247.97" cy="273.84" r="0.95" fill="white" stroke="#2a5ca0" stroke-width="0.5"/>
<circle cx="250.39" cy="273.77" r="0.95" fill="white" stroke="#2a5ca0" stroke-width="0.5"/>
<circle cx="252.80" cy="275.23" r="0.95" fill="white" stroke="#2a5ca0" stroke-width="0.5"/>
<circle cx="255.22" cy="275.67" r="0.95" fill="white" stroke="#2a5ca0" stroke-width="0.5"/>
<circle cx="257.64" cy="275.61" r="0.95" fill="white" stroke="#2a5ca0" stroke-width="0.5"/>
<circle cx="260.06" cy="274.93" r="0.95" fill="white" stroke="#2a5ca0" stroke-width="0.5"/>
<circle cx="262.48" cy="272.83" r="0.95" fill="white" stroke="#2a5ca0" stroke-width="0.5"/>
<circle cx="264.89" cy="270.69" r="0.95" fill="white" stroke="#2a5ca0" stroke-width="0.5"/>
<circle cx="267.31" cy="267.99" r="0.95" fill="white" stroke="#2a5ca0" stroke-width="0.5"/>
<circle cx="269.73" cy="268.03" r="0.95" fill="white" stroke="#2a5ca0" stroke-width="0.5"/>
<circle cx="272.15" cy="268.02" r="0.95" fill="white" stroke="#2a5ca0" stroke-width="0.5"/>
<circle cx="274.57" cy="267.37" r="0.95" fill="white" stroke="#2a5ca0" stroke-width="0.5"/>
<circle cx="276.98" cy="266.70" r="0.95" fill="white" stroke="#2a5ca0" stroke-width="0.5"/>
<circle cx="279.40" cy="267.31" r="0.95" fill="white" stroke="#2a5ca0" stroke-width="0.5"/>
<circle cx="281.82" cy="268.74" r="0.95" fill="white" stroke="#2a5ca0" stroke-width="0.5"/>
<line x1="185.10" y1="290.74" x2="185.10" y2="296.11" stroke="#4f2170" stroke-width="0.6"/>
<line x1="183.80" y1="290.74" x2="186.40" y2="290.74" stroke="#4f2170" stroke-width="0.6"/>
<line x1="183.80" y1="296.11" x2="186.40" y2="296.11" stroke="#4f2170" stroke-width="0.6"/>
<line x1="187.11" y1="299.33" x2="187.11" y2="304.70" stroke="#4f2170" stroke-width="0.6"/>
<line x1="185.81" y1="299.33" x2="188.41" y2="299.33" stroke="#4f2170" stroke-width="0.6"/>
<line x1="185.81" y1="304.70" x2="188.41" y2="304.70" stroke="#4f2170" stroke-width="0.6"/>
<line x1="189.13" y1="304.27" x2="189.13" y2="309.64" stroke="#4f2170" stroke-width="0.6"/>
<line x1="187.83" y1="304.27" x2="190.43" y2="304.27" stroke="#4f2170" stroke-width="0.6"/>
<line x1="187.83" y1="309.64" x2="190.43" y2="309.64" stroke="#4f2170" stroke-width="0.6"/>
<line x1="191.95" y1="309.00" x2="191.95" y2="314.37" stroke="#4f2170" stroke-width="0.6"/>
<line x1="190.65" y1="309.00" x2="193.25" y2="309.00" stroke="#4f2170" stroke-width="0.6"/>
<line x1="190.65" y1="314.37" x2="193.25" y2="314.37" stroke="#4f2170" stroke-width="0.6"/>
<line x1="195.42" y1="296.64" x2="195.42" y2="302.02" stroke="#4f2170" stroke-width="0.6"/>
<line x1="194.12" y1="296.64" x2="196.72" y2="296.64" stroke="#4f2170" stroke-width="0.6"/>
<line x1="194.12" y1="302.02" x2="196.72" y2="302.02" stroke="#4f2170" stroke-width="0.6"/>
<line x1="197.67" y1="295.68" x2="197.67" y2="301.05" stroke="#4f2170" stroke-width="0.6"/>
<line x1="196.37" y1="295.68" x2="198.97" y2="295.68" stroke="#4f2170" stroke-width="0.6"/>
<line x1="196.37" y1="301.05" x2="198.97" y2="301.05" stroke="#4f2170" stroke-width="0.6"/>
<line x1="200.01" y1="298.79" x2="200.01" y2="304.16" stroke="#4f2170" stroke-width="0.6"/>
<line x1="198.71" y1="298.79" x2="201.31" y2="298.79" stroke="#4f2170" stroke-width="0.6"/>
<line x1="198.71" y1="304.16" x2="201.31" y2="304.16" stroke="#4f2170" stroke-width="0.6"/>
<line x1="202.35" y1="305.78" x2="202.35" y2="311.15" stroke="#4f2170" stroke-width="0.6"/>
<line x1="201.05" y1="305.78" x2="203.65" y2="305.78" stroke="#4f2170" stroke-width="0.6"/>
<line x1="201.05" y1="311.15" x2="203.65" y2="311.15" stroke="#4f2170" stroke-width="0.6"/>
<line x1="204.69" y1="308.46" x2="204.69" y2="313.83" stroke="#4f2170" stroke-width="0.6"/>
<line x1="203.39" y1="308.46" x2="205.99" y2="308.46" stroke="#4f2170" stroke-width="0.6"/>
<line x1="203.39" y1="313.83" x2="205.99" y2="313.83" stroke="#4f2170" stroke-width="0.6"/>
<line x1="206.94" y1="307.06" x2="206.94" y2="323.18" stroke="#4f2170" stroke-width="0.6"/>
<line x1="205.64" y1="307.06" x2="208.24" y2="307.06" stroke="#4f2170" stroke-width="0.6"/>
<line x1="205.64" y1="323.18" x2="208.24" y2="323.18" stroke="#4f2170" stroke-width="0.6"/>
<path d="M185.10,293.42 L187.11,302.02 L189.13,306.96 L191.95,311.68 L195.42,299.33 L197.67,298.36 L200.01,301.48 L202.35,308.46 L204.69,311.15 L206.94,315.12" stroke="#4f2170" stroke-width="0.8" fill="none" stroke-linejoin="round"/>
<circle cx="185.10" cy="293.42" r="0.95" fill="#4f2170"/>
<circle cx="187.11" cy="302.02" r="0.95" fill="#4f2170"/>
<circle cx="189.13" cy="306.96" r="0.95" fill="#4f2170"/>
<circle cx="191.95" cy="311.68" r="0.95" fill="#4f2170"/>
<circle cx="195.42" cy="299.33" r="0.95" fill="#4f2170"/>
<circle cx="197.67" cy="298.36" r="0.95" fill="#4f2170"/>
<circle cx="200.01" cy="301.48" r="0.95" fill="#4f2170"/>
<circle cx="202.35" cy="308.46" r="0.95" fill="#4f2170"/>
<circle cx="204.69" cy="311.15" r="0.95" fill="#4f2170"/>
<circle cx="206.94" cy="315.12" r="0.95" fill="#4f2170"/>
<line x1="185.10" y1="257.00" x2="185.10" y2="323.95" stroke="#222" stroke-width="0.95"/>
<line x1="182.10" y1="323.50" x2="185.10" y2="323.50" stroke="#222" stroke-width="0.8"/>
<text x="180.50" y="325.75" font-size="6.3" text-anchor="end" fill="#3a3a3a" textLength="6.3" lengthAdjust="spacingAndGlyphs" stroke="#3a3a3a" stroke-width="0.08">60</text>
<line x1="182.10" y1="312.76" x2="185.10" y2="312.76" stroke="#222" stroke-width="0.8"/>
<text x="180.50" y="315.01" font-size="6.3" text-anchor="end" fill="#3a3a3a" textLength="6.3" lengthAdjust="spacingAndGlyphs" stroke="#3a3a3a" stroke-width="0.08">70</text>
<line x1="182.10" y1="302.02" x2="185.10" y2="302.02" stroke="#222" stroke-width="0.8"/>
<text x="180.50" y="304.27" font-size="6.3" text-anchor="end" fill="#3a3a3a" textLength="6.3" lengthAdjust="spacingAndGlyphs" stroke="#3a3a3a" stroke-width="0.08">80</text>
<line x1="182.10" y1="291.27" x2="185.10" y2="291.27" stroke="#222" stroke-width="0.8"/>
<text x="180.50" y="293.52" font-size="6.3" text-anchor="end" fill="#3a3a3a" textLength="6.3" lengthAdjust="spacingAndGlyphs" stroke="#3a3a3a" stroke-width="0.08">90</text>
<line x1="182.10" y1="280.53" x2="185.10" y2="280.53" stroke="#222" stroke-width="0.8"/>
<text x="180.50" y="282.78" font-size="6.3" text-anchor="end" fill="#3a3a3a" textLength="9.45" lengthAdjust="spacingAndGlyphs" stroke="#3a3a3a" stroke-width="0.08">100</text>
<line x1="182.10" y1="269.79" x2="185.10" y2="269.79" stroke="#222" stroke-width="0.8"/>
<text x="180.50" y="272.04" font-size="6.3" text-anchor="end" fill="#3a3a3a" textLength="9.45" lengthAdjust="spacingAndGlyphs" stroke="#3a3a3a" stroke-width="0.08">110</text>
<line x1="182.10" y1="259.05" x2="185.10" y2="259.05" stroke="#222" stroke-width="0.8"/>
<text x="180.50" y="261.30" font-size="6.3" text-anchor="end" fill="#3a3a3a" textLength="9.45" lengthAdjust="spacingAndGlyphs" stroke="#3a3a3a" stroke-width="0.08">120</text>
<line x1="184.65" y1="323.50" x2="283.50" y2="323.50" stroke="#222" stroke-width="0.95"/>
<line x1="185.10" y1="323.50" x2="185.10" y2="326.50" stroke="#222" stroke-width="0.8"/>
<text x="185.10" y="335.00" font-size="6.3" text-anchor="middle" fill="#3a3a3a" textLength="3.15" lengthAdjust="spacingAndGlyphs" stroke="#3a3a3a" stroke-width="0.08">0</text>
<line x1="209.28" y1="323.50" x2="209.28" y2="326.50" stroke="#222" stroke-width="0.8"/>
<text x="209.28" y="335.00" font-size="6.3" text-anchor="middle" fill="#3a3a3a" textLength="6.3" lengthAdjust="spacingAndGlyphs" stroke="#3a3a3a" stroke-width="0.08">30</text>
<line x1="233.46" y1="323.50" x2="233.46" y2="326.50" stroke="#222" stroke-width="0.8"/>
<text x="233.46" y="335.00" font-size="6.3" text-anchor="middle" fill="#3a3a3a" textLength="6.3" lengthAdjust="spacingAndGlyphs" stroke="#3a3a3a" stroke-width="0.08">60</text>
<line x1="257.64" y1="323.50" x2="257.64" y2="326.50" stroke="#222" stroke-width="0.8"/>
<text x="257.64" y="335.00" font-size="6.3" text-anchor="middle" fill="#3a3a3a" textLength="6.3" lengthAdjust="spacingAndGlyphs" stroke="#3a3a3a" stroke-width="0.08">90</text>
<line x1="281.82" y1="323.50" x2="281.82" y2="326.50" stroke="#222" stroke-width="0.8"/>
<text x="281.82" y="335.00" font-size="6.3" text-anchor="middle" fill="#3a3a3a" textLength="9.45" lengthAdjust="spacingAndGlyphs" stroke="#3a3a3a" stroke-width="0.08">120</text>
<text x="162.60" y="290.40" font-size="7.6" text-anchor="middle" fill="#3a3a3a" textLength="56.2" lengthAdjust="spacingAndGlyphs" transform="rotate(-90 162.60 290.40)" stroke="#3a3a3a" stroke-width="0.18">% Baseline weight</text>
<text x="235.40" y="346.00" font-size="8.0" text-anchor="middle" fill="#3a3a3a" textLength="62.4" lengthAdjust="spacingAndGlyphs" stroke="#3a3a3a" stroke-width="0.18">Days post-transplant</text>
<text x="374.60" y="251.00" font-size="8.8" text-anchor="middle" fill="#3a3a3a" textLength="52" lengthAdjust="spacingAndGlyphs" stroke="#3a3a3a" stroke-width="0.18">Clinical score</text>
<line x1="325.00" y1="298.30" x2="325.00" y2="304.77" stroke="#cfcfcf" stroke-width="0.6"/>
<line x1="323.70" y1="298.30" x2="326.30" y2="298.30" stroke="#cfcfcf" stroke-width="0.6"/>
<line x1="323.70" y1="304.77" x2="326.30" y2="304.77" stroke="#cfcfcf" stroke-width="0.6"/>
<line x1="327.39" y1="286.44" x2="327.39" y2="292.91" stroke="#cfcfcf" stroke-width="0.6"/>
<line x1="326.09" y1="286.44" x2="328.69" y2="286.44" stroke="#cfcfcf" stroke-width="0.6"/>
<line x1="326.09" y1="292.91" x2="328.69" y2="292.91" stroke="#cfcfcf" stroke-width="0.6"/>
<line x1="329.79" y1="291.83" x2="329.79" y2="298.30" stroke="#cfcfcf" stroke-width="0.6"/>
<line x1="328.49" y1="291.83" x2="331.09" y2="291.83" stroke="#cfcfcf" stroke-width="0.6"/>
<line x1="328.49" y1="298.30" x2="331.09" y2="298.30" stroke="#cfcfcf" stroke-width="0.6"/>
<line x1="332.19" y1="296.14" x2="332.19" y2="302.61" stroke="#cfcfcf" stroke-width="0.6"/>
<line x1="330.88" y1="296.14" x2="333.49" y2="296.14" stroke="#cfcfcf" stroke-width="0.6"/>
<line x1="330.88" y1="302.61" x2="333.49" y2="302.61" stroke="#cfcfcf" stroke-width="0.6"/>
<line x1="334.58" y1="300.45" x2="334.58" y2="306.93" stroke="#cfcfcf" stroke-width="0.6"/>
<line x1="333.28" y1="300.45" x2="335.88" y2="300.45" stroke="#cfcfcf" stroke-width="0.6"/>
<line x1="333.28" y1="306.93" x2="335.88" y2="306.93" stroke="#cfcfcf" stroke-width="0.6"/>
<line x1="336.98" y1="303.69" x2="336.98" y2="310.16" stroke="#cfcfcf" stroke-width="0.6"/>
<line x1="335.68" y1="303.69" x2="338.28" y2="303.69" stroke="#cfcfcf" stroke-width="0.6"/>
<line x1="335.68" y1="310.16" x2="338.28" y2="310.16" stroke="#cfcfcf" stroke-width="0.6"/>
<line x1="339.37" y1="302.61" x2="339.37" y2="309.08" stroke="#cfcfcf" stroke-width="0.6"/>
<line x1="338.07" y1="302.61" x2="340.67" y2="302.61" stroke="#cfcfcf" stroke-width="0.6"/>
<line x1="338.07" y1="309.08" x2="340.67" y2="309.08" stroke="#cfcfcf" stroke-width="0.6"/>
<line x1="341.76" y1="296.14" x2="341.76" y2="302.61" stroke="#cfcfcf" stroke-width="0.6"/>
<line x1="340.46" y1="296.14" x2="343.06" y2="296.14" stroke="#cfcfcf" stroke-width="0.6"/>
<line x1="340.46" y1="302.61" x2="343.06" y2="302.61" stroke="#cfcfcf" stroke-width="0.6"/>
<line x1="344.16" y1="281.05" x2="344.16" y2="302.61" stroke="#cfcfcf" stroke-width="0.6"/>
<line x1="342.86" y1="281.05" x2="345.46" y2="281.05" stroke="#cfcfcf" stroke-width="0.6"/>
<line x1="342.86" y1="302.61" x2="345.46" y2="302.61" stroke="#cfcfcf" stroke-width="0.6"/>
<line x1="346.56" y1="279.97" x2="346.56" y2="301.53" stroke="#cfcfcf" stroke-width="0.6"/>
<line x1="345.25" y1="279.97" x2="347.86" y2="279.97" stroke="#cfcfcf" stroke-width="0.6"/>
<line x1="345.25" y1="301.53" x2="347.86" y2="301.53" stroke="#cfcfcf" stroke-width="0.6"/>
<line x1="348.95" y1="279.97" x2="348.95" y2="301.53" stroke="#cfcfcf" stroke-width="0.6"/>
<line x1="347.65" y1="279.97" x2="350.25" y2="279.97" stroke="#cfcfcf" stroke-width="0.6"/>
<line x1="347.65" y1="301.53" x2="350.25" y2="301.53" stroke="#cfcfcf" stroke-width="0.6"/>
<line x1="351.35" y1="279.97" x2="351.35" y2="301.53" stroke="#cfcfcf" stroke-width="0.6"/>
<line x1="350.05" y1="279.97" x2="352.65" y2="279.97" stroke="#cfcfcf" stroke-width="0.6"/>
<line x1="350.05" y1="301.53" x2="352.65" y2="301.53" stroke="#cfcfcf" stroke-width="0.6"/>
<path d="M325.00,301.53 L327.39,289.67 L329.79,295.06 L332.19,299.38 L334.58,303.69 L336.98,306.93 L339.37,305.85 L341.76,299.38 L344.16,291.83 L346.56,290.75 L348.95,290.75 L351.35,290.75" stroke="#cfcfcf" stroke-width="0.8" fill="none" stroke-linejoin="round"/>
<circle cx="325.00" cy="301.53" r="0.95" fill="white" stroke="#cfcfcf" stroke-width="0.5"/>
<circle cx="327.39" cy="289.67" r="0.95" fill="white" stroke="#cfcfcf" stroke-width="0.5"/>
<circle cx="329.79" cy="295.06" r="0.95" fill="white" stroke="#cfcfcf" stroke-width="0.5"/>
<circle cx="332.19" cy="299.38" r="0.95" fill="white" stroke="#cfcfcf" stroke-width="0.5"/>
<circle cx="334.58" cy="303.69" r="0.95" fill="white" stroke="#cfcfcf" stroke-width="0.5"/>
<circle cx="336.98" cy="306.93" r="0.95" fill="white" stroke="#cfcfcf" stroke-width="0.5"/>
<circle cx="339.37" cy="305.85" r="0.95" fill="white" stroke="#cfcfcf" stroke-width="0.5"/>
<circle cx="341.76" cy="299.38" r="0.95" fill="white" stroke="#cfcfcf" stroke-width="0.5"/>
<circle cx="344.16" cy="291.83" r="0.95" fill="white" stroke="#cfcfcf" stroke-width="0.5"/>
<circle cx="346.56" cy="290.75" r="0.95" fill="white" stroke="#cfcfcf" stroke-width="0.5"/>
<circle cx="348.95" cy="290.75" r="0.95" fill="white" stroke="#cfcfcf" stroke-width="0.5"/>
<circle cx="351.35" cy="290.75" r="0.95" fill="white" stroke="#cfcfcf" stroke-width="0.5"/>
<line x1="325.00" y1="320.14" x2="325.00" y2="323.10" stroke="#cc1236" stroke-width="0.6"/>
<line x1="323.70" y1="320.14" x2="326.30" y2="320.14" stroke="#cc1236" stroke-width="0.6"/>
<line x1="323.70" y1="323.10" x2="326.30" y2="323.10" stroke="#cc1236" stroke-width="0.6"/>
<line x1="327.39" y1="287.54" x2="327.39" y2="292.93" stroke="#cc1236" stroke-width="0.6"/>
<line x1="326.09" y1="287.54" x2="328.69" y2="287.54" stroke="#cc1236" stroke-width="0.6"/>
<line x1="326.09" y1="292.93" x2="328.69" y2="292.93" stroke="#cc1236" stroke-width="0.6"/>
<line x1="329.79" y1="293.08" x2="329.79" y2="298.48" stroke="#cc1236" stroke-width="0.6"/>
<line x1="328.49" y1="293.08" x2="331.09" y2="293.08" stroke="#cc1236" stroke-width="0.6"/>
<line x1="328.49" y1="298.48" x2="331.09" y2="298.48" stroke="#cc1236" stroke-width="0.6"/>
<line x1="332.19" y1="295.33" x2="332.19" y2="300.72" stroke="#cc1236" stroke-width="0.6"/>
<line x1="330.88" y1="295.33" x2="333.49" y2="295.33" stroke="#cc1236" stroke-width="0.6"/>
<line x1="330.88" y1="300.72" x2="333.49" y2="300.72" stroke="#cc1236" stroke-width="0.6"/>
<line x1="334.58" y1="300.29" x2="334.58" y2="305.68" stroke="#cc1236" stroke-width="0.6"/>
<line x1="333.28" y1="300.29" x2="335.88" y2="300.29" stroke="#cc1236" stroke-width="0.6"/>
<line x1="333.28" y1="305.68" x2="335.88" y2="305.68" stroke="#cc1236" stroke-width="0.6"/>
<line x1="336.98" y1="303.74" x2="336.98" y2="309.13" stroke="#cc1236" stroke-width="0.6"/>
<line x1="335.68" y1="303.74" x2="338.28" y2="303.74" stroke="#cc1236" stroke-width="0.6"/>
<line x1="335.68" y1="309.13" x2="338.28" y2="309.13" stroke="#cc1236" stroke-width="0.6"/>
<line x1="339.37" y1="305.95" x2="339.37" y2="311.35" stroke="#cc1236" stroke-width="0.6"/>
<line x1="338.07" y1="305.95" x2="340.67" y2="305.95" stroke="#cc1236" stroke-width="0.6"/>
<line x1="338.07" y1="311.35" x2="340.67" y2="311.35" stroke="#cc1236" stroke-width="0.6"/>
<line x1="341.76" y1="308.58" x2="341.76" y2="313.97" stroke="#cc1236" stroke-width="0.6"/>
<line x1="340.46" y1="308.58" x2="343.06" y2="308.58" stroke="#cc1236" stroke-width="0.6"/>
<line x1="340.46" y1="313.97" x2="343.06" y2="313.97" stroke="#cc1236" stroke-width="0.6"/>
<line x1="344.16" y1="309.91" x2="344.16" y2="315.30" stroke="#cc1236" stroke-width="0.6"/>
<line x1="342.86" y1="309.91" x2="345.46" y2="309.91" stroke="#cc1236" stroke-width="0.6"/>
<line x1="342.86" y1="315.30" x2="345.46" y2="315.30" stroke="#cc1236" stroke-width="0.6"/>
<line x1="346.56" y1="308.26" x2="346.56" y2="313.65" stroke="#cc1236" stroke-width="0.6"/>
<line x1="345.25" y1="308.26" x2="347.86" y2="308.26" stroke="#cc1236" stroke-width="0.6"/>
<line x1="345.25" y1="313.65" x2="347.86" y2="313.65" stroke="#cc1236" stroke-width="0.6"/>
<line x1="348.95" y1="307.75" x2="348.95" y2="313.14" stroke="#cc1236" stroke-width="0.6"/>
<line x1="347.65" y1="307.75" x2="350.25" y2="307.75" stroke="#cc1236" stroke-width="0.6"/>
<line x1="347.65" y1="313.14" x2="350.25" y2="313.14" stroke="#cc1236" stroke-width="0.6"/>
<line x1="351.35" y1="305.00" x2="351.35" y2="310.40" stroke="#cc1236" stroke-width="0.6"/>
<line x1="350.05" y1="305.00" x2="352.65" y2="305.00" stroke="#cc1236" stroke-width="0.6"/>
<line x1="350.05" y1="310.40" x2="352.65" y2="310.40" stroke="#cc1236" stroke-width="0.6"/>
<line x1="353.74" y1="303.20" x2="353.74" y2="308.59" stroke="#cc1236" stroke-width="0.6"/>
<line x1="352.44" y1="303.20" x2="355.04" y2="303.20" stroke="#cc1236" stroke-width="0.6"/>
<line x1="352.44" y1="308.59" x2="355.04" y2="308.59" stroke="#cc1236" stroke-width="0.6"/>
<line x1="356.13" y1="303.55" x2="356.13" y2="308.94" stroke="#cc1236" stroke-width="0.6"/>
<line x1="354.83" y1="303.55" x2="357.44" y2="303.55" stroke="#cc1236" stroke-width="0.6"/>
<line x1="354.83" y1="308.94" x2="357.44" y2="308.94" stroke="#cc1236" stroke-width="0.6"/>
<line x1="358.53" y1="302.46" x2="358.53" y2="307.85" stroke="#cc1236" stroke-width="0.6"/>
<line x1="357.23" y1="302.46" x2="359.83" y2="302.46" stroke="#cc1236" stroke-width="0.6"/>
<line x1="357.23" y1="307.85" x2="359.83" y2="307.85" stroke="#cc1236" stroke-width="0.6"/>
<line x1="360.93" y1="300.22" x2="360.93" y2="305.61" stroke="#cc1236" stroke-width="0.6"/>
<line x1="359.62" y1="300.22" x2="362.23" y2="300.22" stroke="#cc1236" stroke-width="0.6"/>
<line x1="359.62" y1="305.61" x2="362.23" y2="305.61" stroke="#cc1236" stroke-width="0.6"/>
<line x1="363.32" y1="299.31" x2="363.32" y2="304.70" stroke="#cc1236" stroke-width="0.6"/>
<line x1="362.02" y1="299.31" x2="364.62" y2="299.31" stroke="#cc1236" stroke-width="0.6"/>
<line x1="362.02" y1="304.70" x2="364.62" y2="304.70" stroke="#cc1236" stroke-width="0.6"/>
<line x1="365.72" y1="299.62" x2="365.72" y2="305.01" stroke="#cc1236" stroke-width="0.6"/>
<line x1="364.42" y1="299.62" x2="367.02" y2="299.62" stroke="#cc1236" stroke-width="0.6"/>
<line x1="364.42" y1="305.01" x2="367.02" y2="305.01" stroke="#cc1236" stroke-width="0.6"/>
<line x1="368.11" y1="300.34" x2="368.11" y2="305.74" stroke="#cc1236" stroke-width="0.6"/>
<line x1="366.81" y1="300.34" x2="369.41" y2="300.34" stroke="#cc1236" stroke-width="0.6"/>
<line x1="366.81" y1="305.74" x2="369.41" y2="305.74" stroke="#cc1236" stroke-width="0.6"/>
<line x1="370.50" y1="300.09" x2="370.50" y2="305.48" stroke="#cc1236" stroke-width="0.6"/>
<line x1="369.20" y1="300.09" x2="371.81" y2="300.09" stroke="#cc1236" stroke-width="0.6"/>
<line x1="369.20" y1="305.48" x2="371.81" y2="305.48" stroke="#cc1236" stroke-width="0.6"/>
<line x1="372.90" y1="298.14" x2="372.90" y2="303.53" stroke="#cc1236" stroke-width="0.6"/>
<line x1="371.60" y1="298.14" x2="374.20" y2="298.14" stroke="#cc1236" stroke-width="0.6"/>
<line x1="371.60" y1="303.53" x2="374.20" y2="303.53" stroke="#cc1236" stroke-width="0.6"/>
<line x1="375.30" y1="298.96" x2="375.30" y2="304.35" stroke="#cc1236" stroke-width="0.6"/>
<line x1="374.00" y1="298.96" x2="376.60" y2="298.96" stroke="#cc1236" stroke-width="0.6"/>
<line x1="374.00" y1="304.35" x2="376.60" y2="304.35" stroke="#cc1236" stroke-width="0.6"/>
<line x1="377.69" y1="300.31" x2="377.69" y2="305.70" stroke="#cc1236" stroke-width="0.6"/>
<line x1="376.39" y1="300.31" x2="378.99" y2="300.31" stroke="#cc1236" stroke-width="0.6"/>
<line x1="376.39" y1="305.70" x2="378.99" y2="305.70" stroke="#cc1236" stroke-width="0.6"/>
<line x1="380.09" y1="298.49" x2="380.09" y2="303.88" stroke="#cc1236" stroke-width="0.6"/>
<line x1="378.79" y1="298.49" x2="381.39" y2="298.49" stroke="#cc1236" stroke-width="0.6"/>
<line x1="378.79" y1="303.88" x2="381.39" y2="303.88" stroke="#cc1236" stroke-width="0.6"/>
<line x1="382.48" y1="298.01" x2="382.48" y2="303.40" stroke="#cc1236" stroke-width="0.6"/>
<line x1="381.18" y1="298.01" x2="383.78" y2="298.01" stroke="#cc1236" stroke-width="0.6"/>
<line x1="381.18" y1="303.40" x2="383.78" y2="303.40" stroke="#cc1236" stroke-width="0.6"/>
<line x1="384.88" y1="298.57" x2="384.88" y2="303.96" stroke="#cc1236" stroke-width="0.6"/>
<line x1="383.57" y1="298.57" x2="386.18" y2="298.57" stroke="#cc1236" stroke-width="0.6"/>
<line x1="383.57" y1="303.96" x2="386.18" y2="303.96" stroke="#cc1236" stroke-width="0.6"/>
<line x1="387.27" y1="299.10" x2="387.27" y2="304.49" stroke="#cc1236" stroke-width="0.6"/>
<line x1="385.97" y1="299.10" x2="388.57" y2="299.10" stroke="#cc1236" stroke-width="0.6"/>
<line x1="385.97" y1="304.49" x2="388.57" y2="304.49" stroke="#cc1236" stroke-width="0.6"/>
<line x1="389.67" y1="298.97" x2="389.67" y2="304.36" stroke="#cc1236" stroke-width="0.6"/>
<line x1="388.37" y1="298.97" x2="390.97" y2="298.97" stroke="#cc1236" stroke-width="0.6"/>
<line x1="388.37" y1="304.36" x2="390.97" y2="304.36" stroke="#cc1236" stroke-width="0.6"/>
<line x1="392.06" y1="300.34" x2="392.06" y2="305.73" stroke="#cc1236" stroke-width="0.6"/>
<line x1="390.76" y1="300.34" x2="393.36" y2="300.34" stroke="#cc1236" stroke-width="0.6"/>
<line x1="390.76" y1="305.73" x2="393.36" y2="305.73" stroke="#cc1236" stroke-width="0.6"/>
<line x1="394.45" y1="305.79" x2="394.45" y2="311.18" stroke="#cc1236" stroke-width="0.6"/>
<line x1="393.15" y1="305.79" x2="395.75" y2="305.79" stroke="#cc1236" stroke-width="0.6"/>
<line x1="393.15" y1="311.18" x2="395.75" y2="311.18" stroke="#cc1236" stroke-width="0.6"/>
<line x1="396.85" y1="306.96" x2="396.85" y2="312.35" stroke="#cc1236" stroke-width="0.6"/>
<line x1="395.55" y1="306.96" x2="398.15" y2="306.96" stroke="#cc1236" stroke-width="0.6"/>
<line x1="395.55" y1="312.35" x2="398.15" y2="312.35" stroke="#cc1236" stroke-width="0.6"/>
<line x1="399.25" y1="307.98" x2="399.25" y2="313.37" stroke="#cc1236" stroke-width="0.6"/>
<line x1="397.94" y1="307.98" x2="400.55" y2="307.98" stroke="#cc1236" stroke-width="0.6"/>
<line x1="397.94" y1="313.37" x2="400.55" y2="313.37" stroke="#cc1236" stroke-width="0.6"/>
<line x1="401.64" y1="306.77" x2="401.64" y2="312.16" stroke="#cc1236" stroke-width="0.6"/>
<line x1="400.34" y1="306.77" x2="402.94" y2="306.77" stroke="#cc1236" stroke-width="0.6"/>
<line x1="400.34" y1="312.16" x2="402.94" y2="312.16" stroke="#cc1236" stroke-width="0.6"/>
<line x1="404.04" y1="300.89" x2="404.04" y2="306.28" stroke="#cc1236" stroke-width="0.6"/>
<line x1="402.74" y1="300.89" x2="405.34" y2="300.89" stroke="#cc1236" stroke-width="0.6"/>
<line x1="402.74" y1="306.28" x2="405.34" y2="306.28" stroke="#cc1236" stroke-width="0.6"/>
<line x1="406.43" y1="300.03" x2="406.43" y2="305.42" stroke="#cc1236" stroke-width="0.6"/>
<line x1="405.13" y1="300.03" x2="407.73" y2="300.03" stroke="#cc1236" stroke-width="0.6"/>
<line x1="405.13" y1="305.42" x2="407.73" y2="305.42" stroke="#cc1236" stroke-width="0.6"/>
<line x1="408.83" y1="299.27" x2="408.83" y2="304.67" stroke="#cc1236" stroke-width="0.6"/>
<line x1="407.53" y1="299.27" x2="410.13" y2="299.27" stroke="#cc1236" stroke-width="0.6"/>
<line x1="407.53" y1="304.67" x2="410.13" y2="304.67" stroke="#cc1236" stroke-width="0.6"/>
<line x1="411.22" y1="299.35" x2="411.22" y2="304.74" stroke="#cc1236" stroke-width="0.6"/>
<line x1="409.92" y1="299.35" x2="412.52" y2="299.35" stroke="#cc1236" stroke-width="0.6"/>
<line x1="409.92" y1="304.74" x2="412.52" y2="304.74" stroke="#cc1236" stroke-width="0.6"/>
<line x1="413.62" y1="313.71" x2="413.62" y2="319.11" stroke="#cc1236" stroke-width="0.6"/>
<line x1="412.31" y1="313.71" x2="414.92" y2="313.71" stroke="#cc1236" stroke-width="0.6"/>
<line x1="412.31" y1="319.11" x2="414.92" y2="319.11" stroke="#cc1236" stroke-width="0.6"/>
<line x1="415.21" y1="320.40" x2="415.21" y2="323.10" stroke="#cc1236" stroke-width="0.6"/>
<line x1="413.91" y1="320.40" x2="416.51" y2="320.40" stroke="#cc1236" stroke-width="0.6"/>
<line x1="413.91" y1="323.10" x2="416.51" y2="323.10" stroke="#cc1236" stroke-width="0.6"/>
<line x1="417.61" y1="315.37" x2="417.61" y2="320.76" stroke="#cc1236" stroke-width="0.6"/>
<line x1="416.31" y1="315.37" x2="418.91" y2="315.37" stroke="#cc1236" stroke-width="0.6"/>
<line x1="416.31" y1="320.76" x2="418.91" y2="320.76" stroke="#cc1236" stroke-width="0.6"/>
<line x1="420.80" y1="310.07" x2="420.80" y2="315.46" stroke="#cc1236" stroke-width="0.6"/>
<line x1="419.50" y1="310.07" x2="422.10" y2="310.07" stroke="#cc1236" stroke-width="0.6"/>
<line x1="419.50" y1="315.46" x2="422.10" y2="315.46" stroke="#cc1236" stroke-width="0.6"/>
<path d="M325.00,322.84 L327.39,290.23 L329.79,295.78 L332.19,298.02 L334.58,302.98 L336.98,306.44 L339.37,308.65 L341.76,311.28 L344.16,312.60 L346.56,310.96 L348.95,310.45 L351.35,307.70 L353.74,305.90 L356.13,306.24 L358.53,305.15 L360.93,302.92 L363.32,302.01 L365.72,302.32 L368.11,303.04 L370.50,302.78 L372.90,300.83 L375.30,301.65 L377.69,303.01 L380.09,301.19 L382.48,300.70 L384.88,301.26 L387.27,301.79 L389.67,301.67 L392.06,303.03 L394.45,308.48 L396.85,309.66 L399.25,310.67 L401.64,309.47 L404.04,303.59 L406.43,302.73 L408.83,301.97 L411.22,302.05 L413.62,316.41 L415.21,323.10 L417.61,318.07 L420.80,312.76" stroke="#cc1236" stroke-width="0.8" fill="none" stroke-linejoin="round"/>
<path d="M323.95,322.08 L326.05,322.08 L325.00,323.88 Z" fill="#cc1236"/>
<path d="M326.35,289.47 L328.44,289.47 L327.39,291.28 Z" fill="#cc1236"/>
<path d="M328.75,295.02 L330.84,295.02 L329.79,296.82 Z" fill="#cc1236"/>
<path d="M331.14,297.26 L333.23,297.26 L332.19,299.07 Z" fill="#cc1236"/>
<path d="M333.53,302.22 L335.62,302.22 L334.58,304.03 Z" fill="#cc1236"/>
<path d="M335.93,305.68 L338.02,305.68 L336.98,307.48 Z" fill="#cc1236"/>
<path d="M338.32,307.89 L340.42,307.89 L339.37,309.70 Z" fill="#cc1236"/>
<path d="M340.72,310.52 L342.81,310.52 L341.76,312.32 Z" fill="#cc1236"/>
<path d="M343.12,311.84 L345.21,311.84 L344.16,313.65 Z" fill="#cc1236"/>
<path d="M345.51,310.20 L347.60,310.20 L346.56,312.00 Z" fill="#cc1236"/>
<path d="M347.90,309.69 L350.00,309.69 L348.95,311.49 Z" fill="#cc1236"/>
<path d="M350.30,306.94 L352.39,306.94 L351.35,308.74 Z" fill="#cc1236"/>
<path d="M352.69,305.14 L354.79,305.14 L353.74,306.94 Z" fill="#cc1236"/>
<path d="M355.09,305.48 L357.18,305.48 L356.13,307.29 Z" fill="#cc1236"/>
<path d="M357.48,304.39 L359.57,304.39 L358.53,306.20 Z" fill="#cc1236"/>
<path d="M359.88,302.16 L361.97,302.16 L360.93,303.96 Z" fill="#cc1236"/>
<path d="M362.27,301.25 L364.37,301.25 L363.32,303.05 Z" fill="#cc1236"/>
<path d="M364.67,301.56 L366.76,301.56 L365.72,303.36 Z" fill="#cc1236"/>
<path d="M367.06,302.28 L369.16,302.28 L368.11,304.08 Z" fill="#cc1236"/>
<path d="M369.46,302.02 L371.55,302.02 L370.50,303.83 Z" fill="#cc1236"/>
<path d="M371.85,300.07 L373.94,300.07 L372.90,301.88 Z" fill="#cc1236"/>
<path d="M374.25,300.89 L376.34,300.89 L375.30,302.70 Z" fill="#cc1236"/>
<path d="M376.64,302.25 L378.74,302.25 L377.69,304.05 Z" fill="#cc1236"/>
<path d="M379.04,300.43 L381.13,300.43 L380.09,302.23 Z" fill="#cc1236"/>
<path d="M381.44,299.94 L383.53,299.94 L382.48,301.75 Z" fill="#cc1236"/>
<path d="M383.83,300.50 L385.92,300.50 L384.88,302.31 Z" fill="#cc1236"/>
<path d="M386.22,301.03 L388.31,301.03 L387.27,302.84 Z" fill="#cc1236"/>
<path d="M388.62,300.91 L390.71,300.91 L389.67,302.71 Z" fill="#cc1236"/>
<path d="M391.01,302.27 L393.11,302.27 L392.06,304.08 Z" fill="#cc1236"/>
<path d="M393.41,307.72 L395.50,307.72 L394.45,309.53 Z" fill="#cc1236"/>
<path d="M395.81,308.90 L397.90,308.90 L396.85,310.70 Z" fill="#cc1236"/>
<path d="M398.20,309.91 L400.29,309.91 L399.25,311.72 Z" fill="#cc1236"/>
<path d="M400.59,308.71 L402.69,308.71 L401.64,310.51 Z" fill="#cc1236"/>
<path d="M402.99,302.83 L405.08,302.83 L404.04,304.63 Z" fill="#cc1236"/>
<path d="M405.38,301.97 L407.48,301.97 L406.43,303.77 Z" fill="#cc1236"/>
<path d="M407.78,301.21 L409.87,301.21 L408.83,303.02 Z" fill="#cc1236"/>
<path d="M410.18,301.29 L412.27,301.29 L411.22,303.09 Z" fill="#cc1236"/>
<path d="M412.57,315.65 L414.66,315.65 L413.62,317.45 Z" fill="#cc1236"/>
<path d="M414.17,322.34 L416.26,322.34 L415.21,324.15 Z" fill="#cc1236"/>
<path d="M416.56,317.31 L418.65,317.31 L417.61,319.11 Z" fill="#cc1236"/>
<path d="M419.75,312.00 L421.85,312.00 L420.80,313.81 Z" fill="#cc1236"/>
<line x1="325.00" y1="306.78" x2="325.00" y2="313.25" stroke="#2a5ca0" stroke-width="0.6"/>
<line x1="323.70" y1="306.78" x2="326.30" y2="306.78" stroke="#2a5ca0" stroke-width="0.6"/>
<line x1="323.70" y1="313.25" x2="326.30" y2="313.25" stroke="#2a5ca0" stroke-width="0.6"/>
<line x1="327.39" y1="305.18" x2="327.39" y2="311.65" stroke="#2a5ca0" stroke-width="0.6"/>
<line x1="326.09" y1="305.18" x2="328.69" y2="305.18" stroke="#2a5ca0" stroke-width="0.6"/>
<line x1="326.09" y1="311.65" x2="328.69" y2="311.65" stroke="#2a5ca0" stroke-width="0.6"/>
<line x1="329.79" y1="309.22" x2="329.79" y2="315.69" stroke="#2a5ca0" stroke-width="0.6"/>
<line x1="328.49" y1="309.22" x2="331.09" y2="309.22" stroke="#2a5ca0" stroke-width="0.6"/>
<line x1="328.49" y1="315.69" x2="331.09" y2="315.69" stroke="#2a5ca0" stroke-width="0.6"/>
<line x1="332.19" y1="308.10" x2="332.19" y2="314.57" stroke="#2a5ca0" stroke-width="0.6"/>
<line x1="330.88" y1="308.10" x2="333.49" y2="308.10" stroke="#2a5ca0" stroke-width="0.6"/>
<line x1="330.88" y1="314.57" x2="333.49" y2="314.57" stroke="#2a5ca0" stroke-width="0.6"/>
<line x1="334.58" y1="305.79" x2="334.58" y2="312.26" stroke="#2a5ca0" stroke-width="0.6"/>
<line x1="333.28" y1="305.79" x2="335.88" y2="305.79" stroke="#2a5ca0" stroke-width="0.6"/>
<line x1="333.28" y1="312.26" x2="335.88" y2="312.26" stroke="#2a5ca0" stroke-width="0.6"/>
<line x1="336.98" y1="306.10" x2="336.98" y2="312.57" stroke="#2a5ca0" stroke-width="0.6"/>
<line x1="335.68" y1="306.10" x2="338.28" y2="306.10" stroke="#2a5ca0" stroke-width="0.6"/>
<line x1="335.68" y1="312.57" x2="338.28" y2="312.57" stroke="#2a5ca0" stroke-width="0.6"/>
<line x1="339.37" y1="306.57" x2="339.37" y2="313.04" stroke="#2a5ca0" stroke-width="0.6"/>
<line x1="338.07" y1="306.57" x2="340.67" y2="306.57" stroke="#2a5ca0" stroke-width="0.6"/>
<line x1="338.07" y1="313.04" x2="340.67" y2="313.04" stroke="#2a5ca0" stroke-width="0.6"/>
<line x1="341.76" y1="306.78" x2="341.76" y2="313.25" stroke="#2a5ca0" stroke-width="0.6"/>
<line x1="340.46" y1="306.78" x2="343.06" y2="306.78" stroke="#2a5ca0" stroke-width="0.6"/>
<line x1="340.46" y1="313.25" x2="343.06" y2="313.25" stroke="#2a5ca0" stroke-width="0.6"/>
<line x1="344.16" y1="306.23" x2="344.16" y2="312.70" stroke="#2a5ca0" stroke-width="0.6"/>
<line x1="342.86" y1="306.23" x2="345.46" y2="306.23" stroke="#2a5ca0" stroke-width="0.6"/>
<line x1="342.86" y1="312.70" x2="345.46" y2="312.70" stroke="#2a5ca0" stroke-width="0.6"/>
<line x1="346.56" y1="306.20" x2="346.56" y2="312.67" stroke="#2a5ca0" stroke-width="0.6"/>
<line x1="345.25" y1="306.20" x2="347.86" y2="306.20" stroke="#2a5ca0" stroke-width="0.6"/>
<line x1="345.25" y1="312.67" x2="347.86" y2="312.67" stroke="#2a5ca0" stroke-width="0.6"/>
<line x1="348.95" y1="304.05" x2="348.95" y2="310.52" stroke="#2a5ca0" stroke-width="0.6"/>
<line x1="347.65" y1="304.05" x2="350.25" y2="304.05" stroke="#2a5ca0" stroke-width="0.6"/>
<line x1="347.65" y1="310.52" x2="350.25" y2="310.52" stroke="#2a5ca0" stroke-width="0.6"/>
<line x1="351.35" y1="304.44" x2="351.35" y2="310.91" stroke="#2a5ca0" stroke-width="0.6"/>
<line x1="350.05" y1="304.44" x2="352.65" y2="304.44" stroke="#2a5ca0" stroke-width="0.6"/>
<line x1="350.05" y1="310.91" x2="352.65" y2="310.91" stroke="#2a5ca0" stroke-width="0.6"/>
<line x1="353.74" y1="304.07" x2="353.74" y2="310.54" stroke="#2a5ca0" stroke-width="0.6"/>
<line x1="352.44" y1="304.07" x2="355.04" y2="304.07" stroke="#2a5ca0" stroke-width="0.6"/>
<line x1="352.44" y1="310.54" x2="355.04" y2="310.54" stroke="#2a5ca0" stroke-width="0.6"/>
<line x1="356.13" y1="303.76" x2="356.13" y2="310.23" stroke="#2a5ca0" stroke-width="0.6"/>
<line x1="354.83" y1="303.76" x2="357.44" y2="303.76" stroke="#2a5ca0" stroke-width="0.6"/>
<line x1="354.83" y1="310.23" x2="357.44" y2="310.23" stroke="#2a5ca0" stroke-width="0.6"/>
<line x1="358.53" y1="304.52" x2="358.53" y2="310.99" stroke="#2a5ca0" stroke-width="0.6"/>
<line x1="357.23" y1="304.52" x2="359.83" y2="304.52" stroke="#2a5ca0" stroke-width="0.6"/>
<line x1="357.23" y1="310.99" x2="359.83" y2="310.99" stroke="#2a5ca0" stroke-width="0.6"/>
<line x1="360.93" y1="303.79" x2="360.93" y2="310.26" stroke="#2a5ca0" stroke-width="0.6"/>
<line x1="359.62" y1="303.79" x2="362.23" y2="303.79" stroke="#2a5ca0" stroke-width="0.6"/>
<line x1="359.62" y1="310.26" x2="362.23" y2="310.26" stroke="#2a5ca0" stroke-width="0.6"/>
<line x1="363.32" y1="304.24" x2="363.32" y2="310.71" stroke="#2a5ca0" stroke-width="0.6"/>
<line x1="362.02" y1="304.24" x2="364.62" y2="304.24" stroke="#2a5ca0" stroke-width="0.6"/>
<line x1="362.02" y1="310.71" x2="364.62" y2="310.71" stroke="#2a5ca0" stroke-width="0.6"/>
<line x1="365.72" y1="304.65" x2="365.72" y2="311.12" stroke="#2a5ca0" stroke-width="0.6"/>
<line x1="364.42" y1="304.65" x2="367.02" y2="304.65" stroke="#2a5ca0" stroke-width="0.6"/>
<line x1="364.42" y1="311.12" x2="367.02" y2="311.12" stroke="#2a5ca0" stroke-width="0.6"/>
<line x1="368.11" y1="303.61" x2="368.11" y2="310.08" stroke="#2a5ca0" stroke-width="0.6"/>
<line x1="366.81" y1="303.61" x2="369.41" y2="303.61" stroke="#2a5ca0" stroke-width="0.6"/>
<line x1="366.81" y1="310.08" x2="369.41" y2="310.08" stroke="#2a5ca0" stroke-width="0.6"/>
<line x1="370.50" y1="305.01" x2="370.50" y2="311.48" stroke="#2a5ca0" stroke-width="0.6"/>
<line x1="369.20" y1="305.01" x2="371.81" y2="305.01" stroke="#2a5ca0" stroke-width="0.6"/>
<line x1="369.20" y1="311.48" x2="371.81" y2="311.48" stroke="#2a5ca0" stroke-width="0.6"/>
<line x1="372.90" y1="304.81" x2="372.90" y2="311.28" stroke="#2a5ca0" stroke-width="0.6"/>
<line x1="371.60" y1="304.81" x2="374.20" y2="304.81" stroke="#2a5ca0" stroke-width="0.6"/>
<line x1="371.60" y1="311.28" x2="374.20" y2="311.28" stroke="#2a5ca0" stroke-width="0.6"/>
<line x1="375.30" y1="304.38" x2="375.30" y2="310.85" stroke="#2a5ca0" stroke-width="0.6"/>
<line x1="374.00" y1="304.38" x2="376.60" y2="304.38" stroke="#2a5ca0" stroke-width="0.6"/>
<line x1="374.00" y1="310.85" x2="376.60" y2="310.85" stroke="#2a5ca0" stroke-width="0.6"/>
<line x1="377.69" y1="304.67" x2="377.69" y2="311.14" stroke="#2a5ca0" stroke-width="0.6"/>
<line x1="376.39" y1="304.67" x2="378.99" y2="304.67" stroke="#2a5ca0" stroke-width="0.6"/>
<line x1="376.39" y1="311.14" x2="378.99" y2="311.14" stroke="#2a5ca0" stroke-width="0.6"/>
<line x1="380.09" y1="305.07" x2="380.09" y2="311.54" stroke="#2a5ca0" stroke-width="0.6"/>
<line x1="378.79" y1="305.07" x2="381.39" y2="305.07" stroke="#2a5ca0" stroke-width="0.6"/>
<line x1="378.79" y1="311.54" x2="381.39" y2="311.54" stroke="#2a5ca0" stroke-width="0.6"/>
<line x1="382.48" y1="304.74" x2="382.48" y2="311.21" stroke="#2a5ca0" stroke-width="0.6"/>
<line x1="381.18" y1="304.74" x2="383.78" y2="304.74" stroke="#2a5ca0" stroke-width="0.6"/>
<line x1="381.18" y1="311.21" x2="383.78" y2="311.21" stroke="#2a5ca0" stroke-width="0.6"/>
<line x1="384.88" y1="304.67" x2="384.88" y2="311.14" stroke="#2a5ca0" stroke-width="0.6"/>
<line x1="383.57" y1="304.67" x2="386.18" y2="304.67" stroke="#2a5ca0" stroke-width="0.6"/>
<line x1="383.57" y1="311.14" x2="386.18" y2="311.14" stroke="#2a5ca0" stroke-width="0.6"/>
<line x1="387.27" y1="304.28" x2="387.27" y2="310.75" stroke="#2a5ca0" stroke-width="0.6"/>
<line x1="385.97" y1="304.28" x2="388.57" y2="304.28" stroke="#2a5ca0" stroke-width="0.6"/>
<line x1="385.97" y1="310.75" x2="388.57" y2="310.75" stroke="#2a5ca0" stroke-width="0.6"/>
<line x1="389.67" y1="305.34" x2="389.67" y2="311.81" stroke="#2a5ca0" stroke-width="0.6"/>
<line x1="388.37" y1="305.34" x2="390.97" y2="305.34" stroke="#2a5ca0" stroke-width="0.6"/>
<line x1="388.37" y1="311.81" x2="390.97" y2="311.81" stroke="#2a5ca0" stroke-width="0.6"/>
<line x1="392.06" y1="304.23" x2="392.06" y2="310.70" stroke="#2a5ca0" stroke-width="0.6"/>
<line x1="390.76" y1="304.23" x2="393.36" y2="304.23" stroke="#2a5ca0" stroke-width="0.6"/>
<line x1="390.76" y1="310.70" x2="393.36" y2="310.70" stroke="#2a5ca0" stroke-width="0.6"/>
<line x1="394.45" y1="304.45" x2="394.45" y2="310.92" stroke="#2a5ca0" stroke-width="0.6"/>
<line x1="393.15" y1="304.45" x2="395.75" y2="304.45" stroke="#2a5ca0" stroke-width="0.6"/>
<line x1="393.15" y1="310.92" x2="395.75" y2="310.92" stroke="#2a5ca0" stroke-width="0.6"/>
<line x1="396.85" y1="304.07" x2="396.85" y2="310.54" stroke="#2a5ca0" stroke-width="0.6"/>
<line x1="395.55" y1="304.07" x2="398.15" y2="304.07" stroke="#2a5ca0" stroke-width="0.6"/>
<line x1="395.55" y1="310.54" x2="398.15" y2="310.54" stroke="#2a5ca0" stroke-width="0.6"/>
<line x1="399.25" y1="303.54" x2="399.25" y2="310.01" stroke="#2a5ca0" stroke-width="0.6"/>
<line x1="397.94" y1="303.54" x2="400.55" y2="303.54" stroke="#2a5ca0" stroke-width="0.6"/>
<line x1="397.94" y1="310.01" x2="400.55" y2="310.01" stroke="#2a5ca0" stroke-width="0.6"/>
<line x1="401.64" y1="304.32" x2="401.64" y2="310.79" stroke="#2a5ca0" stroke-width="0.6"/>
<line x1="400.34" y1="304.32" x2="402.94" y2="304.32" stroke="#2a5ca0" stroke-width="0.6"/>
<line x1="400.34" y1="310.79" x2="402.94" y2="310.79" stroke="#2a5ca0" stroke-width="0.6"/>
<line x1="404.04" y1="304.55" x2="404.04" y2="311.02" stroke="#2a5ca0" stroke-width="0.6"/>
<line x1="402.74" y1="304.55" x2="405.34" y2="304.55" stroke="#2a5ca0" stroke-width="0.6"/>
<line x1="402.74" y1="311.02" x2="405.34" y2="311.02" stroke="#2a5ca0" stroke-width="0.6"/>
<line x1="406.43" y1="304.75" x2="406.43" y2="311.22" stroke="#2a5ca0" stroke-width="0.6"/>
<line x1="405.13" y1="304.75" x2="407.73" y2="304.75" stroke="#2a5ca0" stroke-width="0.6"/>
<line x1="405.13" y1="311.22" x2="407.73" y2="311.22" stroke="#2a5ca0" stroke-width="0.6"/>
<line x1="408.83" y1="305.13" x2="408.83" y2="311.60" stroke="#2a5ca0" stroke-width="0.6"/>
<line x1="407.53" y1="305.13" x2="410.13" y2="305.13" stroke="#2a5ca0" stroke-width="0.6"/>
<line x1="407.53" y1="311.60" x2="410.13" y2="311.60" stroke="#2a5ca0" stroke-width="0.6"/>
<line x1="411.22" y1="309.18" x2="411.22" y2="315.65" stroke="#2a5ca0" stroke-width="0.6"/>
<line x1="409.92" y1="309.18" x2="412.52" y2="309.18" stroke="#2a5ca0" stroke-width="0.6"/>
<line x1="409.92" y1="315.65" x2="412.52" y2="315.65" stroke="#2a5ca0" stroke-width="0.6"/>
<line x1="413.62" y1="310.83" x2="413.62" y2="317.30" stroke="#2a5ca0" stroke-width="0.6"/>
<line x1="412.31" y1="310.83" x2="414.92" y2="310.83" stroke="#2a5ca0" stroke-width="0.6"/>
<line x1="412.31" y1="317.30" x2="414.92" y2="317.30" stroke="#2a5ca0" stroke-width="0.6"/>
<line x1="416.01" y1="310.37" x2="416.01" y2="316.84" stroke="#2a5ca0" stroke-width="0.6"/>
<line x1="414.71" y1="310.37" x2="417.31" y2="310.37" stroke="#2a5ca0" stroke-width="0.6"/>
<line x1="414.71" y1="316.84" x2="417.31" y2="316.84" stroke="#2a5ca0" stroke-width="0.6"/>
<line x1="418.41" y1="308.85" x2="418.41" y2="315.32" stroke="#2a5ca0" stroke-width="0.6"/>
<line x1="417.11" y1="308.85" x2="419.71" y2="308.85" stroke="#2a5ca0" stroke-width="0.6"/>
<line x1="417.11" y1="315.32" x2="419.71" y2="315.32" stroke="#2a5ca0" stroke-width="0.6"/>
<line x1="420.80" y1="306.59" x2="420.80" y2="313.06" stroke="#2a5ca0" stroke-width="0.6"/>
<line x1="419.50" y1="306.59" x2="422.10" y2="306.59" stroke="#2a5ca0" stroke-width="0.6"/>
<line x1="419.50" y1="313.06" x2="422.10" y2="313.06" stroke="#2a5ca0" stroke-width="0.6"/>
<path d="M325.00,310.01 L327.39,308.42 L329.79,312.46 L332.19,311.34 L334.58,309.02 L336.98,309.33 L339.37,309.80 L341.76,310.02 L344.16,309.46 L346.56,309.43 L348.95,307.28 L351.35,307.68 L353.74,307.30 L356.13,306.99 L358.53,307.76 L360.93,307.03 L363.32,307.47 L365.72,307.89 L368.11,306.84 L370.50,308.25 L372.90,308.05 L375.30,307.61 L377.69,307.91 L380.09,308.30 L382.48,307.97 L384.88,307.91 L387.27,307.51 L389.67,308.58 L392.06,307.47 L394.45,307.68 L396.85,307.31 L399.25,306.78 L401.64,307.56 L404.04,307.79 L406.43,307.99 L408.83,308.37 L411.22,312.41 L413.62,314.06 L416.01,313.60 L418.41,312.08 L420.80,309.83" stroke="#2a5ca0" stroke-width="0.8" fill="none" stroke-linejoin="round"/>
<rect x="324.05" y="309.06" width="1.90" height="1.90" fill="#2a5ca0"/>
<rect x="326.44" y="307.47" width="1.90" height="1.90" fill="#2a5ca0"/>
<rect x="328.84" y="311.51" width="1.90" height="1.90" fill="#2a5ca0"/>
<rect x="331.24" y="310.39" width="1.90" height="1.90" fill="#2a5ca0"/>
<rect x="333.63" y="308.07" width="1.90" height="1.90" fill="#2a5ca0"/>
<rect x="336.03" y="308.38" width="1.90" height="1.90" fill="#2a5ca0"/>
<rect x="338.42" y="308.85" width="1.90" height="1.90" fill="#2a5ca0"/>
<rect x="340.81" y="309.07" width="1.90" height="1.90" fill="#2a5ca0"/>
<rect x="343.21" y="308.51" width="1.90" height="1.90" fill="#2a5ca0"/>
<rect x="345.61" y="308.48" width="1.90" height="1.90" fill="#2a5ca0"/>
<rect x="348.00" y="306.33" width="1.90" height="1.90" fill="#2a5ca0"/>
<rect x="350.40" y="306.73" width="1.90" height="1.90" fill="#2a5ca0"/>
<rect x="352.79" y="306.35" width="1.90" height="1.90" fill="#2a5ca0"/>
<rect x="355.19" y="306.04" width="1.90" height="1.90" fill="#2a5ca0"/>
<rect x="357.58" y="306.81" width="1.90" height="1.90" fill="#2a5ca0"/>
<rect x="359.98" y="306.08" width="1.90" height="1.90" fill="#2a5ca0"/>
<rect x="362.37" y="306.52" width="1.90" height="1.90" fill="#2a5ca0"/>
<rect x="364.77" y="306.94" width="1.90" height="1.90" fill="#2a5ca0"/>
<rect x="367.16" y="305.89" width="1.90" height="1.90" fill="#2a5ca0"/>
<rect x="369.56" y="307.30" width="1.90" height="1.90" fill="#2a5ca0"/>
<rect x="371.95" y="307.10" width="1.90" height="1.90" fill="#2a5ca0"/>
<rect x="374.35" y="306.66" width="1.90" height="1.90" fill="#2a5ca0"/>
<rect x="376.74" y="306.96" width="1.90" height="1.90" fill="#2a5ca0"/>
<rect x="379.14" y="307.35" width="1.90" height="1.90" fill="#2a5ca0"/>
<rect x="381.53" y="307.02" width="1.90" height="1.90" fill="#2a5ca0"/>
<rect x="383.93" y="306.96" width="1.90" height="1.90" fill="#2a5ca0"/>
<rect x="386.32" y="306.56" width="1.90" height="1.90" fill="#2a5ca0"/>
<rect x="388.72" y="307.63" width="1.90" height="1.90" fill="#2a5ca0"/>
<rect x="391.11" y="306.52" width="1.90" height="1.90" fill="#2a5ca0"/>
<rect x="393.50" y="306.73" width="1.90" height="1.90" fill="#2a5ca0"/>
<rect x="395.90" y="306.36" width="1.90" height="1.90" fill="#2a5ca0"/>
<rect x="398.30" y="305.83" width="1.90" height="1.90" fill="#2a5ca0"/>
<rect x="400.69" y="306.61" width="1.90" height="1.90" fill="#2a5ca0"/>
<rect x="403.09" y="306.84" width="1.90" height="1.90" fill="#2a5ca0"/>
<rect x="405.48" y="307.04" width="1.90" height="1.90" fill="#2a5ca0"/>
<rect x="407.88" y="307.42" width="1.90" height="1.90" fill="#2a5ca0"/>
<rect x="410.27" y="311.46" width="1.90" height="1.90" fill="#2a5ca0"/>
<rect x="412.67" y="313.11" width="1.90" height="1.90" fill="#2a5ca0"/>
<rect x="415.06" y="312.65" width="1.90" height="1.90" fill="#2a5ca0"/>
<rect x="417.46" y="311.13" width="1.90" height="1.90" fill="#2a5ca0"/>
<rect x="419.85" y="308.88" width="1.90" height="1.90" fill="#2a5ca0"/>
<line x1="325.00" y1="320.73" x2="325.00" y2="323.10" stroke="#4f2170" stroke-width="0.6"/>
<line x1="323.70" y1="320.73" x2="326.30" y2="320.73" stroke="#4f2170" stroke-width="0.6"/>
<line x1="323.70" y1="323.10" x2="326.30" y2="323.10" stroke="#4f2170" stroke-width="0.6"/>
<line x1="327.39" y1="282.99" x2="327.39" y2="287.73" stroke="#4f2170" stroke-width="0.6"/>
<line x1="326.09" y1="282.99" x2="328.69" y2="282.99" stroke="#4f2170" stroke-width="0.6"/>
<line x1="326.09" y1="287.73" x2="328.69" y2="287.73" stroke="#4f2170" stroke-width="0.6"/>
<line x1="328.99" y1="274.36" x2="328.99" y2="279.10" stroke="#4f2170" stroke-width="0.6"/>
<line x1="327.69" y1="274.36" x2="330.29" y2="274.36" stroke="#4f2170" stroke-width="0.6"/>
<line x1="327.69" y1="279.10" x2="330.29" y2="279.10" stroke="#4f2170" stroke-width="0.6"/>
<line x1="330.59" y1="267.89" x2="330.59" y2="272.63" stroke="#4f2170" stroke-width="0.6"/>
<line x1="329.29" y1="267.89" x2="331.89" y2="267.89" stroke="#4f2170" stroke-width="0.6"/>
<line x1="329.29" y1="272.63" x2="331.89" y2="272.63" stroke="#4f2170" stroke-width="0.6"/>
<line x1="332.98" y1="270.05" x2="332.98" y2="274.79" stroke="#4f2170" stroke-width="0.6"/>
<line x1="331.68" y1="270.05" x2="334.28" y2="270.05" stroke="#4f2170" stroke-width="0.6"/>
<line x1="331.68" y1="274.79" x2="334.28" y2="274.79" stroke="#4f2170" stroke-width="0.6"/>
<line x1="335.38" y1="271.12" x2="335.38" y2="275.87" stroke="#4f2170" stroke-width="0.6"/>
<line x1="334.08" y1="271.12" x2="336.68" y2="271.12" stroke="#4f2170" stroke-width="0.6"/>
<line x1="334.08" y1="275.87" x2="336.68" y2="275.87" stroke="#4f2170" stroke-width="0.6"/>
<line x1="337.77" y1="270.05" x2="337.77" y2="274.79" stroke="#4f2170" stroke-width="0.6"/>
<line x1="336.47" y1="270.05" x2="339.07" y2="270.05" stroke="#4f2170" stroke-width="0.6"/>
<line x1="336.47" y1="274.79" x2="339.07" y2="274.79" stroke="#4f2170" stroke-width="0.6"/>
<line x1="339.37" y1="267.89" x2="339.37" y2="272.63" stroke="#4f2170" stroke-width="0.6"/>
<line x1="338.07" y1="267.89" x2="340.67" y2="267.89" stroke="#4f2170" stroke-width="0.6"/>
<line x1="338.07" y1="272.63" x2="340.67" y2="272.63" stroke="#4f2170" stroke-width="0.6"/>
<line x1="341.76" y1="266.81" x2="341.76" y2="271.56" stroke="#4f2170" stroke-width="0.6"/>
<line x1="340.46" y1="266.81" x2="343.06" y2="266.81" stroke="#4f2170" stroke-width="0.6"/>
<line x1="340.46" y1="271.56" x2="343.06" y2="271.56" stroke="#4f2170" stroke-width="0.6"/>
<line x1="344.16" y1="261.42" x2="344.16" y2="266.16" stroke="#4f2170" stroke-width="0.6"/>
<line x1="342.86" y1="261.42" x2="345.46" y2="261.42" stroke="#4f2170" stroke-width="0.6"/>
<line x1="342.86" y1="266.16" x2="345.46" y2="266.16" stroke="#4f2170" stroke-width="0.6"/>
<line x1="346.56" y1="256.03" x2="346.56" y2="260.77" stroke="#4f2170" stroke-width="0.6"/>
<line x1="345.25" y1="256.03" x2="347.86" y2="256.03" stroke="#4f2170" stroke-width="0.6"/>
<line x1="345.25" y1="260.77" x2="347.86" y2="260.77" stroke="#4f2170" stroke-width="0.6"/>
<path d="M325.00,323.10 L327.39,285.36 L328.99,276.73 L330.59,270.26 L332.98,272.42 L335.38,273.50 L337.77,272.42 L339.37,270.26 L341.76,269.18 L344.16,263.79 L346.56,258.40" stroke="#4f2170" stroke-width="1.0" fill="none" stroke-linejoin="round"/>
<circle cx="325.00" cy="323.10" r="1.6" fill="#4f2170"/>
<circle cx="327.39" cy="285.36" r="1.6" fill="#4f2170"/>
<circle cx="328.99" cy="276.73" r="1.6" fill="#4f2170"/>
<circle cx="330.59" cy="270.26" r="1.6" fill="#4f2170"/>
<circle cx="332.98" cy="272.42" r="1.6" fill="#4f2170"/>
<circle cx="335.38" cy="273.50" r="1.6" fill="#4f2170"/>
<circle cx="337.77" cy="272.42" r="1.6" fill="#4f2170"/>
<circle cx="339.37" cy="270.26" r="1.6" fill="#4f2170"/>
<circle cx="341.76" cy="269.18" r="1.6" fill="#4f2170"/>
<circle cx="344.16" cy="263.79" r="1.6" fill="#4f2170"/>
<circle cx="346.56" cy="258.40" r="1.6" fill="#4f2170"/>
<line x1="325.00" y1="256.50" x2="325.00" y2="323.55" stroke="#222" stroke-width="0.95"/>
<line x1="322.00" y1="323.10" x2="325.00" y2="323.10" stroke="#222" stroke-width="0.8"/>
<text x="320.40" y="325.35" font-size="6.3" text-anchor="end" fill="#3a3a3a" textLength="3.15" lengthAdjust="spacingAndGlyphs" stroke="#3a3a3a" stroke-width="0.08">0</text>
<line x1="322.00" y1="312.32" x2="325.00" y2="312.32" stroke="#222" stroke-width="0.8"/>
<text x="320.40" y="314.57" font-size="6.3" text-anchor="end" fill="#3a3a3a" textLength="3.15" lengthAdjust="spacingAndGlyphs" stroke="#3a3a3a" stroke-width="0.08">1</text>
<line x1="322.00" y1="301.53" x2="325.00" y2="301.53" stroke="#222" stroke-width="0.8"/>
<text x="320.40" y="303.78" font-size="6.3" text-anchor="end" fill="#3a3a3a" textLength="3.15" lengthAdjust="spacingAndGlyphs" stroke="#3a3a3a" stroke-width="0.08">2</text>
<line x1="322.00" y1="290.75" x2="325.00" y2="290.75" stroke="#222" stroke-width="0.8"/>
<text x="320.40" y="293.00" font-size="6.3" text-anchor="end" fill="#3a3a3a" textLength="3.15" lengthAdjust="spacingAndGlyphs" stroke="#3a3a3a" stroke-width="0.08">3</text>
<line x1="322.00" y1="279.97" x2="325.00" y2="279.97" stroke="#222" stroke-width="0.8"/>
<text x="320.40" y="282.22" font-size="6.3" text-anchor="end" fill="#3a3a3a" textLength="3.15" lengthAdjust="spacingAndGlyphs" stroke="#3a3a3a" stroke-width="0.08">4</text>
<line x1="322.00" y1="269.18" x2="325.00" y2="269.18" stroke="#222" stroke-width="0.8"/>
<text x="320.40" y="271.43" font-size="6.3" text-anchor="end" fill="#3a3a3a" textLength="3.15" lengthAdjust="spacingAndGlyphs" stroke="#3a3a3a" stroke-width="0.08">5</text>
<line x1="322.00" y1="258.40" x2="325.00" y2="258.40" stroke="#222" stroke-width="0.8"/>
<text x="320.40" y="260.65" font-size="6.3" text-anchor="end" fill="#3a3a3a" textLength="3.15" lengthAdjust="spacingAndGlyphs" stroke="#3a3a3a" stroke-width="0.08">6</text>
<line x1="324.55" y1="323.10" x2="421.50" y2="323.10" stroke="#222" stroke-width="0.95"/>
<line x1="325.00" y1="323.10" x2="325.00" y2="326.10" stroke="#222" stroke-width="0.8"/>
<text x="325.00" y="335.40" font-size="6.3" text-anchor="middle" fill="#3a3a3a" textLength="3.15" lengthAdjust="spacingAndGlyphs" stroke="#3a3a3a" stroke-width="0.08">0</text>
<line x1="348.95" y1="323.10" x2="348.95" y2="326.10" stroke="#222" stroke-width="0.8"/>
<text x="348.95" y="335.40" font-size="6.3" text-anchor="middle" fill="#3a3a3a" textLength="6.3" lengthAdjust="spacingAndGlyphs" stroke="#3a3a3a" stroke-width="0.08">30</text>
<line x1="372.90" y1="323.10" x2="372.90" y2="326.10" stroke="#222" stroke-width="0.8"/>
<text x="372.90" y="335.40" font-size="6.3" text-anchor="middle" fill="#3a3a3a" textLength="6.3" lengthAdjust="spacingAndGlyphs" stroke="#3a3a3a" stroke-width="0.08">60</text>
<line x1="396.85" y1="323.10" x2="396.85" y2="326.10" stroke="#222" stroke-width="0.8"/>
<text x="396.85" y="335.40" font-size="6.3" text-anchor="middle" fill="#3a3a3a" textLength="6.3" lengthAdjust="spacingAndGlyphs" stroke="#3a3a3a" stroke-width="0.08">90</text>
<line x1="420.80" y1="323.10" x2="420.80" y2="326.10" stroke="#222" stroke-width="0.8"/>
<text x="420.80" y="335.40" font-size="6.3" text-anchor="middle" fill="#3a3a3a" textLength="9.45" lengthAdjust="spacingAndGlyphs" stroke="#3a3a3a" stroke-width="0.08">120</text>
<line x1="325.00" y1="323.10" x2="325.00" y2="324.50" stroke="#222" stroke-width="0.6"/>
<line x1="327.39" y1="323.10" x2="327.39" y2="324.50" stroke="#222" stroke-width="0.6"/>
<line x1="329.79" y1="323.10" x2="329.79" y2="324.50" stroke="#222" stroke-width="0.6"/>
<line x1="332.19" y1="323.10" x2="332.19" y2="324.50" stroke="#222" stroke-width="0.6"/>
<line x1="334.58" y1="323.10" x2="334.58" y2="324.50" stroke="#222" stroke-width="0.6"/>
<line x1="336.98" y1="323.10" x2="336.98" y2="324.50" stroke="#222" stroke-width="0.6"/>
<line x1="339.37" y1="323.10" x2="339.37" y2="324.50" stroke="#222" stroke-width="0.6"/>
<line x1="341.76" y1="323.10" x2="341.76" y2="324.50" stroke="#222" stroke-width="0.6"/>
<line x1="344.16" y1="323.10" x2="344.16" y2="324.50" stroke="#222" stroke-width="0.6"/>
<line x1="346.56" y1="323.10" x2="346.56" y2="324.50" stroke="#222" stroke-width="0.6"/>
<line x1="348.95" y1="323.10" x2="348.95" y2="324.50" stroke="#222" stroke-width="0.6"/>
<line x1="351.35" y1="323.10" x2="351.35" y2="324.50" stroke="#222" stroke-width="0.6"/>
<line x1="353.74" y1="323.10" x2="353.74" y2="324.50" stroke="#222" stroke-width="0.6"/>
<line x1="356.13" y1="323.10" x2="356.13" y2="324.50" stroke="#222" stroke-width="0.6"/>
<line x1="358.53" y1="323.10" x2="358.53" y2="324.50" stroke="#222" stroke-width="0.6"/>
<line x1="360.93" y1="323.10" x2="360.93" y2="324.50" stroke="#222" stroke-width="0.6"/>
<line x1="363.32" y1="323.10" x2="363.32" y2="324.50" stroke="#222" stroke-width="0.6"/>
<line x1="365.72" y1="323.10" x2="365.72" y2="324.50" stroke="#222" stroke-width="0.6"/>
<line x1="368.11" y1="323.10" x2="368.11" y2="324.50" stroke="#222" stroke-width="0.6"/>
<line x1="370.50" y1="323.10" x2="370.50" y2="324.50" stroke="#222" stroke-width="0.6"/>
<line x1="372.90" y1="323.10" x2="372.90" y2="324.50" stroke="#222" stroke-width="0.6"/>
<line x1="375.30" y1="323.10" x2="375.30" y2="324.50" stroke="#222" stroke-width="0.6"/>
<line x1="377.69" y1="323.10" x2="377.69" y2="324.50" stroke="#222" stroke-width="0.6"/>
<line x1="380.09" y1="323.10" x2="380.09" y2="324.50" stroke="#222" stroke-width="0.6"/>
<line x1="382.48" y1="323.10" x2="382.48" y2="324.50" stroke="#222" stroke-width="0.6"/>
<line x1="384.88" y1="323.10" x2="384.88" y2="324.50" stroke="#222" stroke-width="0.6"/>
<line x1="387.27" y1="323.10" x2="387.27" y2="324.50" stroke="#222" stroke-width="0.6"/>
<line x1="389.67" y1="323.10" x2="389.67" y2="324.50" stroke="#222" stroke-width="0.6"/>
<line x1="392.06" y1="323.10" x2="392.06" y2="324.50" stroke="#222" stroke-width="0.6"/>
<line x1="394.45" y1="323.10" x2="394.45" y2="324.50" stroke="#222" stroke-width="0.6"/>
<line x1="396.85" y1="323.10" x2="396.85" y2="324.50" stroke="#222" stroke-width="0.6"/>
<line x1="399.25" y1="323.10" x2="399.25" y2="324.50" stroke="#222" stroke-width="0.6"/>
<line x1="401.64" y1="323.10" x2="401.64" y2="324.50" stroke="#222" stroke-width="0.6"/>
<line x1="404.04" y1="323.10" x2="404.04" y2="324.50" stroke="#222" stroke-width="0.6"/>
<line x1="406.43" y1="323.10" x2="406.43" y2="324.50" stroke="#222" stroke-width="0.6"/>
<line x1="408.83" y1="323.10" x2="408.83" y2="324.50" stroke="#222" stroke-width="0.6"/>
<line x1="411.22" y1="323.10" x2="411.22" y2="324.50" stroke="#222" stroke-width="0.6"/>
<line x1="413.62" y1="323.10" x2="413.62" y2="324.50" stroke="#222" stroke-width="0.6"/>
<line x1="416.01" y1="323.10" x2="416.01" y2="324.50" stroke="#222" stroke-width="0.6"/>
<line x1="418.41" y1="323.10" x2="418.41" y2="324.50" stroke="#222" stroke-width="0.6"/>
<line x1="420.80" y1="323.10" x2="420.80" y2="324.50" stroke="#222" stroke-width="0.6"/>
<text x="308.40" y="290.10" font-size="8.0" text-anchor="middle" fill="#3a3a3a" textLength="16.3" lengthAdjust="spacingAndGlyphs" transform="rotate(-90 308.40 290.10)" stroke="#3a3a3a" stroke-width="0.18">Mean</text>
<text x="374.60" y="346.80" font-size="8.0" text-anchor="middle" fill="#3a3a3a" textLength="62.4" lengthAdjust="spacingAndGlyphs" stroke="#3a3a3a" stroke-width="0.18">Days post-transplant</text>
<text x="448.80" y="131.00" font-size="7.5" text-anchor="start" fill="#3a3a3a" textLength="52.9" lengthAdjust="spacingAndGlyphs" stroke="#3a3a3a" stroke-width="0.18">Syngeneic HCT</text>
<line x1="448.80" y1="132.90" x2="501.70" y2="132.90" stroke="#333" stroke-width="0.6"/>
<rect x="437.60" y="142.30" width="5.90" height="5.90" fill="#5a3212" stroke="none" stroke-width="0.6"/>
<text x="446.60" y="144.20" font-size="6.0" text-anchor="start" fill="#3a3a3a" stroke="#3a3a3a" stroke-width="0.08">E2a-PBX, Syn BM/Splen,</text>
<text x="446.60" y="150.90" font-size="6.0" text-anchor="start" fill="#3a3a3a" stroke="#3a3a3a" stroke-width="0.08">PTCy, NT D5</text>
<rect x="437.60" y="163.70" width="5.90" height="5.90" fill="#f5a01a" stroke="none" stroke-width="0.6"/>
<text x="446.60" y="164.70" font-size="6.0" text-anchor="start" fill="#3a3a3a" stroke="#3a3a3a" stroke-width="0.08">E2a-PBX, Syn BM/Splen,</text>
<text x="446.60" y="172.00" font-size="6.0" text-anchor="start" fill="#3a3a3a" stroke="#3a3a3a" stroke-width="0.08">PTCy, CAR D5</text>
<rect x="437.60" y="184.00" width="5.90" height="5.90" fill="#3aad48" stroke="none" stroke-width="0.6"/>
<text x="446.60" y="185.50" font-size="6.0" text-anchor="start" fill="#3a3a3a" stroke="#3a3a3a" stroke-width="0.08">E2a-PBX, Syn BM/Splen,</text>
<text x="446.60" y="192.20" font-size="6.0" text-anchor="start" fill="#3a3a3a" stroke="#3a3a3a" stroke-width="0.08">No PTCy, CAR D5</text>
<text x="448.80" y="254.40" font-size="7.5" text-anchor="start" fill="#3a3a3a" textLength="53.9" lengthAdjust="spacingAndGlyphs" stroke="#3a3a3a" stroke-width="0.18">Allogeneic HCT</text>
<line x1="448.80" y1="256.30" x2="502.70" y2="256.30" stroke="#333" stroke-width="0.6"/>
<rect x="437.60" y="262.00" width="5.90" height="5.90" fill="#4f2170" stroke="none" stroke-width="0.6"/>
<text x="446.60" y="267.00" font-size="6.0" text-anchor="start" fill="#3a3a3a" stroke="#3a3a3a" stroke-width="0.08">Allo BM/Splen</text>
<rect x="437.60" y="278.30" width="5.90" height="5.90" fill="#c9c9c9" stroke="none" stroke-width="0.6"/>
<text x="446.60" y="279.20" font-size="6.0" text-anchor="start" fill="#3a3a3a" stroke="#3a3a3a" stroke-width="0.08">E2a-PBX, Allo BM/Splen,</text>
<text x="446.60" y="286.20" font-size="6.0" text-anchor="start" fill="#3a3a3a" stroke="#3a3a3a" stroke-width="0.08">PTCy, NT D5</text>
<rect x="437.60" y="298.00" width="5.90" height="5.90" fill="#c8102e" stroke="none" stroke-width="0.6"/>
<text x="446.60" y="299.70" font-size="6.0" text-anchor="start" fill="#3a3a3a" stroke="#3a3a3a" stroke-width="0.08">E2a-PBX, Allo BM/Splen,</text>
<text x="446.60" y="306.00" font-size="6.0" text-anchor="start" fill="#3a3a3a" stroke="#3a3a3a" stroke-width="0.08">PTCy, CAR D5</text>
<rect x="437.60" y="315.00" width="5.90" height="5.90" fill="#1d4889" stroke="none" stroke-width="0.6"/>
<text x="446.60" y="319.90" font-size="6.0" text-anchor="start" fill="#3a3a3a" stroke="#3a3a3a" stroke-width="0.08">E2a-PBX, Allo BM, CAR D5</text>
<text x="259.50" y="367.40" font-size="8.9" text-anchor="middle" fill="#3a3a3a" textLength="35.3" lengthAdjust="spacingAndGlyphs" stroke="#3a3a3a" stroke-width="0.18">Day +21</text>
<text x="6.00" y="382.60" font-size="11.2" text-anchor="start" fill="#111" font-weight="bold" stroke="#111" stroke-width="0.18">F</text>
<text x="76.20" y="393.10" font-size="8.4" text-anchor="middle" fill="#3a3a3a" textLength="69.3" lengthAdjust="spacingAndGlyphs" stroke="#3a3a3a" stroke-width="0.18">CD4<tspan dy="-2.8" font-size="5.2">+</tspan><tspan dy="2.8"> CAR-T cells</tspan></text>
<line x1="40.40" y1="430.50" x2="40.40" y2="441.70" stroke="#1d4889" stroke-width="0.8"/>
<line x1="38.80" y1="430.50" x2="42.00" y2="430.50" stroke="#1d4889" stroke-width="0.8"/>
<line x1="38.80" y1="441.70" x2="42.00" y2="441.70" stroke="#1d4889" stroke-width="0.8"/>
<rect x="38.20" y="434.80" width="4.40" height="5.20" fill="#1d4889" fill-opacity="0.5" stroke="#1d4889" stroke-width="0.7"/>
<line x1="38.20" y1="437.40" x2="42.60" y2="437.40" stroke="#1d4889" stroke-width="0.8"/>
<circle cx="40.27" cy="430.50" r="1.05" fill="#1d4889"/>
<circle cx="40.49" cy="441.70" r="1.05" fill="#1d4889"/>
<circle cx="41.57" cy="437.29" r="1.05" fill="#1d4889"/>
<circle cx="41.39" cy="438.44" r="1.05" fill="#1d4889"/>
<circle cx="39.77" cy="439.70" r="1.05" fill="#1d4889"/>
<circle cx="41.57" cy="437.71" r="1.05" fill="#1d4889"/>
<circle cx="39.44" cy="439.17" r="1.05" fill="#1d4889"/>
<circle cx="40.25" cy="435.43" r="1.05" fill="#1d4889"/>
<line x1="47.30" y1="436.50" x2="47.30" y2="454.70" stroke="#c8102e" stroke-width="0.8"/>
<line x1="45.70" y1="436.50" x2="48.90" y2="436.50" stroke="#c8102e" stroke-width="0.8"/>
<line x1="45.70" y1="454.70" x2="48.90" y2="454.70" stroke="#c8102e" stroke-width="0.8"/>
<rect x="45.10" y="441.70" width="4.40" height="11.30" fill="#c8102e" fill-opacity="0.5" stroke="#c8102e" stroke-width="0.7"/>
<line x1="45.10" y1="447.35" x2="49.50" y2="447.35" stroke="#c8102e" stroke-width="0.8"/>
<circle cx="46.17" cy="436.50" r="1.05" fill="#c8102e"/>
<circle cx="46.62" cy="454.70" r="1.05" fill="#c8102e"/>
<circle cx="47.75" cy="442.53" r="1.05" fill="#c8102e"/>
<circle cx="48.35" cy="450.56" r="1.05" fill="#c8102e"/>
<circle cx="47.87" cy="443.45" r="1.05" fill="#c8102e"/>
<circle cx="46.36" cy="449.16" r="1.05" fill="#c8102e"/>
<circle cx="48.53" cy="451.68" r="1.05" fill="#c8102e"/>
<circle cx="48.49" cy="444.18" r="1.05" fill="#c8102e"/>
<line x1="55.10" y1="427.90" x2="55.10" y2="442.60" stroke="#3ea8e2" stroke-width="0.8"/>
<line x1="53.50" y1="427.90" x2="56.70" y2="427.90" stroke="#3ea8e2" stroke-width="0.8"/>
<line x1="53.50" y1="442.60" x2="56.70" y2="442.60" stroke="#3ea8e2" stroke-width="0.8"/>
<rect x="52.90" y="427.90" width="4.40" height="6.10" fill="#3ea8e2" fill-opacity="0.5" stroke="#3ea8e2" stroke-width="0.7"/>
<line x1="52.90" y1="430.95" x2="57.30" y2="430.95" stroke="#3ea8e2" stroke-width="0.8"/>
<circle cx="54.83" cy="427.90" r="1.05" fill="#3ea8e2"/>
<circle cx="55.07" cy="442.60" r="1.05" fill="#3ea8e2"/>
<circle cx="55.98" cy="433.94" r="1.05" fill="#3ea8e2"/>
<circle cx="54.92" cy="428.88" r="1.05" fill="#3ea8e2"/>
<circle cx="54.68" cy="431.05" r="1.05" fill="#3ea8e2"/>
<circle cx="54.62" cy="429.09" r="1.05" fill="#3ea8e2"/>
<circle cx="53.83" cy="432.31" r="1.05" fill="#3ea8e2"/>
<circle cx="54.94" cy="431.28" r="1.05" fill="#3ea8e2"/>
<line x1="62.50" y1="439.70" x2="62.50" y2="455.60" stroke="#f5a01a" stroke-width="0.8"/>
<line x1="60.90" y1="439.70" x2="64.10" y2="439.70" stroke="#f5a01a" stroke-width="0.8"/>
<line x1="60.90" y1="455.60" x2="64.10" y2="455.60" stroke="#f5a01a" stroke-width="0.8"/>
<rect x="60.30" y="440.00" width="4.40" height="7.00" fill="#f5a01a" fill-opacity="0.5" stroke="#f5a01a" stroke-width="0.7"/>
<line x1="60.30" y1="443.50" x2="64.70" y2="443.50" stroke="#f5a01a" stroke-width="0.8"/>
<circle cx="61.23" cy="439.70" r="1.05" fill="#f5a01a"/>
<circle cx="62.06" cy="455.60" r="1.05" fill="#f5a01a"/>
<circle cx="62.53" cy="444.37" r="1.05" fill="#f5a01a"/>
<circle cx="63.78" cy="440.45" r="1.05" fill="#f5a01a"/>
<circle cx="63.75" cy="445.52" r="1.05" fill="#f5a01a"/>
<circle cx="61.88" cy="440.73" r="1.05" fill="#f5a01a"/>
<circle cx="63.24" cy="440.28" r="1.05" fill="#f5a01a"/>
<circle cx="61.52" cy="441.89" r="1.05" fill="#f5a01a"/>
<line x1="70.20" y1="427.50" x2="70.20" y2="437.40" stroke="#3aad48" stroke-width="0.8"/>
<line x1="68.60" y1="427.50" x2="71.80" y2="427.50" stroke="#3aad48" stroke-width="0.8"/>
<line x1="68.60" y1="437.40" x2="71.80" y2="437.40" stroke="#3aad48" stroke-width="0.8"/>
<rect x="68.00" y="428.70" width="4.40" height="7.80" fill="#3aad48" fill-opacity="0.5" stroke="#3aad48" stroke-width="0.7"/>
<line x1="68.00" y1="432.60" x2="72.40" y2="432.60" stroke="#3aad48" stroke-width="0.8"/>
<circle cx="69.99" cy="427.50" r="1.05" fill="#3aad48"/>
<circle cx="71.29" cy="437.40" r="1.05" fill="#3aad48"/>
<circle cx="69.56" cy="435.09" r="1.05" fill="#3aad48"/>
<circle cx="71.31" cy="429.87" r="1.05" fill="#3aad48"/>
<circle cx="70.73" cy="433.15" r="1.05" fill="#3aad48"/>
<circle cx="69.03" cy="429.40" r="1.05" fill="#3aad48"/>
<circle cx="70.00" cy="434.07" r="1.05" fill="#3aad48"/>
<circle cx="71.36" cy="429.26" r="1.05" fill="#3aad48"/>
<line x1="82.80" y1="417.80" x2="82.80" y2="437.40" stroke="#1d4889" stroke-width="0.8"/>
<line x1="81.20" y1="417.80" x2="84.40" y2="417.80" stroke="#1d4889" stroke-width="0.8"/>
<line x1="81.20" y1="437.40" x2="84.40" y2="437.40" stroke="#1d4889" stroke-width="0.8"/>
<rect x="80.60" y="423.60" width="4.40" height="7.70" fill="#1d4889" fill-opacity="0.5" stroke="#1d4889" stroke-width="0.7"/>
<line x1="80.60" y1="427.45" x2="85.00" y2="427.45" stroke="#1d4889" stroke-width="0.8"/>
<circle cx="83.15" cy="417.80" r="1.05" fill="#1d4889"/>
<circle cx="83.60" cy="437.40" r="1.05" fill="#1d4889"/>
<circle cx="83.74" cy="424.24" r="1.05" fill="#1d4889"/>
<circle cx="83.76" cy="424.11" r="1.05" fill="#1d4889"/>
<circle cx="82.38" cy="427.09" r="1.05" fill="#1d4889"/>
<circle cx="83.93" cy="427.86" r="1.05" fill="#1d4889"/>
<circle cx="81.82" cy="425.66" r="1.05" fill="#1d4889"/>
<circle cx="82.11" cy="427.66" r="1.05" fill="#1d4889"/>
<line x1="90.20" y1="439.10" x2="90.20" y2="451.20" stroke="#c8102e" stroke-width="0.8"/>
<line x1="88.60" y1="439.10" x2="91.80" y2="439.10" stroke="#c8102e" stroke-width="0.8"/>
<line x1="88.60" y1="451.20" x2="91.80" y2="451.20" stroke="#c8102e" stroke-width="0.8"/>
<rect x="88.00" y="440.00" width="4.40" height="6.00" fill="#c8102e" fill-opacity="0.5" stroke="#c8102e" stroke-width="0.7"/>
<line x1="88.00" y1="443.00" x2="92.40" y2="443.00" stroke="#c8102e" stroke-width="0.8"/>
<circle cx="89.17" cy="439.10" r="1.05" fill="#c8102e"/>
<circle cx="89.31" cy="451.20" r="1.05" fill="#c8102e"/>
<circle cx="89.41" cy="440.30" r="1.05" fill="#c8102e"/>
<circle cx="89.69" cy="441.87" r="1.05" fill="#c8102e"/>
<circle cx="89.65" cy="444.56" r="1.05" fill="#c8102e"/>
<circle cx="89.35" cy="443.00" r="1.05" fill="#c8102e"/>
<circle cx="88.93" cy="442.08" r="1.05" fill="#c8102e"/>
<circle cx="88.92" cy="441.50" r="1.05" fill="#c8102e"/>
<line x1="98.00" y1="418.90" x2="98.00" y2="428.70" stroke="#3ea8e2" stroke-width="0.8"/>
<line x1="96.40" y1="418.90" x2="99.60" y2="418.90" stroke="#3ea8e2" stroke-width="0.8"/>
<line x1="96.40" y1="428.70" x2="99.60" y2="428.70" stroke="#3ea8e2" stroke-width="0.8"/>
<rect x="95.80" y="424.40" width="4.40" height="4.30" fill="#3ea8e2" fill-opacity="0.5" stroke="#3ea8e2" stroke-width="0.7"/>
<line x1="95.80" y1="426.55" x2="100.20" y2="426.55" stroke="#3ea8e2" stroke-width="0.8"/>
<circle cx="98.62" cy="418.90" r="1.05" fill="#3ea8e2"/>
<circle cx="98.13" cy="428.70" r="1.05" fill="#3ea8e2"/>
<circle cx="97.93" cy="425.21" r="1.05" fill="#3ea8e2"/>
<circle cx="96.96" cy="428.42" r="1.05" fill="#3ea8e2"/>
<circle cx="97.82" cy="427.92" r="1.05" fill="#3ea8e2"/>
<circle cx="98.88" cy="426.53" r="1.05" fill="#3ea8e2"/>
<circle cx="98.02" cy="426.09" r="1.05" fill="#3ea8e2"/>
<circle cx="99.27" cy="427.36" r="1.05" fill="#3ea8e2"/>
<line x1="105.30" y1="431.70" x2="105.30" y2="440.30" stroke="#f5a01a" stroke-width="0.8"/>
<line x1="103.70" y1="431.70" x2="106.90" y2="431.70" stroke="#f5a01a" stroke-width="0.8"/>
<line x1="103.70" y1="440.30" x2="106.90" y2="440.30" stroke="#f5a01a" stroke-width="0.8"/>
<rect x="103.10" y="434.00" width="4.40" height="5.70" fill="#f5a01a" fill-opacity="0.5" stroke="#f5a01a" stroke-width="0.7"/>
<line x1="103.10" y1="436.85" x2="107.50" y2="436.85" stroke="#f5a01a" stroke-width="0.8"/>
<circle cx="104.88" cy="431.70" r="1.05" fill="#f5a01a"/>
<circle cx="106.18" cy="440.30" r="1.05" fill="#f5a01a"/>
<circle cx="105.66" cy="438.03" r="1.05" fill="#f5a01a"/>
<circle cx="104.90" cy="436.31" r="1.05" fill="#f5a01a"/>
<circle cx="104.32" cy="434.31" r="1.05" fill="#f5a01a"/>
<circle cx="105.94" cy="434.40" r="1.05" fill="#f5a01a"/>
<circle cx="104.41" cy="435.46" r="1.05" fill="#f5a01a"/>
<circle cx="106.20" cy="434.48" r="1.05" fill="#f5a01a"/>
<line x1="112.70" y1="415.80" x2="112.70" y2="428.70" stroke="#3aad48" stroke-width="0.8"/>
<line x1="111.10" y1="415.80" x2="114.30" y2="415.80" stroke="#3aad48" stroke-width="0.8"/>
<line x1="111.10" y1="428.70" x2="114.30" y2="428.70" stroke="#3aad48" stroke-width="0.8"/>
<rect x="110.50" y="420.00" width="4.40" height="7.90" fill="#3aad48" fill-opacity="0.5" stroke="#3aad48" stroke-width="0.7"/>
<line x1="110.50" y1="423.95" x2="114.90" y2="423.95" stroke="#3aad48" stroke-width="0.8"/>
<circle cx="113.68" cy="415.80" r="1.05" fill="#3aad48"/>
<circle cx="113.15" cy="428.70" r="1.05" fill="#3aad48"/>
<circle cx="112.02" cy="422.23" r="1.05" fill="#3aad48"/>
<circle cx="112.59" cy="422.32" r="1.05" fill="#3aad48"/>
<circle cx="112.56" cy="421.24" r="1.05" fill="#3aad48"/>
<circle cx="113.92" cy="422.08" r="1.05" fill="#3aad48"/>
<circle cx="112.82" cy="427.68" r="1.05" fill="#3aad48"/>
<circle cx="113.93" cy="421.93" r="1.05" fill="#3aad48"/>
<line x1="33.80" y1="403.50" x2="33.80" y2="463.85" stroke="#222" stroke-width="0.95"/>
<line x1="31.80" y1="405.40" x2="33.80" y2="405.40" stroke="#222" stroke-width="0.8"/>
<text x="26.80" y="407.50" font-size="6.4" text-anchor="end" fill="#3a3a3a" textLength="8.2" lengthAdjust="spacingAndGlyphs" stroke="#3a3a3a" stroke-width="0.08">10<tspan dy="-2.6" font-size="4.0">6</tspan></text>
<line x1="31.80" y1="420.10" x2="33.80" y2="420.10" stroke="#222" stroke-width="0.8"/>
<text x="26.80" y="422.20" font-size="6.4" text-anchor="end" fill="#3a3a3a" textLength="8.2" lengthAdjust="spacingAndGlyphs" stroke="#3a3a3a" stroke-width="0.08">10<tspan dy="-2.6" font-size="4.0">5</tspan></text>
<line x1="31.80" y1="434.50" x2="33.80" y2="434.50" stroke="#222" stroke-width="0.8"/>
<text x="26.80" y="436.60" font-size="6.4" text-anchor="end" fill="#3a3a3a" textLength="8.2" lengthAdjust="spacingAndGlyphs" stroke="#3a3a3a" stroke-width="0.08">10<tspan dy="-2.6" font-size="4.0">4</tspan></text>
<line x1="31.80" y1="449.00" x2="33.80" y2="449.00" stroke="#222" stroke-width="0.8"/>
<text x="26.80" y="451.10" font-size="6.4" text-anchor="end" fill="#3a3a3a" textLength="8.2" lengthAdjust="spacingAndGlyphs" stroke="#3a3a3a" stroke-width="0.08">10<tspan dy="-2.6" font-size="4.0">3</tspan></text>
<line x1="31.80" y1="463.40" x2="33.80" y2="463.40" stroke="#222" stroke-width="0.8"/>
<text x="26.80" y="465.50" font-size="6.4" text-anchor="end" fill="#3a3a3a" textLength="8.2" lengthAdjust="spacingAndGlyphs" stroke="#3a3a3a" stroke-width="0.08">10<tspan dy="-2.6" font-size="4.0">2</tspan></text>
<line x1="33.40" y1="463.40" x2="119.00" y2="463.40" stroke="#222" stroke-width="0.95"/>
<line x1="55.60" y1="463.40" x2="55.60" y2="466.00" stroke="#222" stroke-width="0.8"/>
<line x1="97.80" y1="463.40" x2="97.80" y2="466.00" stroke="#222" stroke-width="0.8"/>
<text x="55.60" y="475.50" font-size="6.3" text-anchor="middle" fill="#3a3a3a" stroke="#3a3a3a" stroke-width="0.08">BM</text>
<text x="97.80" y="475.50" font-size="6.3" text-anchor="middle" fill="#3a3a3a" stroke="#3a3a3a" stroke-width="0.08">Spleen</text>
<text x="13.60" y="430.90" font-size="8.4" text-anchor="middle" fill="#3a3a3a" textLength="69.5" lengthAdjust="spacingAndGlyphs" transform="rotate(-90 13.60 430.90)" stroke="#3a3a3a" stroke-width="0.18"># of CD4<tspan dy="-2.3" font-size="4.8">+</tspan><tspan dy="2.3"> CAR-T cells</tspan></text>
<text x="156.20" y="382.60" font-size="11.2" text-anchor="start" fill="#111" font-weight="bold" stroke="#111" stroke-width="0.18">G</text>
<text x="228.10" y="393.10" font-size="8.4" text-anchor="middle" fill="#3a3a3a" textLength="70.2" lengthAdjust="spacingAndGlyphs" stroke="#3a3a3a" stroke-width="0.18">CD8<tspan dy="-2.8" font-size="5.2">+</tspan><tspan dy="2.8"> CAR-T cells</tspan></text>
<line x1="192.40" y1="426.50" x2="192.40" y2="442.60" stroke="#1d4889" stroke-width="0.8"/>
<line x1="190.80" y1="426.50" x2="194.00" y2="426.50" stroke="#1d4889" stroke-width="0.8"/>
<line x1="190.80" y1="442.60" x2="194.00" y2="442.60" stroke="#1d4889" stroke-width="0.8"/>
<rect x="190.20" y="430.50" width="4.40" height="8.60" fill="#1d4889" fill-opacity="0.5" stroke="#1d4889" stroke-width="0.7"/>
<line x1="190.20" y1="434.80" x2="194.60" y2="434.80" stroke="#1d4889" stroke-width="0.8"/>
<circle cx="191.90" cy="426.50" r="1.05" fill="#1d4889"/>
<circle cx="192.02" cy="442.60" r="1.05" fill="#1d4889"/>
<circle cx="192.09" cy="430.51" r="1.05" fill="#1d4889"/>
<circle cx="192.41" cy="434.58" r="1.05" fill="#1d4889"/>
<circle cx="192.41" cy="432.23" r="1.05" fill="#1d4889"/>
<circle cx="191.78" cy="430.54" r="1.05" fill="#1d4889"/>
<circle cx="192.13" cy="431.27" r="1.05" fill="#1d4889"/>
<circle cx="191.14" cy="430.86" r="1.05" fill="#1d4889"/>
<line x1="199.70" y1="427.50" x2="199.70" y2="447.00" stroke="#c8102e" stroke-width="0.8"/>
<line x1="198.10" y1="427.50" x2="201.30" y2="427.50" stroke="#c8102e" stroke-width="0.8"/>
<line x1="198.10" y1="447.00" x2="201.30" y2="447.00" stroke="#c8102e" stroke-width="0.8"/>
<rect x="197.50" y="435.70" width="4.40" height="9.50" fill="#c8102e" fill-opacity="0.5" stroke="#c8102e" stroke-width="0.7"/>
<line x1="197.50" y1="440.45" x2="201.90" y2="440.45" stroke="#c8102e" stroke-width="0.8"/>
<circle cx="199.18" cy="427.50" r="1.05" fill="#c8102e"/>
<circle cx="198.99" cy="447.00" r="1.05" fill="#c8102e"/>
<circle cx="199.78" cy="441.26" r="1.05" fill="#c8102e"/>
<circle cx="200.12" cy="442.83" r="1.05" fill="#c8102e"/>
<circle cx="200.70" cy="442.50" r="1.05" fill="#c8102e"/>
<circle cx="199.24" cy="439.40" r="1.05" fill="#c8102e"/>
<circle cx="198.77" cy="445.05" r="1.05" fill="#c8102e"/>
<circle cx="200.08" cy="442.58" r="1.05" fill="#c8102e"/>
<line x1="207.10" y1="421.80" x2="207.10" y2="445.50" stroke="#3ea8e2" stroke-width="0.8"/>
<line x1="205.50" y1="421.80" x2="208.70" y2="421.80" stroke="#3ea8e2" stroke-width="0.8"/>
<line x1="205.50" y1="445.50" x2="208.70" y2="445.50" stroke="#3ea8e2" stroke-width="0.8"/>
<rect x="204.90" y="424.40" width="4.40" height="12.10" fill="#3ea8e2" fill-opacity="0.5" stroke="#3ea8e2" stroke-width="0.7"/>
<line x1="204.90" y1="430.45" x2="209.30" y2="430.45" stroke="#3ea8e2" stroke-width="0.8"/>
<circle cx="205.90" cy="421.80" r="1.05" fill="#3ea8e2"/>
<circle cx="207.99" cy="445.50" r="1.05" fill="#3ea8e2"/>
<circle cx="207.44" cy="435.19" r="1.05" fill="#3ea8e2"/>
<circle cx="207.92" cy="433.28" r="1.05" fill="#3ea8e2"/>
<circle cx="207.16" cy="426.09" r="1.05" fill="#3ea8e2"/>
<circle cx="207.98" cy="430.50" r="1.05" fill="#3ea8e2"/>
<circle cx="207.96" cy="434.14" r="1.05" fill="#3ea8e2"/>
<circle cx="208.14" cy="431.47" r="1.05" fill="#3ea8e2"/>
<line x1="214.50" y1="435.70" x2="214.50" y2="457.70" stroke="#f5a01a" stroke-width="0.8"/>
<line x1="212.90" y1="435.70" x2="216.10" y2="435.70" stroke="#f5a01a" stroke-width="0.8"/>
<line x1="212.90" y1="457.70" x2="216.10" y2="457.70" stroke="#f5a01a" stroke-width="0.8"/>
<rect x="212.30" y="439.10" width="4.40" height="5.20" fill="#f5a01a" fill-opacity="0.5" stroke="#f5a01a" stroke-width="0.7"/>
<line x1="212.30" y1="441.70" x2="216.70" y2="441.70" stroke="#f5a01a" stroke-width="0.8"/>
<circle cx="214.98" cy="435.70" r="1.05" fill="#f5a01a"/>
<circle cx="215.01" cy="457.70" r="1.05" fill="#f5a01a"/>
<circle cx="213.26" cy="440.30" r="1.05" fill="#f5a01a"/>
<circle cx="214.13" cy="439.79" r="1.05" fill="#f5a01a"/>
<circle cx="215.39" cy="439.65" r="1.05" fill="#f5a01a"/>
<circle cx="214.84" cy="442.00" r="1.05" fill="#f5a01a"/>
<circle cx="214.98" cy="442.36" r="1.05" fill="#f5a01a"/>
<circle cx="213.19" cy="441.64" r="1.05" fill="#f5a01a"/>
<line x1="222.20" y1="427.00" x2="222.20" y2="435.20" stroke="#3aad48" stroke-width="0.8"/>
<line x1="220.60" y1="427.00" x2="223.80" y2="427.00" stroke="#3aad48" stroke-width="0.8"/>
<line x1="220.60" y1="435.20" x2="223.80" y2="435.20" stroke="#3aad48" stroke-width="0.8"/>
<rect x="220.00" y="428.70" width="4.40" height="5.80" fill="#3aad48" fill-opacity="0.5" stroke="#3aad48" stroke-width="0.7"/>
<line x1="220.00" y1="431.60" x2="224.40" y2="431.60" stroke="#3aad48" stroke-width="0.8"/>
<circle cx="222.99" cy="427.00" r="1.05" fill="#3aad48"/>
<circle cx="222.86" cy="435.20" r="1.05" fill="#3aad48"/>
<circle cx="222.29" cy="431.62" r="1.05" fill="#3aad48"/>
<circle cx="221.05" cy="432.52" r="1.05" fill="#3aad48"/>
<circle cx="221.55" cy="432.97" r="1.05" fill="#3aad48"/>
<circle cx="221.58" cy="429.13" r="1.05" fill="#3aad48"/>
<circle cx="221.42" cy="432.93" r="1.05" fill="#3aad48"/>
<circle cx="223.46" cy="432.99" r="1.05" fill="#3aad48"/>
<line x1="234.80" y1="419.20" x2="234.80" y2="439.70" stroke="#1d4889" stroke-width="0.8"/>
<line x1="233.20" y1="419.20" x2="236.40" y2="419.20" stroke="#1d4889" stroke-width="0.8"/>
<line x1="233.20" y1="439.70" x2="236.40" y2="439.70" stroke="#1d4889" stroke-width="0.8"/>
<rect x="232.60" y="424.40" width="4.40" height="4.30" fill="#1d4889" fill-opacity="0.5" stroke="#1d4889" stroke-width="0.7"/>
<line x1="232.60" y1="426.55" x2="237.00" y2="426.55" stroke="#1d4889" stroke-width="0.8"/>
<circle cx="234.78" cy="419.20" r="1.05" fill="#1d4889"/>
<circle cx="234.49" cy="439.70" r="1.05" fill="#1d4889"/>
<circle cx="235.28" cy="426.46" r="1.05" fill="#1d4889"/>
<circle cx="235.11" cy="427.70" r="1.05" fill="#1d4889"/>
<circle cx="233.68" cy="427.16" r="1.05" fill="#1d4889"/>
<circle cx="234.15" cy="425.03" r="1.05" fill="#1d4889"/>
<circle cx="234.28" cy="427.60" r="1.05" fill="#1d4889"/>
<circle cx="233.51" cy="426.84" r="1.05" fill="#1d4889"/>
<line x1="242.60" y1="436.50" x2="242.60" y2="449.00" stroke="#c8102e" stroke-width="0.8"/>
<line x1="241.00" y1="436.50" x2="244.20" y2="436.50" stroke="#c8102e" stroke-width="0.8"/>
<line x1="241.00" y1="449.00" x2="244.20" y2="449.00" stroke="#c8102e" stroke-width="0.8"/>
<rect x="240.40" y="440.00" width="4.40" height="7.80" fill="#c8102e" fill-opacity="0.5" stroke="#c8102e" stroke-width="0.7"/>
<line x1="240.40" y1="443.90" x2="244.80" y2="443.90" stroke="#c8102e" stroke-width="0.8"/>
<circle cx="241.44" cy="436.50" r="1.05" fill="#c8102e"/>
<circle cx="241.99" cy="449.00" r="1.05" fill="#c8102e"/>
<circle cx="243.11" cy="445.24" r="1.05" fill="#c8102e"/>
<circle cx="242.05" cy="445.27" r="1.05" fill="#c8102e"/>
<circle cx="242.51" cy="444.03" r="1.05" fill="#c8102e"/>
<circle cx="241.59" cy="443.64" r="1.05" fill="#c8102e"/>
<circle cx="241.81" cy="446.97" r="1.05" fill="#c8102e"/>
<circle cx="243.75" cy="447.63" r="1.05" fill="#c8102e"/>
<line x1="250.00" y1="413.70" x2="250.00" y2="427.00" stroke="#3ea8e2" stroke-width="0.8"/>
<line x1="248.40" y1="413.70" x2="251.60" y2="413.70" stroke="#3ea8e2" stroke-width="0.8"/>
<line x1="248.40" y1="427.00" x2="251.60" y2="427.00" stroke="#3ea8e2" stroke-width="0.8"/>
<rect x="247.80" y="417.50" width="4.40" height="3.80" fill="#3ea8e2" fill-opacity="0.5" stroke="#3ea8e2" stroke-width="0.7"/>
<line x1="247.80" y1="419.40" x2="252.20" y2="419.40" stroke="#3ea8e2" stroke-width="0.8"/>
<circle cx="248.73" cy="413.70" r="1.05" fill="#3ea8e2"/>
<circle cx="249.89" cy="427.00" r="1.05" fill="#3ea8e2"/>
<circle cx="251.24" cy="420.62" r="1.05" fill="#3ea8e2"/>
<circle cx="249.39" cy="419.21" r="1.05" fill="#3ea8e2"/>
<circle cx="251.18" cy="418.30" r="1.05" fill="#3ea8e2"/>
<circle cx="250.22" cy="418.30" r="1.05" fill="#3ea8e2"/>
<circle cx="250.06" cy="418.04" r="1.05" fill="#3ea8e2"/>
<circle cx="249.03" cy="421.12" r="1.05" fill="#3ea8e2"/>
<line x1="257.60" y1="427.90" x2="257.60" y2="439.10" stroke="#f5a01a" stroke-width="0.8"/>
<line x1="256.00" y1="427.90" x2="259.20" y2="427.90" stroke="#f5a01a" stroke-width="0.8"/>
<line x1="256.00" y1="439.10" x2="259.20" y2="439.10" stroke="#f5a01a" stroke-width="0.8"/>
<rect x="255.40" y="429.60" width="4.40" height="7.80" fill="#f5a01a" fill-opacity="0.5" stroke="#f5a01a" stroke-width="0.7"/>
<line x1="255.40" y1="433.50" x2="259.80" y2="433.50" stroke="#f5a01a" stroke-width="0.8"/>
<circle cx="258.45" cy="427.90" r="1.05" fill="#f5a01a"/>
<circle cx="257.62" cy="439.10" r="1.05" fill="#f5a01a"/>
<circle cx="258.14" cy="436.52" r="1.05" fill="#f5a01a"/>
<circle cx="258.65" cy="431.40" r="1.05" fill="#f5a01a"/>
<circle cx="256.35" cy="433.39" r="1.05" fill="#f5a01a"/>
<circle cx="257.58" cy="429.63" r="1.05" fill="#f5a01a"/>
<circle cx="257.08" cy="433.12" r="1.05" fill="#f5a01a"/>
<circle cx="257.19" cy="430.70" r="1.05" fill="#f5a01a"/>
<line x1="265.10" y1="417.80" x2="265.10" y2="426.20" stroke="#3aad48" stroke-width="0.8"/>
<line x1="263.50" y1="417.80" x2="266.70" y2="417.80" stroke="#3aad48" stroke-width="0.8"/>
<line x1="263.50" y1="426.20" x2="266.70" y2="426.20" stroke="#3aad48" stroke-width="0.8"/>
<rect x="262.90" y="420.00" width="4.40" height="5.80" fill="#3aad48" fill-opacity="0.5" stroke="#3aad48" stroke-width="0.7"/>
<line x1="262.90" y1="422.90" x2="267.30" y2="422.90" stroke="#3aad48" stroke-width="0.8"/>
<circle cx="264.61" cy="417.80" r="1.05" fill="#3aad48"/>
<circle cx="266.00" cy="426.20" r="1.05" fill="#3aad48"/>
<circle cx="265.76" cy="420.01" r="1.05" fill="#3aad48"/>
<circle cx="264.10" cy="424.87" r="1.05" fill="#3aad48"/>
<circle cx="265.66" cy="425.37" r="1.05" fill="#3aad48"/>
<circle cx="264.55" cy="425.23" r="1.05" fill="#3aad48"/>
<circle cx="264.82" cy="422.16" r="1.05" fill="#3aad48"/>
<circle cx="265.34" cy="425.79" r="1.05" fill="#3aad48"/>
<line x1="185.80" y1="403.50" x2="185.80" y2="463.85" stroke="#222" stroke-width="0.95"/>
<line x1="183.80" y1="405.40" x2="185.80" y2="405.40" stroke="#222" stroke-width="0.8"/>
<text x="178.80" y="407.50" font-size="6.4" text-anchor="end" fill="#3a3a3a" textLength="8.2" lengthAdjust="spacingAndGlyphs" stroke="#3a3a3a" stroke-width="0.08">10<tspan dy="-2.6" font-size="4.0">6</tspan></text>
<line x1="183.80" y1="420.10" x2="185.80" y2="420.10" stroke="#222" stroke-width="0.8"/>
<text x="178.80" y="422.20" font-size="6.4" text-anchor="end" fill="#3a3a3a" textLength="8.2" lengthAdjust="spacingAndGlyphs" stroke="#3a3a3a" stroke-width="0.08">10<tspan dy="-2.6" font-size="4.0">5</tspan></text>
<line x1="183.80" y1="434.50" x2="185.80" y2="434.50" stroke="#222" stroke-width="0.8"/>
<text x="178.80" y="436.60" font-size="6.4" text-anchor="end" fill="#3a3a3a" textLength="8.2" lengthAdjust="spacingAndGlyphs" stroke="#3a3a3a" stroke-width="0.08">10<tspan dy="-2.6" font-size="4.0">4</tspan></text>
<line x1="183.80" y1="449.00" x2="185.80" y2="449.00" stroke="#222" stroke-width="0.8"/>
<text x="178.80" y="451.10" font-size="6.4" text-anchor="end" fill="#3a3a3a" textLength="8.2" lengthAdjust="spacingAndGlyphs" stroke="#3a3a3a" stroke-width="0.08">10<tspan dy="-2.6" font-size="4.0">3</tspan></text>
<line x1="183.80" y1="463.40" x2="185.80" y2="463.40" stroke="#222" stroke-width="0.8"/>
<text x="178.80" y="465.50" font-size="6.4" text-anchor="end" fill="#3a3a3a" textLength="8.2" lengthAdjust="spacingAndGlyphs" stroke="#3a3a3a" stroke-width="0.08">10<tspan dy="-2.6" font-size="4.0">2</tspan></text>
<line x1="185.40" y1="463.40" x2="268.50" y2="463.40" stroke="#222" stroke-width="0.95"/>
<line x1="207.60" y1="463.40" x2="207.60" y2="466.00" stroke="#222" stroke-width="0.8"/>
<line x1="249.80" y1="463.40" x2="249.80" y2="466.00" stroke="#222" stroke-width="0.8"/>
<text x="207.80" y="475.50" font-size="6.3" text-anchor="middle" fill="#3a3a3a" stroke="#3a3a3a" stroke-width="0.08">BM</text>
<text x="250.00" y="475.50" font-size="6.3" text-anchor="middle" fill="#3a3a3a" stroke="#3a3a3a" stroke-width="0.08">Spleen</text>
<text x="164.40" y="432.00" font-size="8.4" text-anchor="middle" fill="#3a3a3a" textLength="70.3" lengthAdjust="spacingAndGlyphs" transform="rotate(-90 164.40 432.00)" stroke="#3a3a3a" stroke-width="0.18"># of CD8<tspan dy="-2.3" font-size="4.8">+</tspan><tspan dy="2.3"> CAR-T cells</tspan></text>
<text x="296.60" y="382.60" font-size="11.2" text-anchor="start" fill="#111" font-weight="bold" stroke="#111" stroke-width="0.18">H</text>
<text x="385.00" y="390.80" font-size="7.8" text-anchor="middle" fill="#3a3a3a" textLength="33.6" lengthAdjust="spacingAndGlyphs" stroke="#3a3a3a" stroke-width="0.18">E2a-PBX</text>
<line x1="341.30" y1="402.70" x2="341.30" y2="431.90" stroke="#222" stroke-width="0.95"/>
<line x1="341.30" y1="436.20" x2="341.30" y2="463.90" stroke="#222" stroke-width="0.95"/>
<line x1="338.90" y1="431.90" x2="344.30" y2="431.90" stroke="#222" stroke-width="0.8"/>
<line x1="338.90" y1="436.20" x2="344.30" y2="436.20" stroke="#222" stroke-width="0.8"/>
<line x1="339.10" y1="405.50" x2="341.30" y2="405.50" stroke="#222" stroke-width="0.8"/>
<text x="336.10" y="407.50" font-size="5.7" text-anchor="end" fill="#3a3a3a" textLength="9.149999999999999" lengthAdjust="spacingAndGlyphs" stroke="#3a3a3a" stroke-width="0.08">100</text>
<line x1="339.10" y1="414.20" x2="341.30" y2="414.20" stroke="#222" stroke-width="0.8"/>
<text x="336.10" y="416.20" font-size="5.7" text-anchor="end" fill="#3a3a3a" textLength="6.1" lengthAdjust="spacingAndGlyphs" stroke="#3a3a3a" stroke-width="0.08">70</text>
<line x1="339.10" y1="422.70" x2="341.30" y2="422.70" stroke="#222" stroke-width="0.8"/>
<text x="336.10" y="424.70" font-size="5.7" text-anchor="end" fill="#3a3a3a" textLength="6.1" lengthAdjust="spacingAndGlyphs" stroke="#3a3a3a" stroke-width="0.08">40</text>
<line x1="339.10" y1="431.20" x2="341.30" y2="431.20" stroke="#222" stroke-width="0.8"/>
<text x="336.10" y="433.20" font-size="5.7" text-anchor="end" fill="#3a3a3a" textLength="6.1" lengthAdjust="spacingAndGlyphs" stroke="#3a3a3a" stroke-width="0.08">10</text>
<line x1="339.30" y1="463.50" x2="341.30" y2="463.50" stroke="#222" stroke-width="0.7"/>
<text x="336.90" y="464.70" font-size="3.4" text-anchor="end" fill="#3a3a3a" stroke="#3a3a3a" stroke-width="0.08">0</text>
<line x1="339.30" y1="458.90" x2="341.30" y2="458.90" stroke="#222" stroke-width="0.7"/>
<text x="336.90" y="460.10" font-size="3.4" text-anchor="end" fill="#3a3a3a" stroke="#3a3a3a" stroke-width="0.08">1</text>
<line x1="339.30" y1="454.30" x2="341.30" y2="454.30" stroke="#222" stroke-width="0.7"/>
<text x="336.90" y="455.50" font-size="3.4" text-anchor="end" fill="#3a3a3a" stroke="#3a3a3a" stroke-width="0.08">2</text>
<line x1="339.30" y1="449.70" x2="341.30" y2="449.70" stroke="#222" stroke-width="0.7"/>
<text x="336.90" y="450.90" font-size="3.4" text-anchor="end" fill="#3a3a3a" stroke="#3a3a3a" stroke-width="0.08">3</text>
<line x1="339.30" y1="445.10" x2="341.30" y2="445.10" stroke="#222" stroke-width="0.7"/>
<text x="336.90" y="446.30" font-size="3.4" text-anchor="end" fill="#3a3a3a" stroke="#3a3a3a" stroke-width="0.08">4</text>
<line x1="339.30" y1="440.60" x2="341.30" y2="440.60" stroke="#222" stroke-width="0.7"/>
<text x="336.90" y="441.80" font-size="3.4" text-anchor="end" fill="#3a3a3a" stroke="#3a3a3a" stroke-width="0.08">5</text>
<line x1="339.30" y1="436.30" x2="341.30" y2="436.30" stroke="#222" stroke-width="0.7"/>
<text x="336.90" y="437.50" font-size="3.4" text-anchor="end" fill="#3a3a3a" stroke="#3a3a3a" stroke-width="0.08">6</text>
<line x1="340.85" y1="463.80" x2="428.00" y2="463.80" stroke="#222" stroke-width="0.95"/>
<line x1="364.30" y1="463.80" x2="364.30" y2="466.40" stroke="#222" stroke-width="0.8"/>
<line x1="406.00" y1="463.80" x2="406.00" y2="466.40" stroke="#222" stroke-width="0.8"/>
<text x="364.30" y="476.00" font-size="6.3" text-anchor="middle" fill="#3a3a3a" stroke="#3a3a3a" stroke-width="0.08">BM</text>
<text x="406.00" y="476.00" font-size="6.3" text-anchor="middle" fill="#3a3a3a" stroke="#3a3a3a" stroke-width="0.08">Spleen</text>
<line x1="352.40" y1="405.50" x2="352.40" y2="463.50" stroke="#d0d0d0" stroke-width="1.0"/>
<line x1="351.40" y1="405.50" x2="353.40" y2="405.50" stroke="#d0d0d0" stroke-width="0.8"/>
<rect x="350.80" y="413.75" width="3.2" height="49.75" fill="#e2e2e2" stroke="#d6d6d6" stroke-width="0.4"/>
<circle cx="352.23" cy="428.83" r="0.8" fill="#c4c4c4"/>
<circle cx="352.13" cy="408.13" r="0.8" fill="#c4c4c4"/>
<circle cx="351.92" cy="450.99" r="0.8" fill="#c4c4c4"/>
<circle cx="352.14" cy="456.49" r="0.8" fill="#c4c4c4"/>
<circle cx="352.10" cy="419.98" r="0.8" fill="#c4c4c4"/>
<circle cx="352.41" cy="415.85" r="0.8" fill="#c4c4c4"/>
<circle cx="352.25" cy="457.61" r="0.8" fill="#c4c4c4"/>
<line x1="395.30" y1="411.30" x2="395.30" y2="463.50" stroke="#d0d0d0" stroke-width="1.0"/>
<line x1="394.30" y1="411.30" x2="396.30" y2="411.30" stroke="#d0d0d0" stroke-width="0.8"/>
<rect x="393.70" y="416.65" width="3.2" height="46.85" fill="#e2e2e2" stroke="#d6d6d6" stroke-width="0.4"/>
<circle cx="395.76" cy="450.84" r="0.8" fill="#c4c4c4"/>
<circle cx="395.46" cy="455.78" r="0.8" fill="#c4c4c4"/>
<circle cx="395.83" cy="438.05" r="0.8" fill="#c4c4c4"/>
<circle cx="395.56" cy="413.71" r="0.8" fill="#c4c4c4"/>
<circle cx="395.58" cy="433.26" r="0.8" fill="#c4c4c4"/>
<circle cx="395.60" cy="442.69" r="0.8" fill="#c4c4c4"/>
<circle cx="395.04" cy="413.69" r="0.8" fill="#c4c4c4"/>
<line x1="369.40" y1="421.90" x2="369.40" y2="463.50" stroke="#6b3c15" stroke-width="0.8"/>
<line x1="368.20" y1="421.90" x2="370.60" y2="421.90" stroke="#6b3c15" stroke-width="0.8"/>
<rect x="367.90" y="430.8" width="3.0" height="32.7" fill="#b27a45" stroke="#7a4a20" stroke-width="0.5"/>
<circle cx="369.83" cy="421.90" r="0.85" fill="#4a2a0c"/>
<circle cx="369.03" cy="440.00" r="0.85" fill="#4a2a0c"/>
<circle cx="369.37" cy="447.00" r="0.85" fill="#4a2a0c"/>
<circle cx="369.24" cy="452.00" r="0.85" fill="#4a2a0c"/>
<circle cx="369.20" cy="456.00" r="0.85" fill="#4a2a0c"/>
<circle cx="369.64" cy="460.00" r="0.85" fill="#4a2a0c"/>
<line x1="411.80" y1="415.10" x2="411.80" y2="463.50" stroke="#6b3c15" stroke-width="0.8"/>
<line x1="410.60" y1="415.10" x2="413.00" y2="415.10" stroke="#6b3c15" stroke-width="0.8"/>
<rect x="410.30" y="430.8" width="3.0" height="32.7" fill="#b27a45" stroke="#7a4a20" stroke-width="0.5"/>
<circle cx="412.28" cy="415.10" r="0.85" fill="#4a2a0c"/>
<circle cx="411.56" cy="440.00" r="0.85" fill="#4a2a0c"/>
<circle cx="411.96" cy="447.00" r="0.85" fill="#4a2a0c"/>
<circle cx="411.60" cy="452.00" r="0.85" fill="#4a2a0c"/>
<circle cx="411.86" cy="456.00" r="0.85" fill="#4a2a0c"/>
<circle cx="411.69" cy="460.00" r="0.85" fill="#4a2a0c"/>
<line x1="380.00" y1="451.30" x2="380.00" y2="463.50" stroke="#3aad48" stroke-width="0.8"/>
<line x1="378.80" y1="451.30" x2="381.20" y2="451.30" stroke="#3aad48" stroke-width="0.8"/>
<line x1="344.20" y1="463.60" x2="347.80" y2="463.60" stroke="#1d4889" stroke-width="1.4"/>
<line x1="355.70" y1="463.60" x2="359.30" y2="463.60" stroke="#c8102e" stroke-width="1.4"/>
<line x1="362.00" y1="463.60" x2="365.60" y2="463.60" stroke="#3ea8e2" stroke-width="1.4"/>
<line x1="372.80" y1="463.60" x2="376.40" y2="463.60" stroke="#f5a01a" stroke-width="1.4"/>
<line x1="378.20" y1="463.60" x2="381.80" y2="463.60" stroke="#3aad48" stroke-width="1.4"/>
<line x1="387.70" y1="463.60" x2="391.30" y2="463.60" stroke="#1d4889" stroke-width="1.4"/>
<line x1="399.00" y1="463.60" x2="402.60" y2="463.60" stroke="#c8102e" stroke-width="1.4"/>
<line x1="404.30" y1="463.60" x2="407.90" y2="463.60" stroke="#3ea8e2" stroke-width="1.4"/>
<line x1="415.70" y1="463.60" x2="419.30" y2="463.60" stroke="#f5a01a" stroke-width="1.4"/>
<line x1="421.00" y1="463.60" x2="424.60" y2="463.60" stroke="#3aad48" stroke-width="1.4"/>
<line x1="363.80" y1="463.80" x2="363.80" y2="465.20" stroke="#3ea8e2" stroke-width="0.8"/>
<line x1="406.10" y1="463.80" x2="406.10" y2="465.20" stroke="#3ea8e2" stroke-width="0.8"/>
<text x="308.00" y="434.70" font-size="7.8" text-anchor="middle" fill="#3a3a3a" textLength="74" lengthAdjust="spacingAndGlyphs" transform="rotate(-90 308.00 434.70)" stroke="#3a3a3a" stroke-width="0.18">% H2k<tspan dy="-2.6" font-size="5">b+</tspan><tspan dy="2.6">H2k</tspan><tspan dy="-2.6" font-size="5">k-</tspan><tspan dy="2.6">CD19</tspan><tspan dy="-2.6" font-size="5">+</tspan></text>
<text x="319.00" y="434.00" font-size="7.8" text-anchor="middle" fill="#3a3a3a" textLength="46" lengthAdjust="spacingAndGlyphs" transform="rotate(-90 319.00 434.00)" stroke="#3a3a3a" stroke-width="0.18">of viable cells</text>
<rect x="437.60" y="364.60" width="5.90" height="5.90" fill="#1d4889" stroke="none" stroke-width="0.6"/>
<text x="446.60" y="369.60" font-size="6.0" text-anchor="start" fill="#3a3a3a" stroke="#3a3a3a" stroke-width="0.08">E2a-PBX, Allo BM, CAR D5</text>
<rect x="437.60" y="381.60" width="5.90" height="5.90" fill="#c9c9c9" stroke="none" stroke-width="0.6"/>
<text x="446.60" y="383.20" font-size="6.0" text-anchor="start" fill="#3a3a3a" stroke="#3a3a3a" stroke-width="0.08">E2a-PBX, Allo BM/Splen,</text>
<text x="446.60" y="390.20" font-size="6.0" text-anchor="start" fill="#3a3a3a" stroke="#3a3a3a" stroke-width="0.08">PTCy, NT D5</text>
<rect x="437.60" y="401.60" width="5.90" height="5.90" fill="#c8102e" stroke="none" stroke-width="0.6"/>
<text x="446.60" y="402.60" font-size="6.0" text-anchor="start" fill="#3a3a3a" stroke="#3a3a3a" stroke-width="0.08">E2a-PBX, Allo BM/Splen,</text>
<text x="446.60" y="409.50" font-size="6.0" text-anchor="start" fill="#3a3a3a" stroke="#3a3a3a" stroke-width="0.08">PTCy, CAR D5</text>
<rect x="437.60" y="418.00" width="5.90" height="5.90" fill="#3ea8e2" stroke="none" stroke-width="0.6"/>
<text x="446.60" y="422.30" font-size="6.0" text-anchor="start" fill="#3a3a3a" stroke="#3a3a3a" stroke-width="0.08">E2a-PBX, Syn BM, CAR D5</text>
<rect x="437.60" y="434.00" width="5.90" height="5.90" fill="#5a3212" stroke="none" stroke-width="0.6"/>
<text x="446.60" y="435.80" font-size="6.0" text-anchor="start" fill="#3a3a3a" stroke="#3a3a3a" stroke-width="0.08">E2a-PBX, Syn BM/Splen,</text>
<text x="446.60" y="442.60" font-size="6.0" text-anchor="start" fill="#3a3a3a" stroke="#3a3a3a" stroke-width="0.08">PTCy NT D5</text>
<rect x="437.60" y="454.40" width="5.90" height="5.90" fill="#f5a01a" stroke="none" stroke-width="0.6"/>
<text x="446.60" y="455.90" font-size="6.0" text-anchor="start" fill="#3a3a3a" stroke="#3a3a3a" stroke-width="0.08">E2a-PBX, Syn BM/Splen,</text>
<text x="446.60" y="462.50" font-size="6.0" text-anchor="start" fill="#3a3a3a" stroke="#3a3a3a" stroke-width="0.08">PTCy, CAR D5</text>
<rect x="437.60" y="474.60" width="5.90" height="5.90" fill="#3aad48" stroke="none" stroke-width="0.6"/>
<text x="446.60" y="475.80" font-size="6.0" text-anchor="start" fill="#3a3a3a" stroke="#3a3a3a" stroke-width="0.08">E2a-PBX, Syn BM/Splen,</text>
<text x="446.60" y="482.80" font-size="6.0" text-anchor="start" fill="#3a3a3a" stroke="#3a3a3a" stroke-width="0.08">No PTCy, CAR D5</text>
<text x="260.00" y="498.80" font-size="9.0" text-anchor="middle" fill="#3a3a3a" textLength="42.5" lengthAdjust="spacingAndGlyphs" stroke="#3a3a3a" stroke-width="0.18">Day +120</text>
<text x="6.90" y="513.80" font-size="11.2" text-anchor="start" fill="#111" font-weight="bold" stroke="#111" stroke-width="0.18">I</text>
<text x="57.85" y="526.20" font-size="8.4" text-anchor="middle" fill="#3a3a3a" textLength="68.9" lengthAdjust="spacingAndGlyphs" stroke="#3a3a3a" stroke-width="0.18">CD4<tspan dy="-2.8" font-size="5.2">+</tspan><tspan dy="2.8"> CAR-T cells</tspan></text>
<line x1="34.50" y1="533.00" x2="34.50" y2="594.55" stroke="#222" stroke-width="0.95"/>
<line x1="32.50" y1="594.10" x2="34.50" y2="594.10" stroke="#222" stroke-width="0.8"/>
<text x="27.50" y="596.20" font-size="5.5" text-anchor="end" fill="#3a3a3a" textLength="8.2" lengthAdjust="spacingAndGlyphs" stroke="#3a3a3a" stroke-width="0.08">10<tspan dy="-2.6" font-size="4.0">0</tspan></text>
<line x1="32.50" y1="585.60" x2="34.50" y2="585.60" stroke="#222" stroke-width="0.8"/>
<text x="27.50" y="587.70" font-size="5.5" text-anchor="end" fill="#3a3a3a" textLength="8.2" lengthAdjust="spacingAndGlyphs" stroke="#3a3a3a" stroke-width="0.08">10<tspan dy="-2.6" font-size="4.0">1</tspan></text>
<line x1="32.50" y1="577.10" x2="34.50" y2="577.10" stroke="#222" stroke-width="0.8"/>
<text x="27.50" y="579.20" font-size="5.5" text-anchor="end" fill="#3a3a3a" textLength="8.2" lengthAdjust="spacingAndGlyphs" stroke="#3a3a3a" stroke-width="0.08">10<tspan dy="-2.6" font-size="4.0">2</tspan></text>
<line x1="32.50" y1="568.60" x2="34.50" y2="568.60" stroke="#222" stroke-width="0.8"/>
<text x="27.50" y="570.70" font-size="5.5" text-anchor="end" fill="#3a3a3a" textLength="8.2" lengthAdjust="spacingAndGlyphs" stroke="#3a3a3a" stroke-width="0.08">10<tspan dy="-2.6" font-size="4.0">3</tspan></text>
<line x1="32.50" y1="560.10" x2="34.50" y2="560.10" stroke="#222" stroke-width="0.8"/>
<text x="27.50" y="562.20" font-size="5.5" text-anchor="end" fill="#3a3a3a" textLength="8.2" lengthAdjust="spacingAndGlyphs" stroke="#3a3a3a" stroke-width="0.08">10<tspan dy="-2.6" font-size="4.0">4</tspan></text>
<line x1="32.50" y1="551.60" x2="34.50" y2="551.60" stroke="#222" stroke-width="0.8"/>
<text x="27.50" y="553.70" font-size="5.5" text-anchor="end" fill="#3a3a3a" textLength="8.2" lengthAdjust="spacingAndGlyphs" stroke="#3a3a3a" stroke-width="0.08">10<tspan dy="-2.6" font-size="4.0">5</tspan></text>
<line x1="32.50" y1="543.10" x2="34.50" y2="543.10" stroke="#222" stroke-width="0.8"/>
<text x="27.50" y="545.20" font-size="5.5" text-anchor="end" fill="#3a3a3a" textLength="8.2" lengthAdjust="spacingAndGlyphs" stroke="#3a3a3a" stroke-width="0.08">10<tspan dy="-2.6" font-size="4.0">6</tspan></text>
<line x1="32.50" y1="534.60" x2="34.50" y2="534.60" stroke="#222" stroke-width="0.8"/>
<text x="27.50" y="536.70" font-size="5.5" text-anchor="end" fill="#3a3a3a" textLength="8.2" lengthAdjust="spacingAndGlyphs" stroke="#3a3a3a" stroke-width="0.08">10<tspan dy="-2.6" font-size="4.0">7</tspan></text>
<line x1="34.10" y1="594.10" x2="81.90" y2="594.10" stroke="#222" stroke-width="0.95"/>
<line x1="58.20" y1="594.10" x2="58.20" y2="596.60" stroke="#222" stroke-width="0.8"/>
<text x="58.40" y="606.40" font-size="6.0" text-anchor="middle" fill="#3a3a3a" stroke="#3a3a3a" stroke-width="0.08">BM</text>
<line x1="42.60" y1="543.50" x2="42.60" y2="586.40" stroke="#1d4889" stroke-width="0.8"/>
<line x1="41.00" y1="543.50" x2="44.20" y2="543.50" stroke="#1d4889" stroke-width="0.8"/>
<line x1="41.00" y1="586.40" x2="44.20" y2="586.40" stroke="#1d4889" stroke-width="0.8"/>
<rect x="39.60" y="554.40" width="6.00" height="15.30" fill="#1d4889" fill-opacity="0.5" stroke="#1d4889" stroke-width="0.7"/>
<line x1="39.60" y1="562.05" x2="45.60" y2="562.05" stroke="#1d4889" stroke-width="0.8"/>
<circle cx="41.40" cy="543.50" r="1.05" fill="#1d4889"/>
<circle cx="41.38" cy="586.40" r="1.05" fill="#1d4889"/>
<circle cx="44.06" cy="557.58" r="1.05" fill="#1d4889"/>
<circle cx="41.59" cy="562.01" r="1.05" fill="#1d4889"/>
<circle cx="44.39" cy="568.27" r="1.05" fill="#1d4889"/>
<circle cx="41.30" cy="561.28" r="1.05" fill="#1d4889"/>
<circle cx="41.13" cy="557.34" r="1.05" fill="#1d4889"/>
<circle cx="41.13" cy="559.63" r="1.05" fill="#1d4889"/>
<circle cx="41.73" cy="558.06" r="1.05" fill="#1d4889"/>
<circle cx="43.99" cy="563.12" r="1.05" fill="#1d4889"/>
<circle cx="42.29" cy="565.87" r="1.05" fill="#1d4889"/>
<circle cx="42.69" cy="560.73" r="1.05" fill="#1d4889"/>
<circle cx="42.02" cy="560.17" r="1.05" fill="#1d4889"/>
<circle cx="41.80" cy="555.35" r="1.05" fill="#1d4889"/>
<circle cx="41.25" cy="569.21" r="1.05" fill="#1d4889"/>
<circle cx="43.07" cy="562.10" r="1.05" fill="#1d4889"/>
<line x1="52.80" y1="557.20" x2="52.80" y2="569.10" stroke="#c8102e" stroke-width="0.8"/>
<line x1="51.20" y1="557.20" x2="54.40" y2="557.20" stroke="#c8102e" stroke-width="0.8"/>
<line x1="51.20" y1="569.10" x2="54.40" y2="569.10" stroke="#c8102e" stroke-width="0.8"/>
<rect x="49.95" y="560.10" width="5.70" height="7.10" fill="#c8102e" fill-opacity="0.5" stroke="#c8102e" stroke-width="0.7"/>
<line x1="49.95" y1="563.65" x2="55.65" y2="563.65" stroke="#c8102e" stroke-width="0.8"/>
<circle cx="54.04" cy="557.20" r="1.05" fill="#c8102e"/>
<circle cx="51.83" cy="569.10" r="1.05" fill="#c8102e"/>
<circle cx="51.94" cy="562.02" r="1.05" fill="#c8102e"/>
<circle cx="52.61" cy="562.94" r="1.05" fill="#c8102e"/>
<circle cx="53.99" cy="566.87" r="1.05" fill="#c8102e"/>
<circle cx="51.16" cy="566.30" r="1.05" fill="#c8102e"/>
<circle cx="53.52" cy="560.33" r="1.05" fill="#c8102e"/>
<circle cx="52.71" cy="566.46" r="1.05" fill="#c8102e"/>
<circle cx="51.09" cy="564.27" r="1.05" fill="#c8102e"/>
<line x1="63.10" y1="561.40" x2="63.10" y2="571.00" stroke="#f5a01a" stroke-width="0.8"/>
<line x1="61.50" y1="561.40" x2="64.70" y2="561.40" stroke="#f5a01a" stroke-width="0.8"/>
<line x1="61.50" y1="571.00" x2="64.70" y2="571.00" stroke="#f5a01a" stroke-width="0.8"/>
<rect x="60.20" y="562.70" width="5.80" height="6.40" fill="#f5a01a" fill-opacity="0.5" stroke="#f5a01a" stroke-width="0.7"/>
<line x1="60.20" y1="565.90" x2="66.00" y2="565.90" stroke="#f5a01a" stroke-width="0.8"/>
<circle cx="62.72" cy="561.40" r="1.05" fill="#f5a01a"/>
<circle cx="64.59" cy="571.00" r="1.05" fill="#f5a01a"/>
<circle cx="64.34" cy="567.98" r="1.05" fill="#f5a01a"/>
<circle cx="62.22" cy="568.92" r="1.05" fill="#f5a01a"/>
<circle cx="61.90" cy="563.40" r="1.05" fill="#f5a01a"/>
<circle cx="63.73" cy="566.04" r="1.05" fill="#f5a01a"/>
<circle cx="63.87" cy="568.73" r="1.05" fill="#f5a01a"/>
<circle cx="64.02" cy="566.84" r="1.05" fill="#f5a01a"/>
<circle cx="63.28" cy="565.63" r="1.05" fill="#f5a01a"/>
<circle cx="64.08" cy="562.95" r="1.05" fill="#f5a01a"/>
<line x1="73.60" y1="555.60" x2="73.60" y2="563.60" stroke="#3aad48" stroke-width="0.8"/>
<line x1="72.00" y1="555.60" x2="75.20" y2="555.60" stroke="#3aad48" stroke-width="0.8"/>
<line x1="72.00" y1="563.60" x2="75.20" y2="563.60" stroke="#3aad48" stroke-width="0.8"/>
<rect x="70.80" y="556.30" width="5.60" height="5.70" fill="#3aad48" fill-opacity="0.5" stroke="#3aad48" stroke-width="0.7"/>
<line x1="70.80" y1="559.15" x2="76.40" y2="559.15" stroke="#3aad48" stroke-width="0.8"/>
<circle cx="72.70" cy="555.60" r="1.05" fill="#3aad48"/>
<circle cx="75.01" cy="563.60" r="1.05" fill="#3aad48"/>
<circle cx="72.94" cy="559.98" r="1.05" fill="#3aad48"/>
<circle cx="72.77" cy="557.03" r="1.05" fill="#3aad48"/>
<circle cx="74.27" cy="559.93" r="1.05" fill="#3aad48"/>
<circle cx="72.16" cy="556.94" r="1.05" fill="#3aad48"/>
<circle cx="73.88" cy="559.29" r="1.05" fill="#3aad48"/>
<text x="11.00" y="563.90" font-size="8.2" text-anchor="middle" fill="#3a3a3a" textLength="63" lengthAdjust="spacingAndGlyphs" transform="rotate(-90 11.00 563.90)" stroke="#3a3a3a" stroke-width="0.18"># of CD4<tspan dy="-2.3" font-size="4.8">+</tspan><tspan dy="2.3"> CAR-T cells</tspan></text>
<text x="118.40" y="513.80" font-size="11.2" text-anchor="start" fill="#111" font-weight="bold" stroke="#111" stroke-width="0.18">J</text>
<text x="170.25" y="526.20" font-size="8.4" text-anchor="middle" fill="#3a3a3a" textLength="70.5" lengthAdjust="spacingAndGlyphs" stroke="#3a3a3a" stroke-width="0.18">CD8<tspan dy="-2.8" font-size="5.2">+</tspan><tspan dy="2.8"> CAR-T cells</tspan></text>
<line x1="146.80" y1="534.00" x2="146.80" y2="594.75" stroke="#222" stroke-width="0.95"/>
<line x1="144.80" y1="594.30" x2="146.80" y2="594.30" stroke="#222" stroke-width="0.8"/>
<text x="139.80" y="596.40" font-size="5.5" text-anchor="end" fill="#3a3a3a" textLength="10.2" lengthAdjust="spacingAndGlyphs" stroke="#3a3a3a" stroke-width="0.08">10<tspan dy="-2.6" font-size="4.0">-1</tspan></text>
<line x1="144.80" y1="585.99" x2="146.80" y2="585.99" stroke="#222" stroke-width="0.8"/>
<text x="139.80" y="588.09" font-size="5.5" text-anchor="end" fill="#3a3a3a" textLength="8.2" lengthAdjust="spacingAndGlyphs" stroke="#3a3a3a" stroke-width="0.08">10<tspan dy="-2.6" font-size="4.0">0</tspan></text>
<line x1="144.80" y1="577.67" x2="146.80" y2="577.67" stroke="#222" stroke-width="0.8"/>
<text x="139.80" y="579.77" font-size="5.5" text-anchor="end" fill="#3a3a3a" textLength="8.2" lengthAdjust="spacingAndGlyphs" stroke="#3a3a3a" stroke-width="0.08">10<tspan dy="-2.6" font-size="4.0">1</tspan></text>
<line x1="144.80" y1="569.36" x2="146.80" y2="569.36" stroke="#222" stroke-width="0.8"/>
<text x="139.80" y="571.46" font-size="5.5" text-anchor="end" fill="#3a3a3a" textLength="8.2" lengthAdjust="spacingAndGlyphs" stroke="#3a3a3a" stroke-width="0.08">10<tspan dy="-2.6" font-size="4.0">2</tspan></text>
<line x1="144.80" y1="561.04" x2="146.80" y2="561.04" stroke="#222" stroke-width="0.8"/>
<text x="139.80" y="563.14" font-size="5.5" text-anchor="end" fill="#3a3a3a" textLength="8.2" lengthAdjust="spacingAndGlyphs" stroke="#3a3a3a" stroke-width="0.08">10<tspan dy="-2.6" font-size="4.0">3</tspan></text>
<line x1="144.80" y1="552.73" x2="146.80" y2="552.73" stroke="#222" stroke-width="0.8"/>
<text x="139.80" y="554.83" font-size="5.5" text-anchor="end" fill="#3a3a3a" textLength="8.2" lengthAdjust="spacingAndGlyphs" stroke="#3a3a3a" stroke-width="0.08">10<tspan dy="-2.6" font-size="4.0">4</tspan></text>
<line x1="144.80" y1="544.41" x2="146.80" y2="544.41" stroke="#222" stroke-width="0.8"/>
<text x="139.80" y="546.51" font-size="5.5" text-anchor="end" fill="#3a3a3a" textLength="8.2" lengthAdjust="spacingAndGlyphs" stroke="#3a3a3a" stroke-width="0.08">10<tspan dy="-2.6" font-size="4.0">5</tspan></text>
<line x1="144.80" y1="536.10" x2="146.80" y2="536.10" stroke="#222" stroke-width="0.8"/>
<text x="139.80" y="538.20" font-size="5.5" text-anchor="end" fill="#3a3a3a" textLength="8.2" lengthAdjust="spacingAndGlyphs" stroke="#3a3a3a" stroke-width="0.08">10<tspan dy="-2.6" font-size="4.0">6</tspan></text>
<line x1="146.40" y1="594.30" x2="194.60" y2="594.30" stroke="#222" stroke-width="0.95"/>
<line x1="170.40" y1="594.30" x2="170.40" y2="596.80" stroke="#222" stroke-width="0.8"/>
<text x="170.40" y="606.00" font-size="6.0" text-anchor="middle" fill="#3a3a3a" stroke="#3a3a3a" stroke-width="0.08">BM</text>
<line x1="155.60" y1="544.10" x2="155.60" y2="586.30" stroke="#1d4889" stroke-width="0.8"/>
<line x1="154.00" y1="544.10" x2="157.20" y2="544.10" stroke="#1d4889" stroke-width="0.8"/>
<line x1="154.00" y1="586.30" x2="157.20" y2="586.30" stroke="#1d4889" stroke-width="0.8"/>
<rect x="152.50" y="554.20" width="6.20" height="8.10" fill="#1d4889" fill-opacity="0.5" stroke="#1d4889" stroke-width="0.7"/>
<line x1="152.50" y1="558.25" x2="158.70" y2="558.25" stroke="#1d4889" stroke-width="0.8"/>
<circle cx="155.18" cy="544.10" r="1.05" fill="#1d4889"/>
<circle cx="154.57" cy="586.30" r="1.05" fill="#1d4889"/>
<circle cx="153.78" cy="559.07" r="1.05" fill="#1d4889"/>
<circle cx="155.45" cy="556.64" r="1.05" fill="#1d4889"/>
<circle cx="156.14" cy="561.97" r="1.05" fill="#1d4889"/>
<circle cx="155.51" cy="561.36" r="1.05" fill="#1d4889"/>
<circle cx="154.66" cy="556.10" r="1.05" fill="#1d4889"/>
<circle cx="156.36" cy="561.98" r="1.05" fill="#1d4889"/>
<circle cx="153.82" cy="556.69" r="1.05" fill="#1d4889"/>
<circle cx="156.25" cy="558.24" r="1.05" fill="#1d4889"/>
<circle cx="154.70" cy="557.60" r="1.05" fill="#1d4889"/>
<circle cx="157.18" cy="559.61" r="1.05" fill="#1d4889"/>
<circle cx="153.87" cy="556.04" r="1.05" fill="#1d4889"/>
<circle cx="155.30" cy="556.94" r="1.05" fill="#1d4889"/>
<circle cx="154.48" cy="559.73" r="1.05" fill="#1d4889"/>
<circle cx="156.49" cy="560.66" r="1.05" fill="#1d4889"/>
<line x1="165.70" y1="540.80" x2="165.70" y2="562.00" stroke="#c8102e" stroke-width="0.8"/>
<line x1="164.10" y1="540.80" x2="167.30" y2="540.80" stroke="#c8102e" stroke-width="0.8"/>
<line x1="164.10" y1="562.00" x2="167.30" y2="562.00" stroke="#c8102e" stroke-width="0.8"/>
<rect x="162.70" y="558.30" width="6.00" height="3.70" fill="#c8102e" fill-opacity="0.5" stroke="#c8102e" stroke-width="0.7"/>
<line x1="162.70" y1="560.15" x2="168.70" y2="560.15" stroke="#c8102e" stroke-width="0.8"/>
<circle cx="165.72" cy="540.80" r="1.05" fill="#c8102e"/>
<circle cx="164.64" cy="562.00" r="1.05" fill="#c8102e"/>
<circle cx="165.02" cy="561.89" r="1.05" fill="#c8102e"/>
<circle cx="164.73" cy="561.33" r="1.05" fill="#c8102e"/>
<circle cx="166.64" cy="559.12" r="1.05" fill="#c8102e"/>
<circle cx="167.33" cy="559.39" r="1.05" fill="#c8102e"/>
<circle cx="164.57" cy="560.13" r="1.05" fill="#c8102e"/>
<circle cx="165.40" cy="559.13" r="1.05" fill="#c8102e"/>
<circle cx="167.32" cy="560.76" r="1.05" fill="#c8102e"/>
<circle cx="165.32" cy="558.84" r="1.05" fill="#c8102e"/>
<circle cx="167.41" cy="559.09" r="1.05" fill="#c8102e"/>
<circle cx="164.09" cy="558.83" r="1.05" fill="#c8102e"/>
<line x1="176.00" y1="549.50" x2="176.00" y2="563.90" stroke="#f5a01a" stroke-width="0.8"/>
<line x1="174.40" y1="549.50" x2="177.60" y2="549.50" stroke="#f5a01a" stroke-width="0.8"/>
<line x1="174.40" y1="563.90" x2="177.60" y2="563.90" stroke="#f5a01a" stroke-width="0.8"/>
<rect x="173.10" y="554.20" width="5.80" height="6.10" fill="#f5a01a" fill-opacity="0.5" stroke="#f5a01a" stroke-width="0.7"/>
<line x1="173.10" y1="557.25" x2="178.90" y2="557.25" stroke="#f5a01a" stroke-width="0.8"/>
<circle cx="174.47" cy="549.50" r="1.05" fill="#f5a01a"/>
<circle cx="175.63" cy="563.90" r="1.05" fill="#f5a01a"/>
<circle cx="177.33" cy="559.68" r="1.05" fill="#f5a01a"/>
<circle cx="177.73" cy="558.67" r="1.05" fill="#f5a01a"/>
<circle cx="175.41" cy="559.88" r="1.05" fill="#f5a01a"/>
<circle cx="177.52" cy="555.33" r="1.05" fill="#f5a01a"/>
<circle cx="174.37" cy="558.75" r="1.05" fill="#f5a01a"/>
<circle cx="175.58" cy="558.25" r="1.05" fill="#f5a01a"/>
<circle cx="175.41" cy="556.48" r="1.05" fill="#f5a01a"/>
<circle cx="174.27" cy="555.23" r="1.05" fill="#f5a01a"/>
<line x1="186.50" y1="552.20" x2="186.50" y2="573.10" stroke="#3aad48" stroke-width="0.8"/>
<line x1="184.90" y1="552.20" x2="188.10" y2="552.20" stroke="#3aad48" stroke-width="0.8"/>
<line x1="184.90" y1="573.10" x2="188.10" y2="573.10" stroke="#3aad48" stroke-width="0.8"/>
<rect x="183.60" y="554.90" width="5.80" height="6.70" fill="#3aad48" fill-opacity="0.5" stroke="#3aad48" stroke-width="0.7"/>
<line x1="183.60" y1="558.25" x2="189.40" y2="558.25" stroke="#3aad48" stroke-width="0.8"/>
<circle cx="185.73" cy="552.20" r="1.05" fill="#3aad48"/>
<circle cx="185.98" cy="573.10" r="1.05" fill="#3aad48"/>
<circle cx="185.19" cy="561.30" r="1.05" fill="#3aad48"/>
<circle cx="185.48" cy="561.36" r="1.05" fill="#3aad48"/>
<circle cx="187.62" cy="557.29" r="1.05" fill="#3aad48"/>
<circle cx="186.26" cy="560.41" r="1.05" fill="#3aad48"/>
<circle cx="186.41" cy="555.23" r="1.05" fill="#3aad48"/>
<circle cx="187.96" cy="557.40" r="1.05" fill="#3aad48"/>
<text x="125.60" y="563.50" font-size="8.2" text-anchor="middle" fill="#3a3a3a" textLength="62.3" lengthAdjust="spacingAndGlyphs" transform="rotate(-90 125.60 563.50)" stroke="#3a3a3a" stroke-width="0.18"># of CD8<tspan dy="-2.3" font-size="4.8">+</tspan><tspan dy="2.3"> CAR-T cells</tspan></text>
<text x="226.60" y="513.80" font-size="11.2" text-anchor="start" fill="#111" font-weight="bold" stroke="#111" stroke-width="0.18">K</text>
<line x1="265.70" y1="534.00" x2="265.70" y2="594.20" stroke="#222" stroke-width="0.95"/>
<line x1="263.50" y1="593.50" x2="265.70" y2="593.50" stroke="#222" stroke-width="0.8"/>
<text x="260.70" y="595.50" font-size="5.6" text-anchor="end" fill="#3a3a3a" textLength="2.6" lengthAdjust="spacingAndGlyphs" stroke="#3a3a3a" stroke-width="0.08">0</text>
<line x1="263.50" y1="581.98" x2="265.70" y2="581.98" stroke="#222" stroke-width="0.8"/>
<text x="260.70" y="583.98" font-size="5.6" text-anchor="end" fill="#3a3a3a" textLength="2.6" lengthAdjust="spacingAndGlyphs" stroke="#3a3a3a" stroke-width="0.08">2</text>
<line x1="263.50" y1="570.46" x2="265.70" y2="570.46" stroke="#222" stroke-width="0.8"/>
<text x="260.70" y="572.46" font-size="5.6" text-anchor="end" fill="#3a3a3a" textLength="2.6" lengthAdjust="spacingAndGlyphs" stroke="#3a3a3a" stroke-width="0.08">4</text>
<line x1="263.50" y1="558.94" x2="265.70" y2="558.94" stroke="#222" stroke-width="0.8"/>
<text x="260.70" y="560.94" font-size="5.6" text-anchor="end" fill="#3a3a3a" textLength="2.6" lengthAdjust="spacingAndGlyphs" stroke="#3a3a3a" stroke-width="0.08">6</text>
<line x1="263.50" y1="547.42" x2="265.70" y2="547.42" stroke="#222" stroke-width="0.8"/>
<text x="260.70" y="549.42" font-size="5.6" text-anchor="end" fill="#3a3a3a" textLength="2.6" lengthAdjust="spacingAndGlyphs" stroke="#3a3a3a" stroke-width="0.08">8</text>
<line x1="263.50" y1="535.90" x2="265.70" y2="535.90" stroke="#222" stroke-width="0.8"/>
<text x="260.70" y="537.90" font-size="5.6" text-anchor="end" fill="#3a3a3a" textLength="5.2" lengthAdjust="spacingAndGlyphs" stroke="#3a3a3a" stroke-width="0.08">10</text>
<line x1="265.25" y1="593.80" x2="312.50" y2="593.80" stroke="#222" stroke-width="0.95"/>
<line x1="290.50" y1="593.80" x2="290.50" y2="596.40" stroke="#222" stroke-width="0.8"/>
<text x="290.50" y="605.60" font-size="5.6" text-anchor="middle" fill="#3a3a3a" stroke="#3a3a3a" stroke-width="0.08">BM</text>
<line x1="271.30" y1="593.60" x2="278.80" y2="593.60" stroke="#1d4889" stroke-width="1.5"/>
<line x1="282.00" y1="593.60" x2="288.80" y2="593.60" stroke="#c8102e" stroke-width="1.5"/>
<line x1="292.50" y1="593.60" x2="299.50" y2="593.60" stroke="#f5a01a" stroke-width="1.5"/>
<line x1="302.50" y1="593.60" x2="310.00" y2="593.60" stroke="#3aad48" stroke-width="1.5"/>
<text x="289.70" y="524.50" font-size="7.8" text-anchor="middle" fill="#3a3a3a" textLength="33.6" lengthAdjust="spacingAndGlyphs" stroke="#3a3a3a" stroke-width="0.18">E2a-PBX</text>
<text x="237.60" y="563.40" font-size="7.4" text-anchor="middle" fill="#3a3a3a" textLength="66.8" lengthAdjust="spacingAndGlyphs" transform="rotate(-90 237.60 563.40)" stroke="#3a3a3a" stroke-width="0.18">% H2k<tspan dy="-2.6" font-size="5">b+</tspan><tspan dy="2.6">H2k</tspan><tspan dy="-2.6" font-size="5">k-</tspan><tspan dy="2.6">CD19</tspan><tspan dy="-2.6" font-size="5">+</tspan></text>
<text x="247.30" y="563.40" font-size="7.4" text-anchor="middle" fill="#3a3a3a" textLength="41.5" lengthAdjust="spacingAndGlyphs" transform="rotate(-90 247.30 563.40)" stroke="#3a3a3a" stroke-width="0.18">of viable cells</text>
<text x="341.60" y="513.80" font-size="11.2" text-anchor="start" fill="#111" font-weight="bold" stroke="#111" stroke-width="0.18">L</text>
<line x1="380.50" y1="534.00" x2="380.50" y2="594.20" stroke="#222" stroke-width="0.95"/>
<line x1="378.30" y1="593.50" x2="380.50" y2="593.50" stroke="#222" stroke-width="0.8"/>
<text x="375.50" y="595.50" font-size="5.6" text-anchor="end" fill="#3a3a3a" textLength="2.6" lengthAdjust="spacingAndGlyphs" stroke="#3a3a3a" stroke-width="0.08">0</text>
<line x1="378.30" y1="581.98" x2="380.50" y2="581.98" stroke="#222" stroke-width="0.8"/>
<text x="375.50" y="583.98" font-size="5.6" text-anchor="end" fill="#3a3a3a" textLength="2.6" lengthAdjust="spacingAndGlyphs" stroke="#3a3a3a" stroke-width="0.08">2</text>
<line x1="378.30" y1="570.46" x2="380.50" y2="570.46" stroke="#222" stroke-width="0.8"/>
<text x="375.50" y="572.46" font-size="5.6" text-anchor="end" fill="#3a3a3a" textLength="2.6" lengthAdjust="spacingAndGlyphs" stroke="#3a3a3a" stroke-width="0.08">4</text>
<line x1="378.30" y1="558.94" x2="380.50" y2="558.94" stroke="#222" stroke-width="0.8"/>
<text x="375.50" y="560.94" font-size="5.6" text-anchor="end" fill="#3a3a3a" textLength="2.6" lengthAdjust="spacingAndGlyphs" stroke="#3a3a3a" stroke-width="0.08">6</text>
<line x1="378.30" y1="547.42" x2="380.50" y2="547.42" stroke="#222" stroke-width="0.8"/>
<text x="375.50" y="549.42" font-size="5.6" text-anchor="end" fill="#3a3a3a" textLength="2.6" lengthAdjust="spacingAndGlyphs" stroke="#3a3a3a" stroke-width="0.08">8</text>
<line x1="378.30" y1="535.90" x2="380.50" y2="535.90" stroke="#222" stroke-width="0.8"/>
<text x="375.50" y="537.90" font-size="5.6" text-anchor="end" fill="#3a3a3a" textLength="5.2" lengthAdjust="spacingAndGlyphs" stroke="#3a3a3a" stroke-width="0.08">10</text>
<line x1="380.05" y1="593.80" x2="427.50" y2="593.80" stroke="#222" stroke-width="0.95"/>
<line x1="405.50" y1="593.80" x2="405.50" y2="596.40" stroke="#222" stroke-width="0.8"/>
<text x="405.50" y="605.60" font-size="5.6" text-anchor="middle" fill="#3a3a3a" stroke="#3a3a3a" stroke-width="0.08">BM</text>
<line x1="386.00" y1="593.60" x2="393.50" y2="593.60" stroke="#1d4889" stroke-width="1.5"/>
<line x1="397.00" y1="593.60" x2="404.00" y2="593.60" stroke="#c8102e" stroke-width="1.5"/>
<line x1="407.50" y1="593.60" x2="414.50" y2="593.60" stroke="#f5a01a" stroke-width="1.5"/>
<line x1="417.50" y1="593.60" x2="425.00" y2="593.60" stroke="#3aad48" stroke-width="1.5"/>
<text x="405.00" y="524.50" font-size="8.5" text-anchor="middle" fill="#3a3a3a" textLength="52.5" lengthAdjust="spacingAndGlyphs" stroke="#3a3a3a" stroke-width="0.18">Donor B cells</text>
<text x="352.40" y="563.40" font-size="7.4" text-anchor="middle" fill="#3a3a3a" textLength="66.8" lengthAdjust="spacingAndGlyphs" transform="rotate(-90 352.40 563.40)" stroke="#3a3a3a" stroke-width="0.18">% H2k<tspan dy="-2.6" font-size="5">b+</tspan><tspan dy="2.6">H2k</tspan><tspan dy="-2.6" font-size="5">k+</tspan><tspan dy="2.6">CD19</tspan><tspan dy="-2.6" font-size="5">+</tspan></text>
<text x="362.40" y="563.40" font-size="7.4" text-anchor="middle" fill="#3a3a3a" textLength="41.5" lengthAdjust="spacingAndGlyphs" transform="rotate(-90 362.40 563.40)" stroke="#3a3a3a" stroke-width="0.18">of viable cells</text>
<rect x="437.60" y="526.60" width="5.90" height="5.90" fill="#1d4889" stroke="none" stroke-width="0.6"/>
<text x="446.60" y="531.60" font-size="6.0" text-anchor="start" fill="#3a3a3a" stroke="#3a3a3a" stroke-width="0.08">E2a-PBX, Allo BM, CAR D5</text>
<rect x="437.60" y="543.80" width="5.90" height="5.90" fill="#c8102e" stroke="none" stroke-width="0.6"/>
<text x="446.60" y="544.60" font-size="6.0" text-anchor="start" fill="#3a3a3a" stroke="#3a3a3a" stroke-width="0.08">E2a-PBX, Allo BM/Splen,</text>
<text x="446.60" y="551.90" font-size="6.0" text-anchor="start" fill="#3a3a3a" stroke="#3a3a3a" stroke-width="0.08">PTCy, CAR D5</text>
<rect x="437.60" y="564.00" width="5.90" height="5.90" fill="#f5a01a" stroke="none" stroke-width="0.6"/>
<text x="446.60" y="564.90" font-size="6.0" text-anchor="start" fill="#3a3a3a" stroke="#3a3a3a" stroke-width="0.08">E2a-PBX, Syn BM/Splen,</text>
<text x="446.60" y="572.30" font-size="6.0" text-anchor="start" fill="#3a3a3a" stroke="#3a3a3a" stroke-width="0.08">PTCy, CAR D5</text>
<rect x="437.60" y="584.80" width="5.90" height="5.90" fill="#3aad48" stroke="none" stroke-width="0.6"/>
<text x="446.60" y="586.10" font-size="6.0" text-anchor="start" fill="#3a3a3a" stroke="#3a3a3a" stroke-width="0.08">E2a-PBX, Syn BM/Splen,</text>
<text x="446.60" y="593.10" font-size="6.0" text-anchor="start" fill="#3a3a3a" stroke="#3a3a3a" stroke-width="0.08">No PTCy, CAR D5</text>
</svg></body></html>
